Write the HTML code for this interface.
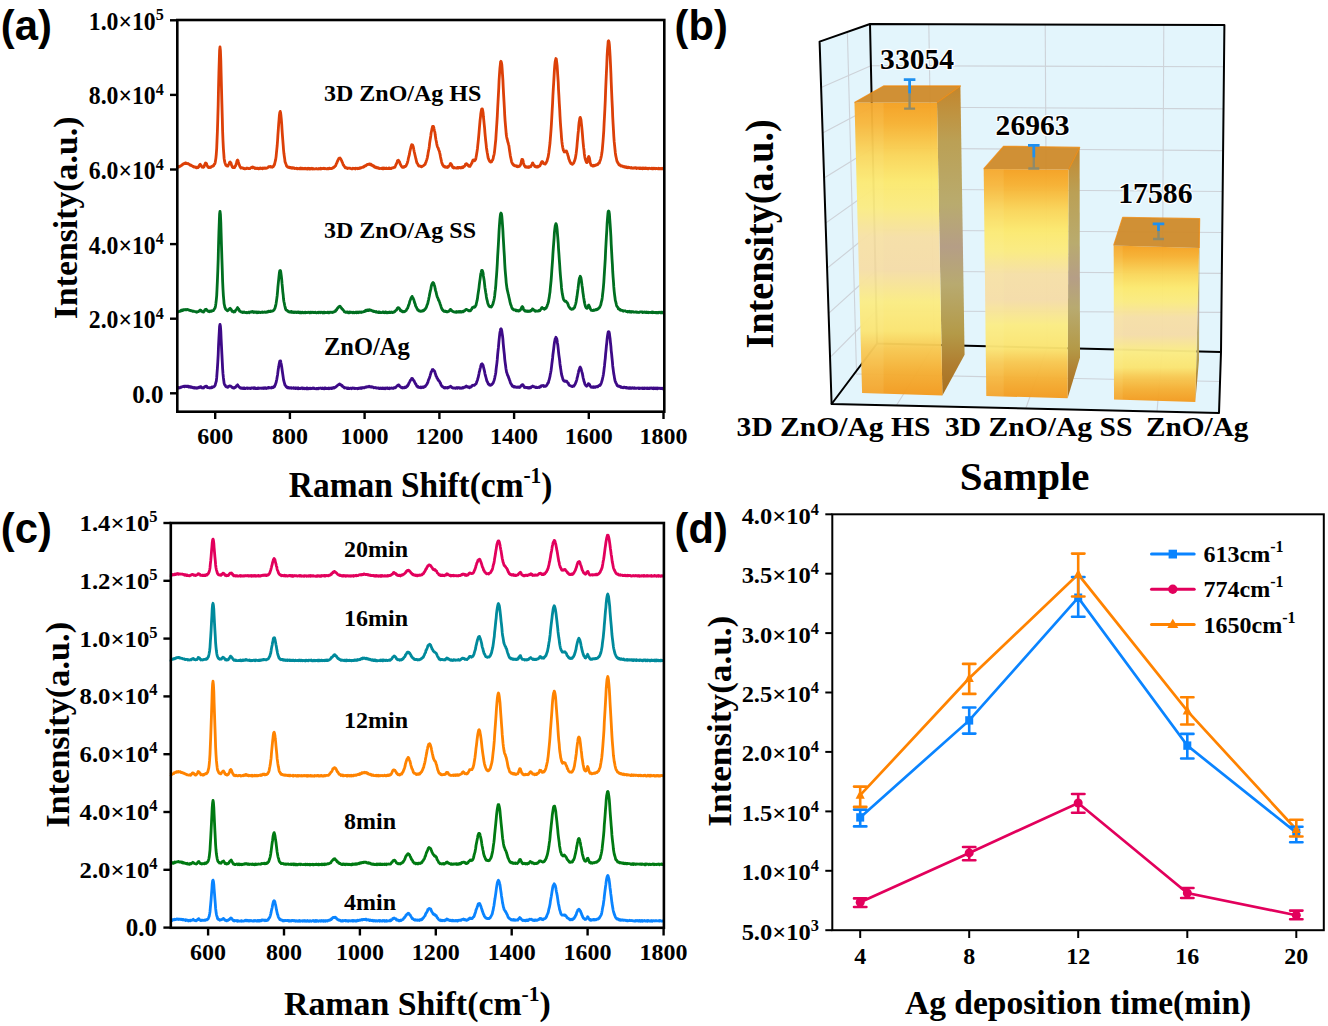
<!DOCTYPE html><html><head><meta charset="utf-8"><style>html,body{margin:0;padding:0;background:#fff;overflow:hidden}svg{display:block}</style></head><body><svg width="1328" height="1026" viewBox="0 0 1328 1026">
<rect width="100%" height="100%" fill="#fff"/>
<path d="M177.8,167.3 L178.2,167.3 L178.5,166.7 L178.9,167.0 L179.3,166.4 L179.7,166.3 L180.0,166.4 L180.4,165.8 L180.8,165.9 L181.2,165.4 L181.5,165.4 L181.9,165.2 L182.3,164.7 L182.7,164.2 L183.0,164.5 L183.4,164.2 L183.8,163.7 L184.2,163.3 L184.5,163.4 L184.9,163.5 L185.3,162.9 L185.6,163.6 L186.0,162.9 L186.4,163.4 L186.8,163.6 L187.1,163.7 L187.5,163.6 L187.9,163.4 L188.3,164.0 L188.6,163.9 L189.0,164.0 L189.4,164.4 L189.8,164.5 L190.1,165.1 L190.5,165.4 L190.9,165.5 L191.3,165.3 L191.6,165.7 L192.0,166.0 L192.4,166.0 L192.7,166.3 L193.1,166.6 L193.5,166.4 L193.9,166.7 L194.2,167.2 L194.6,167.1 L195.0,167.2 L195.4,167.0 L195.7,167.3 L196.1,167.7 L196.5,167.2 L196.9,167.9 L197.2,167.7 L197.6,167.3 L198.0,167.6 L198.4,167.1 L198.7,167.0 L199.1,165.8 L199.5,165.1 L199.8,164.7 L200.2,164.3 L200.6,165.0 L201.0,165.2 L201.3,165.9 L201.7,166.5 L202.1,167.1 L202.5,167.1 L202.8,167.1 L203.2,167.4 L203.6,167.0 L204.0,167.0 L204.3,165.8 L204.7,164.9 L205.1,163.7 L205.5,163.0 L205.8,163.1 L206.2,163.3 L206.6,163.9 L206.9,165.3 L207.3,165.8 L207.7,166.7 L208.1,167.2 L208.4,167.5 L208.8,167.1 L209.2,167.6 L209.6,167.5 L209.9,167.3 L210.3,166.9 L210.7,167.4 L211.1,167.0 L211.4,166.8 L211.8,166.4 L212.2,166.3 L212.5,166.0 L212.9,166.3 L213.3,165.9 L213.7,165.6 L214.0,164.7 L214.4,164.1 L214.8,163.9 L215.2,162.6 L215.5,160.8 L215.9,158.1 L216.3,154.0 L216.7,148.3 L217.0,140.9 L217.4,131.2 L217.8,118.5 L218.2,104.3 L218.5,88.7 L218.9,73.0 L219.3,59.7 L219.6,50.5 L220.0,47.0 L220.4,50.3 L220.8,60.2 L221.1,73.0 L221.5,88.5 L221.9,103.9 L222.3,118.2 L222.6,130.8 L223.0,140.8 L223.4,148.6 L223.8,153.8 L224.1,158.2 L224.5,160.9 L224.9,162.6 L225.3,163.8 L225.6,164.5 L226.0,165.3 L226.4,165.7 L226.7,165.9 L227.1,166.1 L227.5,165.9 L227.9,166.0 L228.2,165.0 L228.6,164.6 L229.0,164.1 L229.4,163.1 L229.7,162.2 L230.1,162.0 L230.5,162.6 L230.9,162.9 L231.2,163.9 L231.6,165.4 L232.0,166.2 L232.4,167.1 L232.7,167.5 L233.1,167.5 L233.5,167.6 L233.8,167.2 L234.2,167.6 L234.6,167.6 L235.0,166.4 L235.3,166.2 L235.7,165.6 L236.1,164.1 L236.5,163.3 L236.8,161.6 L237.2,160.3 L237.6,160.0 L238.0,160.5 L238.3,161.9 L238.7,163.1 L239.1,164.6 L239.5,165.3 L239.8,166.4 L240.2,166.9 L240.6,167.7 L240.9,168.1 L241.3,167.8 L241.7,167.7 L242.1,167.9 L242.4,168.0 L242.8,168.0 L243.2,168.1 L243.6,168.6 L243.9,168.3 L244.3,168.5 L244.7,168.8 L245.1,168.8 L245.4,168.6 L245.8,168.6 L246.2,168.3 L246.6,168.1 L246.9,168.5 L247.3,168.1 L247.7,168.1 L248.0,168.1 L248.4,168.6 L248.8,168.7 L249.2,168.6 L249.5,168.6 L249.9,168.6 L250.3,168.1 L250.7,167.8 L251.0,167.7 L251.4,167.7 L251.8,167.4 L252.2,167.1 L252.5,167.7 L252.9,167.3 L253.3,167.2 L253.7,167.5 L254.0,167.7 L254.4,168.1 L254.8,168.5 L255.1,168.1 L255.5,168.5 L255.9,168.2 L256.3,168.1 L256.6,168.5 L257.0,168.5 L257.4,168.1 L257.8,168.3 L258.1,168.7 L258.5,168.8 L258.9,168.7 L259.3,168.1 L259.6,168.2 L260.0,168.7 L260.4,168.2 L260.8,168.0 L261.1,168.3 L261.5,168.5 L261.9,168.4 L262.2,168.7 L262.6,168.8 L263.0,168.0 L263.4,168.2 L263.7,168.3 L264.1,167.9 L264.5,168.3 L264.9,167.9 L265.2,167.9 L265.6,168.4 L266.0,168.3 L266.4,168.2 L266.7,168.2 L267.1,167.8 L267.5,167.8 L267.8,167.5 L268.2,167.5 L268.6,166.6 L269.0,166.9 L269.3,166.7 L269.7,166.6 L270.1,166.4 L270.5,166.9 L270.8,166.6 L271.2,167.0 L271.6,167.0 L272.0,167.0 L272.3,167.3 L272.7,166.7 L273.1,166.7 L273.5,166.5 L273.8,165.4 L274.2,165.2 L274.6,164.1 L274.9,162.7 L275.3,161.2 L275.7,159.4 L276.1,156.6 L276.4,153.4 L276.8,149.4 L277.2,145.5 L277.6,140.2 L277.9,135.1 L278.3,129.6 L278.7,123.8 L279.1,119.1 L279.4,115.1 L279.8,112.4 L280.2,111.4 L280.6,112.7 L280.9,115.1 L281.3,119.1 L281.7,124.0 L282.0,129.2 L282.4,134.9 L282.8,140.2 L283.2,145.2 L283.5,149.3 L283.9,153.3 L284.3,156.3 L284.7,158.9 L285.0,161.5 L285.4,162.8 L285.8,163.7 L286.2,164.7 L286.5,165.9 L286.9,166.4 L287.3,166.6 L287.7,167.1 L288.0,167.2 L288.4,167.5 L288.8,167.2 L289.1,167.2 L289.5,167.2 L289.9,167.9 L290.3,167.5 L290.6,167.7 L291.0,168.1 L291.4,167.6 L291.8,167.6 L292.1,168.2 L292.5,167.7 L292.9,168.2 L293.3,168.1 L293.6,167.8 L294.0,167.9 L294.4,168.5 L294.8,168.3 L295.1,168.3 L295.5,168.4 L295.9,168.6 L296.2,168.5 L296.6,168.2 L297.0,168.8 L297.4,168.4 L297.7,168.5 L298.1,168.8 L298.5,168.6 L298.9,168.4 L299.2,168.5 L299.6,168.8 L300.0,168.1 L300.4,168.3 L300.7,168.1 L301.1,168.8 L301.5,168.7 L301.9,168.9 L302.2,168.3 L302.6,168.7 L303.0,168.9 L303.3,168.6 L303.7,168.3 L304.1,168.3 L304.5,168.8 L304.8,168.9 L305.2,168.3 L305.6,168.6 L306.0,168.5 L306.3,168.9 L306.7,169.0 L307.1,168.5 L307.5,168.7 L307.8,169.0 L308.2,168.3 L308.6,168.5 L309.0,168.4 L309.3,169.0 L309.7,168.4 L310.1,169.0 L310.4,168.4 L310.8,168.7 L311.2,168.8 L311.6,168.6 L311.9,168.3 L312.3,168.8 L312.7,169.0 L313.1,168.6 L313.4,168.9 L313.8,169.0 L314.2,168.9 L314.6,169.0 L314.9,168.9 L315.3,168.8 L315.7,168.8 L316.1,168.5 L316.4,168.8 L316.8,168.7 L317.2,168.9 L317.5,168.8 L317.9,169.0 L318.3,168.9 L318.7,169.0 L319.0,168.5 L319.4,168.6 L319.8,168.9 L320.2,168.7 L320.5,168.3 L320.9,169.0 L321.3,168.4 L321.7,168.7 L322.0,168.6 L322.4,168.4 L322.8,168.7 L323.1,168.6 L323.5,168.5 L323.9,168.2 L324.3,168.7 L324.6,168.3 L325.0,168.4 L325.4,168.5 L325.8,168.7 L326.1,168.7 L326.5,168.9 L326.9,168.9 L327.3,168.9 L327.6,168.4 L328.0,168.7 L328.4,168.8 L328.8,168.8 L329.1,168.2 L329.5,168.2 L329.9,168.3 L330.2,168.6 L330.6,168.6 L331.0,168.5 L331.4,168.3 L331.7,168.5 L332.1,168.2 L332.5,168.3 L332.9,167.6 L333.2,167.4 L333.6,167.6 L334.0,167.5 L334.4,166.6 L334.7,166.8 L335.1,166.2 L335.5,165.9 L335.9,164.9 L336.2,164.1 L336.6,163.2 L337.0,162.6 L337.3,161.4 L337.7,160.9 L338.1,159.8 L338.5,159.2 L338.8,158.4 L339.2,158.2 L339.6,158.1 L340.0,158.0 L340.3,158.5 L340.7,158.8 L341.1,159.6 L341.5,160.3 L341.8,161.3 L342.2,162.2 L342.6,162.9 L343.0,164.2 L343.3,165.0 L343.7,165.1 L344.1,166.4 L344.4,166.4 L344.8,166.9 L345.2,167.7 L345.6,167.3 L345.9,167.5 L346.3,167.8 L346.7,167.9 L347.1,167.9 L347.4,168.5 L347.8,168.2 L348.2,168.3 L348.6,168.1 L348.9,168.1 L349.3,168.1 L349.7,168.3 L350.1,168.1 L350.4,168.3 L350.8,168.3 L351.2,168.7 L351.5,168.8 L351.9,168.8 L352.3,168.6 L352.7,168.8 L353.0,168.2 L353.4,168.4 L353.8,168.4 L354.2,168.4 L354.5,168.3 L354.9,168.5 L355.3,168.9 L355.7,168.2 L356.0,168.3 L356.4,168.4 L356.8,168.4 L357.2,168.3 L357.5,168.7 L357.9,168.2 L358.3,168.5 L358.6,168.6 L359.0,168.4 L359.4,168.0 L359.8,168.4 L360.1,167.9 L360.5,167.6 L360.9,167.9 L361.3,167.9 L361.6,167.7 L362.0,167.4 L362.4,167.2 L362.8,167.1 L363.1,166.9 L363.5,167.2 L363.9,166.9 L364.3,166.6 L364.6,166.0 L365.0,166.1 L365.4,165.7 L365.7,165.9 L366.1,165.6 L366.5,165.2 L366.9,164.7 L367.2,164.5 L367.6,164.4 L368.0,164.5 L368.4,164.3 L368.7,164.2 L369.1,164.2 L369.5,164.5 L369.9,163.9 L370.2,164.6 L370.6,164.1 L371.0,164.3 L371.4,165.2 L371.7,165.1 L372.1,165.0 L372.5,165.1 L372.8,165.8 L373.2,166.1 L373.6,166.4 L374.0,166.1 L374.3,166.9 L374.7,166.8 L375.1,167.3 L375.5,167.2 L375.8,167.0 L376.2,167.8 L376.6,167.4 L377.0,167.7 L377.3,167.5 L377.7,167.8 L378.1,168.2 L378.5,167.8 L378.8,168.2 L379.2,168.6 L379.6,168.6 L379.9,168.3 L380.3,168.4 L380.7,168.5 L381.1,168.6 L381.4,168.5 L381.8,168.5 L382.2,168.1 L382.6,168.8 L382.9,168.2 L383.3,168.1 L383.7,168.7 L384.1,168.1 L384.4,168.3 L384.8,168.1 L385.2,168.6 L385.5,168.5 L385.9,168.5 L386.3,168.0 L386.7,168.3 L387.0,168.5 L387.4,168.5 L387.8,168.6 L388.2,168.7 L388.5,168.7 L388.9,168.1 L389.3,168.5 L389.7,168.0 L390.0,168.5 L390.4,168.5 L390.8,168.3 L391.2,168.5 L391.5,168.3 L391.9,167.8 L392.3,167.8 L392.6,167.8 L393.0,167.9 L393.4,167.6 L393.8,167.4 L394.1,167.5 L394.5,167.1 L394.9,167.2 L395.3,166.1 L395.6,165.6 L396.0,164.6 L396.4,163.7 L396.8,163.0 L397.1,162.2 L397.5,160.7 L397.9,160.7 L398.3,160.2 L398.6,160.5 L399.0,161.1 L399.4,161.6 L399.7,162.3 L400.1,163.8 L400.5,164.4 L400.9,165.4 L401.2,165.9 L401.6,166.5 L402.0,167.0 L402.4,167.3 L402.7,167.4 L403.1,166.9 L403.5,167.2 L403.9,167.3 L404.2,166.7 L404.6,166.4 L405.0,166.6 L405.4,166.6 L405.7,166.1 L406.1,165.7 L406.5,164.8 L406.8,164.2 L407.2,163.2 L407.6,162.0 L408.0,160.5 L408.3,158.7 L408.7,157.2 L409.1,155.7 L409.5,153.9 L409.8,151.9 L410.2,150.2 L410.6,148.5 L411.0,147.2 L411.3,145.9 L411.7,144.6 L412.1,145.0 L412.5,144.9 L412.8,145.6 L413.2,146.5 L413.6,148.5 L413.9,150.1 L414.3,152.0 L414.7,153.7 L415.1,155.5 L415.4,156.8 L415.8,158.5 L416.2,159.9 L416.6,161.9 L416.9,163.0 L417.3,163.3 L417.7,164.0 L418.1,164.9 L418.4,165.3 L418.8,166.1 L419.2,166.1 L419.6,165.9 L419.9,166.1 L420.3,166.2 L420.7,166.1 L421.0,166.7 L421.4,166.8 L421.8,166.7 L422.2,166.4 L422.5,166.1 L422.9,165.8 L423.3,165.8 L423.7,165.6 L424.0,165.1 L424.4,165.0 L424.8,164.4 L425.2,164.3 L425.5,162.9 L425.9,162.5 L426.3,160.9 L426.7,159.9 L427.0,158.8 L427.4,157.3 L427.8,155.4 L428.1,153.1 L428.5,150.9 L428.9,149.0 L429.3,146.5 L429.6,143.5 L430.0,140.7 L430.4,138.2 L430.8,135.7 L431.1,133.0 L431.5,131.2 L431.9,129.2 L432.3,127.6 L432.6,126.3 L433.0,126.3 L433.4,126.4 L433.8,127.5 L434.1,129.1 L434.5,130.8 L434.9,132.3 L435.2,134.8 L435.6,137.5 L436.0,140.0 L436.4,141.8 L436.7,143.6 L437.1,145.4 L437.5,146.9 L437.9,147.6 L438.2,148.2 L438.6,149.5 L439.0,150.5 L439.4,151.4 L439.7,152.8 L440.1,154.4 L440.5,156.7 L440.8,158.2 L441.2,160.0 L441.6,161.8 L442.0,163.3 L442.3,163.8 L442.7,165.1 L443.1,165.3 L443.5,166.2 L443.8,166.5 L444.2,166.3 L444.6,166.9 L445.0,166.5 L445.3,166.9 L445.7,167.3 L446.1,167.3 L446.5,167.2 L446.8,167.0 L447.2,166.8 L447.6,167.4 L447.9,167.1 L448.3,167.1 L448.7,166.1 L449.1,166.2 L449.4,165.6 L449.8,164.9 L450.2,164.0 L450.6,163.4 L450.9,163.7 L451.3,164.4 L451.7,165.0 L452.1,165.8 L452.4,166.8 L452.8,167.4 L453.2,167.0 L453.6,167.3 L453.9,168.0 L454.3,167.5 L454.7,167.8 L455.0,167.8 L455.4,167.9 L455.8,168.0 L456.2,168.1 L456.5,167.9 L456.9,167.9 L457.3,167.4 L457.7,168.1 L458.0,167.4 L458.4,168.0 L458.8,167.8 L459.2,167.5 L459.5,167.4 L459.9,167.7 L460.3,168.0 L460.7,167.7 L461.0,167.7 L461.4,167.3 L461.8,167.8 L462.1,167.6 L462.5,167.1 L462.9,167.6 L463.3,167.2 L463.6,166.6 L464.0,166.2 L464.4,166.4 L464.8,165.9 L465.1,165.3 L465.5,164.1 L465.9,164.2 L466.3,163.6 L466.6,163.6 L467.0,164.3 L467.4,164.8 L467.8,164.7 L468.1,165.4 L468.5,166.0 L468.9,165.9 L469.2,166.3 L469.6,166.3 L470.0,166.4 L470.4,165.5 L470.7,164.9 L471.1,164.5 L471.5,163.4 L471.9,163.1 L472.2,161.9 L472.6,160.9 L473.0,160.0 L473.4,159.9 L473.7,160.5 L474.1,160.8 L474.5,160.8 L474.9,160.6 L475.2,159.8 L475.6,159.4 L476.0,157.6 L476.3,155.9 L476.7,153.6 L477.1,151.1 L477.5,148.2 L477.8,145.1 L478.2,141.4 L478.6,137.4 L479.0,132.9 L479.3,129.1 L479.7,124.7 L480.1,120.2 L480.5,116.8 L480.8,113.7 L481.2,111.2 L481.6,109.2 L482.0,108.8 L482.3,108.8 L482.7,110.4 L483.1,112.7 L483.4,116.5 L483.8,120.3 L484.2,124.4 L484.6,128.2 L484.9,132.3 L485.3,136.6 L485.7,140.7 L486.1,144.1 L486.4,147.2 L486.8,150.1 L487.2,152.5 L487.6,154.6 L487.9,156.6 L488.3,158.5 L488.7,159.1 L489.1,160.4 L489.4,160.9 L489.8,161.5 L490.2,161.5 L490.5,162.1 L490.9,162.1 L491.3,161.9 L491.7,161.7 L492.0,160.6 L492.4,160.2 L492.8,159.6 L493.2,158.4 L493.5,156.5 L493.9,155.1 L494.3,153.2 L494.7,150.1 L495.0,147.1 L495.4,143.1 L495.8,139.5 L496.1,134.3 L496.5,128.5 L496.9,122.4 L497.3,115.8 L497.6,109.5 L498.0,102.0 L498.4,94.8 L498.8,87.5 L499.1,80.0 L499.5,74.0 L499.9,68.5 L500.3,64.8 L500.6,61.9 L501.0,61.3 L501.4,62.4 L501.8,64.5 L502.1,68.4 L502.5,74.3 L502.9,80.1 L503.2,86.9 L503.6,94.3 L504.0,101.4 L504.4,108.5 L504.7,114.9 L505.1,120.8 L505.5,125.7 L505.9,130.1 L506.2,134.0 L506.6,136.8 L507.0,138.7 L507.4,139.9 L507.7,141.6 L508.1,142.7 L508.5,144.3 L508.9,145.7 L509.2,148.1 L509.6,150.9 L510.0,153.4 L510.3,155.5 L510.7,157.5 L511.1,159.3 L511.5,161.3 L511.8,162.4 L512.2,163.0 L512.6,163.9 L513.0,164.5 L513.3,164.9 L513.7,164.7 L514.1,165.5 L514.5,165.5 L514.8,165.8 L515.2,165.9 L515.6,165.7 L516.0,165.7 L516.3,166.3 L516.7,166.5 L517.1,166.1 L517.4,166.6 L517.8,166.8 L518.2,166.1 L518.6,166.5 L518.9,166.2 L519.3,166.4 L519.7,165.8 L520.1,165.6 L520.4,165.1 L520.8,164.1 L521.2,162.3 L521.6,160.7 L521.9,159.3 L522.3,159.5 L522.7,159.6 L523.1,161.0 L523.4,162.5 L523.8,164.2 L524.2,165.3 L524.5,165.9 L524.9,166.1 L525.3,167.1 L525.7,166.9 L526.0,166.8 L526.4,166.7 L526.8,167.4 L527.2,167.4 L527.5,166.8 L527.9,166.8 L528.3,167.2 L528.7,167.5 L529.0,166.8 L529.4,167.2 L529.8,166.7 L530.2,166.8 L530.5,166.3 L530.9,166.5 L531.3,165.4 L531.6,165.1 L532.0,164.2 L532.4,163.2 L532.8,162.9 L533.1,163.7 L533.5,164.3 L533.9,164.8 L534.3,165.4 L534.6,166.1 L535.0,166.7 L535.4,166.8 L535.8,166.5 L536.1,166.4 L536.5,167.1 L536.9,166.7 L537.3,166.5 L537.6,167.0 L538.0,166.3 L538.4,166.8 L538.7,166.3 L539.1,166.2 L539.5,165.9 L539.9,165.8 L540.2,165.2 L540.6,164.3 L541.0,163.5 L541.4,162.4 L541.7,161.8 L542.1,161.4 L542.5,161.9 L542.9,161.9 L543.2,162.7 L543.6,163.6 L544.0,163.6 L544.4,163.8 L544.7,164.0 L545.1,164.1 L545.5,163.5 L545.8,163.4 L546.2,162.8 L546.6,161.8 L547.0,161.2 L547.3,159.9 L547.7,158.5 L548.1,157.2 L548.5,154.8 L548.8,153.0 L549.2,149.7 L549.6,146.5 L550.0,143.0 L550.3,139.2 L550.7,134.1 L551.1,128.9 L551.5,122.7 L551.8,117.1 L552.2,109.9 L552.6,102.9 L552.9,96.0 L553.3,88.9 L553.7,82.6 L554.1,75.6 L554.4,70.3 L554.8,65.1 L555.2,61.5 L555.6,59.8 L555.9,58.5 L556.3,59.1 L556.7,62.1 L557.1,65.4 L557.4,69.9 L557.8,76.1 L558.2,81.8 L558.5,89.1 L558.9,95.6 L559.3,103.2 L559.7,109.7 L560.0,115.9 L560.4,122.6 L560.8,128.2 L561.2,133.0 L561.5,137.6 L561.9,141.7 L562.3,144.8 L562.7,147.3 L563.0,148.7 L563.4,150.3 L563.8,150.9 L564.2,151.9 L564.5,151.5 L564.9,151.9 L565.3,151.3 L565.6,151.0 L566.0,151.1 L566.4,151.0 L566.8,151.8 L567.1,152.7 L567.5,153.6 L567.9,155.6 L568.3,156.3 L568.6,158.0 L569.0,159.4 L569.4,160.2 L569.8,161.6 L570.1,161.9 L570.5,162.8 L570.9,163.5 L571.3,163.5 L571.6,163.9 L572.0,164.2 L572.4,163.8 L572.7,164.2 L573.1,163.4 L573.5,163.4 L573.9,162.6 L574.2,161.5 L574.6,160.8 L575.0,159.4 L575.4,158.0 L575.7,156.2 L576.1,153.7 L576.5,150.6 L576.9,146.8 L577.2,143.1 L577.6,139.0 L578.0,134.3 L578.4,130.7 L578.7,126.5 L579.1,122.5 L579.5,120.2 L579.8,118.3 L580.2,117.4 L580.6,118.3 L581.0,119.9 L581.3,122.9 L581.7,126.3 L582.1,130.4 L582.5,135.0 L582.8,139.0 L583.2,143.3 L583.6,147.4 L584.0,150.2 L584.3,153.7 L584.7,156.4 L585.1,158.5 L585.5,159.7 L585.8,160.8 L586.2,161.8 L586.6,162.6 L586.9,162.6 L587.3,162.1 L587.7,160.3 L588.1,158.6 L588.4,157.2 L588.8,156.4 L589.2,157.4 L589.6,158.9 L589.9,161.1 L590.3,163.2 L590.7,163.9 L591.1,165.3 L591.4,165.3 L591.8,165.6 L592.2,165.8 L592.6,166.0 L592.9,165.4 L593.3,166.0 L593.7,165.5 L594.0,165.2 L594.4,165.8 L594.8,165.7 L595.2,165.3 L595.5,165.2 L595.9,165.0 L596.3,164.7 L596.7,165.1 L597.0,164.8 L597.4,164.6 L597.8,164.6 L598.2,163.6 L598.5,163.3 L598.9,163.0 L599.3,163.0 L599.7,161.6 L600.0,160.9 L600.4,160.0 L600.8,158.5 L601.1,157.1 L601.5,155.2 L601.9,152.8 L602.3,149.6 L602.6,146.1 L603.0,141.5 L603.4,136.1 L603.8,130.3 L604.1,123.6 L604.5,116.4 L604.9,108.8 L605.3,100.0 L605.6,91.1 L606.0,81.7 L606.4,72.9 L606.8,64.5 L607.1,56.4 L607.5,49.5 L607.9,45.0 L608.2,41.2 L608.6,40.8 L609.0,41.7 L609.4,45.0 L609.7,49.7 L610.1,56.2 L610.5,64.2 L610.9,73.2 L611.2,81.8 L611.6,91.3 L612.0,100.4 L612.4,108.4 L612.7,116.6 L613.1,123.9 L613.5,130.6 L613.8,136.2 L614.2,141.7 L614.6,145.7 L615.0,149.5 L615.3,152.5 L615.7,155.4 L616.1,157.2 L616.5,159.0 L616.8,160.5 L617.2,161.7 L617.6,162.2 L618.0,163.4 L618.3,163.3 L618.7,164.3 L619.1,164.8 L619.5,165.1 L619.8,164.7 L620.2,165.4 L620.6,165.8 L620.9,166.1 L621.3,166.2 L621.7,165.8 L622.1,166.0 L622.4,166.1 L622.8,166.2 L623.2,166.9 L623.6,166.5 L623.9,166.8 L624.3,166.5 L624.7,166.6 L625.1,166.6 L625.4,167.4 L625.8,166.8 L626.2,166.8 L626.6,166.9 L626.9,167.6 L627.3,167.6 L627.7,167.7 L628.0,167.8 L628.4,167.2 L628.8,167.3 L629.2,167.5 L629.5,167.4 L629.9,167.6 L630.3,167.9 L630.7,168.1 L631.0,168.1 L631.4,167.6 L631.8,168.1 L632.2,168.0 L632.5,167.9 L632.9,168.3 L633.3,168.1 L633.7,168.1 L634.0,167.8 L634.4,168.1 L634.8,168.2 L635.1,167.7 L635.5,168.1 L635.9,167.8 L636.3,168.0 L636.6,168.5 L637.0,168.2 L637.4,168.2 L637.8,168.0 L638.1,168.3 L638.5,168.0 L638.9,168.2 L639.3,168.5 L639.6,168.0 L640.0,168.6 L640.4,168.0 L640.8,168.6 L641.1,168.7 L641.5,168.5 L641.9,168.1 L642.2,167.9 L642.6,168.7 L643.0,168.4 L643.4,168.4 L643.7,168.1 L644.1,168.6 L644.5,168.4 L644.9,168.5 L645.2,168.1 L645.6,168.6 L646.0,168.1 L646.4,168.6 L646.7,168.7 L647.1,168.3 L647.5,168.5 L647.9,168.8 L648.2,168.4 L648.6,168.8 L649.0,168.2 L649.3,168.3 L649.7,168.3 L650.1,168.4 L650.5,168.6 L650.8,168.6 L651.2,168.6 L651.6,168.2 L652.0,168.9 L652.3,168.2 L652.7,168.9 L653.1,168.8 L653.5,168.7 L653.8,168.2 L654.2,168.6 L654.6,168.7 L655.0,168.3 L655.3,168.8 L655.7,168.6 L656.1,168.6 L656.4,168.4 L656.8,168.4 L657.2,168.5 L657.6,168.7 L657.9,168.7 L658.3,168.9 L658.7,168.3 L659.1,168.5 L659.4,168.4 L659.8,168.9 L660.2,168.7 L660.6,168.4 L660.9,168.6 L661.3,168.9 L661.7,168.7 L662.1,168.3 L662.4,168.8 L662.8,168.9 L663.2,168.8 L663.5,168.5" fill="none" stroke="#DC4008" stroke-width="2.8" stroke-linejoin="round"/>
<path d="M177.8,311.4 L178.2,311.9 L178.5,311.8 L178.9,311.6 L179.3,311.5 L179.7,311.2 L180.0,311.4 L180.4,311.1 L180.8,311.1 L181.2,310.3 L181.5,310.4 L181.9,310.8 L182.3,309.9 L182.7,310.5 L183.0,310.2 L183.4,309.6 L183.8,309.6 L184.2,309.6 L184.5,309.7 L184.9,309.9 L185.3,309.5 L185.6,309.9 L186.0,309.8 L186.4,309.6 L186.8,309.9 L187.1,309.7 L187.5,309.4 L187.9,309.6 L188.3,309.8 L188.6,309.8 L189.0,310.1 L189.4,310.4 L189.8,310.2 L190.1,310.5 L190.5,310.3 L190.9,310.3 L191.3,310.8 L191.6,310.8 L192.0,310.8 L192.4,311.2 L192.7,311.4 L193.1,311.1 L193.5,311.1 L193.9,311.3 L194.2,311.4 L194.6,311.4 L195.0,311.6 L195.4,311.7 L195.7,311.9 L196.1,312.0 L196.5,311.8 L196.9,312.2 L197.2,312.0 L197.6,311.6 L198.0,311.6 L198.4,311.5 L198.7,311.5 L199.1,311.1 L199.5,310.7 L199.8,310.2 L200.2,310.3 L200.6,310.2 L201.0,310.3 L201.3,311.2 L201.7,311.2 L202.1,311.3 L202.5,311.8 L202.8,311.8 L203.2,311.4 L203.6,312.0 L204.0,311.3 L204.3,311.2 L204.7,310.2 L205.1,309.5 L205.5,309.4 L205.8,309.6 L206.2,309.3 L206.6,309.7 L206.9,310.1 L207.3,310.7 L207.7,311.0 L208.1,311.1 L208.4,311.4 L208.8,311.6 L209.2,311.1 L209.6,311.7 L209.9,311.3 L210.3,311.4 L210.7,311.0 L211.1,311.5 L211.4,310.7 L211.8,311.0 L212.2,311.1 L212.5,310.8 L212.9,310.5 L213.3,310.6 L213.7,310.0 L214.0,309.6 L214.4,308.9 L214.8,308.4 L215.2,307.5 L215.5,306.0 L215.9,303.4 L216.3,299.9 L216.7,295.6 L217.0,289.5 L217.4,280.7 L217.8,270.8 L218.2,259.1 L218.5,246.2 L218.9,232.9 L219.3,221.7 L219.6,214.0 L220.0,211.3 L220.4,214.1 L220.8,222.2 L221.1,232.8 L221.5,246.1 L221.9,258.7 L222.3,270.5 L222.6,280.7 L223.0,289.3 L223.4,295.8 L223.8,300.2 L224.1,303.8 L224.5,305.5 L224.9,307.4 L225.3,308.0 L225.6,309.2 L226.0,309.5 L226.4,310.0 L226.7,310.1 L227.1,310.5 L227.5,310.7 L227.9,310.1 L228.2,310.3 L228.6,310.0 L229.0,309.6 L229.4,308.9 L229.7,308.6 L230.1,308.3 L230.5,308.6 L230.9,309.3 L231.2,309.5 L231.6,310.2 L232.0,311.3 L232.4,311.0 L232.7,311.2 L233.1,311.4 L233.5,312.0 L233.8,311.4 L234.2,311.5 L234.6,311.9 L235.0,311.7 L235.3,310.7 L235.7,310.4 L236.1,310.1 L236.5,309.5 L236.8,308.8 L237.2,308.2 L237.6,307.6 L238.0,308.2 L238.3,308.9 L238.7,309.0 L239.1,309.8 L239.5,311.0 L239.8,310.9 L240.2,311.5 L240.6,311.6 L240.9,311.9 L241.3,311.8 L241.7,311.9 L242.1,311.9 L242.4,312.5 L242.8,312.1 L243.2,312.3 L243.6,312.1 L243.9,312.4 L244.3,312.0 L244.7,312.3 L245.1,312.5 L245.4,312.6 L245.8,312.6 L246.2,312.4 L246.6,312.7 L246.9,312.4 L247.3,312.7 L247.7,312.4 L248.0,312.4 L248.4,312.3 L248.8,312.1 L249.2,312.8 L249.5,312.1 L249.9,312.3 L250.3,312.2 L250.7,312.1 L251.0,311.8 L251.4,312.1 L251.8,311.9 L252.2,311.4 L252.5,312.1 L252.9,311.7 L253.3,311.8 L253.7,312.4 L254.0,312.0 L254.4,312.0 L254.8,311.9 L255.1,312.4 L255.5,312.0 L255.9,312.4 L256.3,312.4 L256.6,312.1 L257.0,312.8 L257.4,312.2 L257.8,312.3 L258.1,312.5 L258.5,312.1 L258.9,312.5 L259.3,312.4 L259.6,312.3 L260.0,312.1 L260.4,312.6 L260.8,312.4 L261.1,312.4 L261.5,312.3 L261.9,312.1 L262.2,312.5 L262.6,312.0 L263.0,312.4 L263.4,312.3 L263.7,312.4 L264.1,312.2 L264.5,311.9 L264.9,312.1 L265.2,312.0 L265.6,312.3 L266.0,312.3 L266.4,312.3 L266.7,312.0 L267.1,311.8 L267.5,311.6 L267.8,312.1 L268.2,311.4 L268.6,311.1 L269.0,311.3 L269.3,311.6 L269.7,311.4 L270.1,311.7 L270.5,311.6 L270.8,311.0 L271.2,311.3 L271.6,311.2 L272.0,311.1 L272.3,310.9 L272.7,311.0 L273.1,310.8 L273.5,310.5 L273.8,310.1 L274.2,309.7 L274.6,308.9 L274.9,308.4 L275.3,306.9 L275.7,305.5 L276.1,303.4 L276.4,301.5 L276.8,298.6 L277.2,295.5 L277.6,291.2 L277.9,287.1 L278.3,283.2 L278.7,279.4 L279.1,275.5 L279.4,272.6 L279.8,270.8 L280.2,270.4 L280.6,271.0 L280.9,272.9 L281.3,275.9 L281.7,279.4 L282.0,283.2 L282.4,287.1 L282.8,291.8 L283.2,295.0 L283.5,298.8 L283.9,301.5 L284.3,303.3 L284.7,305.5 L285.0,306.7 L285.4,308.3 L285.8,309.5 L286.2,309.9 L286.5,310.2 L286.9,310.3 L287.3,310.5 L287.7,311.2 L288.0,311.4 L288.4,311.7 L288.8,311.4 L289.1,311.8 L289.5,312.0 L289.9,312.2 L290.3,312.2 L290.6,311.7 L291.0,312.2 L291.4,311.6 L291.8,312.3 L292.1,311.7 L292.5,312.4 L292.9,312.5 L293.3,312.0 L293.6,312.4 L294.0,312.0 L294.4,312.5 L294.8,312.6 L295.1,312.0 L295.5,312.1 L295.9,312.0 L296.2,312.1 L296.6,312.6 L297.0,312.2 L297.4,312.2 L297.7,312.4 L298.1,312.0 L298.5,312.6 L298.9,312.0 L299.2,312.2 L299.6,312.8 L300.0,312.8 L300.4,312.3 L300.7,312.2 L301.1,312.8 L301.5,312.6 L301.9,312.3 L302.2,312.7 L302.6,312.2 L303.0,312.5 L303.3,312.8 L303.7,312.6 L304.1,312.4 L304.5,312.5 L304.8,312.3 L305.2,312.8 L305.6,312.2 L306.0,312.6 L306.3,312.4 L306.7,312.4 L307.1,312.6 L307.5,312.6 L307.8,312.3 L308.2,312.2 L308.6,312.3 L309.0,312.5 L309.3,312.7 L309.7,312.9 L310.1,312.1 L310.4,312.4 L310.8,312.3 L311.2,312.7 L311.6,312.4 L311.9,312.1 L312.3,312.3 L312.7,312.4 L313.1,312.7 L313.4,312.6 L313.8,312.2 L314.2,312.6 L314.6,312.4 L314.9,312.5 L315.3,312.2 L315.7,312.3 L316.1,312.7 L316.4,312.9 L316.8,312.7 L317.2,312.6 L317.5,312.5 L317.9,312.3 L318.3,312.2 L318.7,312.9 L319.0,312.3 L319.4,312.3 L319.8,312.2 L320.2,312.5 L320.5,312.7 L320.9,312.2 L321.3,312.3 L321.7,312.4 L322.0,312.2 L322.4,312.6 L322.8,312.9 L323.1,312.5 L323.5,312.3 L323.9,312.8 L324.3,312.3 L324.6,312.2 L325.0,312.7 L325.4,312.4 L325.8,312.4 L326.1,312.5 L326.5,312.7 L326.9,312.7 L327.3,312.3 L327.6,312.2 L328.0,312.5 L328.4,312.8 L328.8,312.2 L329.1,312.2 L329.5,312.7 L329.9,312.4 L330.2,312.1 L330.6,312.1 L331.0,312.4 L331.4,312.4 L331.7,312.2 L332.1,312.5 L332.5,312.5 L332.9,312.4 L333.2,311.9 L333.6,312.1 L334.0,311.8 L334.4,311.7 L334.7,311.4 L335.1,311.4 L335.5,311.2 L335.9,310.0 L336.2,310.1 L336.6,309.9 L337.0,309.0 L337.3,308.3 L337.7,308.3 L338.1,307.5 L338.5,307.3 L338.8,306.8 L339.2,307.0 L339.6,306.9 L340.0,306.2 L340.3,306.5 L340.7,307.2 L341.1,307.5 L341.5,308.2 L341.8,308.3 L342.2,309.1 L342.6,309.2 L343.0,309.8 L343.3,310.2 L343.7,310.4 L344.1,311.3 L344.4,311.8 L344.8,311.9 L345.2,312.1 L345.6,312.3 L345.9,312.4 L346.3,312.1 L346.7,311.9 L347.1,312.3 L347.4,311.9 L347.8,312.0 L348.2,312.7 L348.6,312.3 L348.9,312.5 L349.3,312.7 L349.7,312.0 L350.1,312.6 L350.4,312.4 L350.8,312.3 L351.2,312.1 L351.5,312.3 L351.9,312.5 L352.3,312.5 L352.7,312.7 L353.0,312.1 L353.4,312.1 L353.8,312.7 L354.2,312.8 L354.5,312.6 L354.9,312.6 L355.3,312.1 L355.7,312.1 L356.0,312.2 L356.4,312.8 L356.8,312.2 L357.2,312.2 L357.5,312.3 L357.9,312.0 L358.3,312.7 L358.6,312.6 L359.0,312.1 L359.4,311.9 L359.8,312.1 L360.1,312.4 L360.5,312.1 L360.9,311.9 L361.3,312.4 L361.6,312.1 L362.0,312.1 L362.4,312.1 L362.8,311.8 L363.1,311.9 L363.5,311.7 L363.9,311.7 L364.3,311.2 L364.6,311.6 L365.0,310.9 L365.4,311.2 L365.7,311.2 L366.1,310.3 L366.5,310.8 L366.9,310.1 L367.2,310.0 L367.6,309.9 L368.0,310.5 L368.4,310.2 L368.7,310.4 L369.1,309.7 L369.5,309.8 L369.9,310.0 L370.2,310.2 L370.6,310.4 L371.0,310.1 L371.4,310.4 L371.7,310.4 L372.1,310.9 L372.5,311.0 L372.8,311.3 L373.2,310.9 L373.6,311.1 L374.0,311.6 L374.3,311.1 L374.7,311.7 L375.1,311.7 L375.5,312.0 L375.8,312.0 L376.2,311.6 L376.6,312.1 L377.0,312.3 L377.3,312.1 L377.7,312.3 L378.1,311.9 L378.5,312.5 L378.8,311.9 L379.2,312.6 L379.6,312.0 L379.9,312.2 L380.3,312.6 L380.7,312.4 L381.1,312.5 L381.4,312.6 L381.8,312.6 L382.2,312.5 L382.6,312.0 L382.9,312.0 L383.3,312.0 L383.7,312.7 L384.1,312.6 L384.4,312.1 L384.8,312.7 L385.2,312.2 L385.5,312.6 L385.9,312.0 L386.3,312.8 L386.7,312.1 L387.0,312.5 L387.4,312.7 L387.8,312.8 L388.2,312.1 L388.5,312.3 L388.9,312.6 L389.3,312.4 L389.7,312.0 L390.0,312.5 L390.4,312.3 L390.8,312.6 L391.2,312.5 L391.5,312.0 L391.9,312.1 L392.3,312.5 L392.6,312.5 L393.0,312.5 L393.4,312.0 L393.8,312.0 L394.1,312.1 L394.5,312.0 L394.9,311.4 L395.3,311.0 L395.6,310.6 L396.0,310.3 L396.4,310.1 L396.8,309.6 L397.1,308.6 L397.5,308.4 L397.9,307.8 L398.3,308.2 L398.6,307.7 L399.0,308.4 L399.4,308.4 L399.7,308.9 L400.1,309.7 L400.5,310.6 L400.9,310.3 L401.2,311.0 L401.6,310.9 L402.0,311.6 L402.4,311.8 L402.7,311.3 L403.1,311.7 L403.5,311.8 L403.9,311.6 L404.2,311.4 L404.6,311.7 L405.0,311.2 L405.4,311.0 L405.7,310.7 L406.1,310.7 L406.5,309.8 L406.8,309.2 L407.2,308.5 L407.6,308.2 L408.0,307.0 L408.3,306.3 L408.7,304.9 L409.1,304.3 L409.5,302.5 L409.8,301.2 L410.2,300.3 L410.6,299.2 L411.0,298.2 L411.3,297.4 L411.7,297.4 L412.1,296.4 L412.5,297.2 L412.8,297.7 L413.2,298.5 L413.6,299.3 L413.9,300.0 L414.3,301.8 L414.7,303.0 L415.1,303.7 L415.4,305.2 L415.8,306.4 L416.2,306.9 L416.6,307.7 L416.9,308.5 L417.3,308.9 L417.7,309.9 L418.1,309.7 L418.4,310.1 L418.8,310.9 L419.2,311.0 L419.6,310.9 L419.9,311.0 L420.3,311.2 L420.7,311.4 L421.0,311.1 L421.4,311.3 L421.8,310.9 L422.2,310.7 L422.5,311.1 L422.9,310.7 L423.3,310.4 L423.7,310.7 L424.0,309.9 L424.4,309.6 L424.8,309.7 L425.2,309.2 L425.5,308.4 L425.9,308.0 L426.3,307.4 L426.7,306.1 L427.0,305.2 L427.4,304.4 L427.8,303.2 L428.1,301.7 L428.5,300.1 L428.9,298.0 L429.3,296.3 L429.6,294.4 L430.0,292.5 L430.4,290.6 L430.8,289.4 L431.1,287.3 L431.5,285.4 L431.9,284.1 L432.3,283.6 L432.6,282.9 L433.0,282.5 L433.4,282.9 L433.8,283.4 L434.1,284.7 L434.5,285.7 L434.9,287.1 L435.2,289.1 L435.6,290.7 L436.0,291.8 L436.4,293.6 L436.7,294.9 L437.1,296.4 L437.5,297.4 L437.9,298.3 L438.2,299.0 L438.6,300.4 L439.0,300.6 L439.4,301.8 L439.7,302.5 L440.1,303.9 L440.5,304.9 L440.8,305.8 L441.2,307.2 L441.6,308.4 L442.0,309.0 L442.3,309.7 L442.7,309.7 L443.1,310.6 L443.5,310.9 L443.8,310.8 L444.2,311.4 L444.6,311.1 L445.0,310.9 L445.3,311.3 L445.7,311.6 L446.1,311.5 L446.5,311.4 L446.8,311.8 L447.2,311.8 L447.6,311.8 L447.9,311.6 L448.3,311.4 L448.7,311.3 L449.1,311.0 L449.4,310.8 L449.8,310.0 L450.2,309.5 L450.6,309.5 L450.9,309.7 L451.3,310.0 L451.7,310.8 L452.1,310.8 L452.4,311.3 L452.8,311.5 L453.2,311.6 L453.6,311.8 L453.9,311.9 L454.3,312.0 L454.7,312.1 L455.0,311.8 L455.4,311.9 L455.8,311.8 L456.2,312.3 L456.5,312.0 L456.9,311.6 L457.3,312.1 L457.7,311.8 L458.0,311.9 L458.4,312.0 L458.8,311.5 L459.2,312.0 L459.5,311.6 L459.9,312.1 L460.3,312.1 L460.7,311.5 L461.0,311.8 L461.4,312.1 L461.8,311.8 L462.1,311.7 L462.5,311.4 L462.9,311.9 L463.3,311.7 L463.6,310.9 L464.0,310.9 L464.4,311.1 L464.8,310.7 L465.1,310.3 L465.5,309.8 L465.9,309.6 L466.3,309.3 L466.6,309.4 L467.0,309.8 L467.4,309.8 L467.8,310.1 L468.1,310.3 L468.5,310.7 L468.9,310.5 L469.2,310.6 L469.6,310.5 L470.0,311.0 L470.4,310.2 L470.7,310.6 L471.1,309.6 L471.5,309.3 L471.9,308.8 L472.2,307.8 L472.6,307.6 L473.0,307.4 L473.4,307.0 L473.7,306.9 L474.1,307.2 L474.5,307.3 L474.9,307.1 L475.2,306.6 L475.6,305.7 L476.0,305.1 L476.3,303.7 L476.7,302.0 L477.1,300.4 L477.5,298.3 L477.8,295.6 L478.2,293.0 L478.6,290.4 L479.0,287.6 L479.3,284.7 L479.7,281.6 L480.1,278.9 L480.5,275.9 L480.8,273.6 L481.2,272.3 L481.6,270.5 L482.0,270.5 L482.3,270.5 L482.7,271.5 L483.1,273.1 L483.4,275.9 L483.8,278.3 L484.2,280.7 L484.6,284.3 L484.9,287.2 L485.3,289.7 L485.7,292.4 L486.1,294.6 L486.4,297.0 L486.8,299.2 L487.2,300.5 L487.6,302.4 L487.9,303.6 L488.3,304.5 L488.7,305.5 L489.1,306.1 L489.4,306.4 L489.8,306.8 L490.2,306.5 L490.5,306.8 L490.9,306.8 L491.3,307.0 L491.7,306.4 L492.0,305.9 L492.4,305.1 L492.8,304.3 L493.2,303.0 L493.5,301.6 L493.9,300.3 L494.3,298.3 L494.7,295.7 L495.0,292.5 L495.4,289.5 L495.8,285.3 L496.1,280.5 L496.5,275.9 L496.9,270.1 L497.3,263.5 L497.6,257.1 L498.0,250.6 L498.4,244.0 L498.8,236.6 L499.1,230.4 L499.5,224.5 L499.9,219.4 L500.3,215.7 L500.6,213.7 L501.0,213.1 L501.4,213.8 L501.8,216.0 L502.1,219.7 L502.5,224.9 L502.9,230.7 L503.2,236.7 L503.6,243.4 L504.0,250.4 L504.4,256.5 L504.7,263.0 L505.1,269.3 L505.5,274.2 L505.9,278.4 L506.2,282.6 L506.6,285.5 L507.0,288.6 L507.4,290.4 L507.7,291.7 L508.1,293.4 L508.5,294.9 L508.9,296.9 L509.2,298.3 L509.6,300.0 L510.0,301.9 L510.3,303.1 L510.7,304.6 L511.1,305.4 L511.5,306.7 L511.8,307.6 L512.2,308.5 L512.6,308.9 L513.0,308.8 L513.3,309.6 L513.7,309.9 L514.1,310.0 L514.5,309.9 L514.8,309.8 L515.2,310.0 L515.6,310.0 L516.0,310.7 L516.3,310.8 L516.7,310.3 L517.1,310.7 L517.4,310.4 L517.8,310.8 L518.2,311.0 L518.6,310.9 L518.9,311.0 L519.3,310.3 L519.7,310.5 L520.1,310.4 L520.4,309.9 L520.8,309.4 L521.2,308.9 L521.6,307.4 L521.9,307.0 L522.3,306.5 L522.7,307.2 L523.1,307.7 L523.4,308.9 L523.8,309.9 L524.2,309.8 L524.5,310.3 L524.9,311.0 L525.3,310.8 L525.7,310.9 L526.0,311.4 L526.4,311.2 L526.8,310.9 L527.2,311.3 L527.5,310.9 L527.9,311.5 L528.3,311.4 L528.7,311.1 L529.0,311.5 L529.4,311.4 L529.8,310.9 L530.2,311.2 L530.5,310.8 L530.9,311.0 L531.3,310.7 L531.6,310.2 L532.0,309.9 L532.4,308.9 L532.8,309.3 L533.1,309.2 L533.5,309.9 L533.9,309.9 L534.3,310.4 L534.6,310.7 L535.0,311.2 L535.4,311.3 L535.8,310.7 L536.1,311.1 L536.5,311.2 L536.9,311.2 L537.3,311.1 L537.6,311.1 L538.0,311.2 L538.4,310.7 L538.7,310.9 L539.1,310.9 L539.5,310.3 L539.9,310.6 L540.2,310.1 L540.6,309.3 L541.0,309.3 L541.4,308.5 L541.7,307.7 L542.1,307.5 L542.5,308.1 L542.9,308.2 L543.2,308.2 L543.6,308.8 L544.0,308.5 L544.4,309.2 L544.7,308.5 L545.1,308.7 L545.5,308.6 L545.8,308.1 L546.2,307.9 L546.6,306.8 L547.0,306.5 L547.3,305.1 L547.7,304.2 L548.1,303.1 L548.5,301.7 L548.8,299.5 L549.2,297.6 L549.6,294.5 L550.0,292.1 L550.3,288.4 L550.7,284.5 L551.1,280.5 L551.5,275.4 L551.8,270.7 L552.2,265.1 L552.6,259.6 L552.9,254.1 L553.3,248.3 L553.7,243.1 L554.1,237.8 L554.4,232.7 L554.8,229.2 L555.2,226.0 L555.6,224.6 L555.9,223.6 L556.3,224.3 L556.7,226.0 L557.1,229.1 L557.4,233.2 L557.8,237.6 L558.2,242.8 L558.5,248.4 L558.9,253.6 L559.3,259.6 L559.7,265.0 L560.0,269.9 L560.4,275.0 L560.8,279.5 L561.2,283.7 L561.5,287.9 L561.9,291.0 L562.3,293.9 L562.7,295.6 L563.0,297.4 L563.4,299.0 L563.8,299.9 L564.2,300.4 L564.5,300.7 L564.9,301.3 L565.3,300.9 L565.6,301.3 L566.0,301.2 L566.4,301.8 L566.8,302.3 L567.1,302.3 L567.5,303.1 L567.9,304.0 L568.3,305.3 L568.6,306.1 L569.0,306.7 L569.4,307.4 L569.8,307.8 L570.1,308.2 L570.5,308.9 L570.9,308.9 L571.3,308.9 L571.6,309.3 L572.0,308.9 L572.4,309.0 L572.7,308.8 L573.1,309.0 L573.5,308.6 L573.9,308.0 L574.2,307.8 L574.6,307.3 L575.0,305.8 L575.4,304.6 L575.7,303.6 L576.1,302.0 L576.5,299.3 L576.9,297.1 L577.2,294.9 L577.6,291.8 L578.0,288.9 L578.4,285.4 L578.7,283.0 L579.1,279.9 L579.5,278.0 L579.8,277.3 L580.2,276.3 L580.6,277.0 L581.0,278.1 L581.3,280.0 L581.7,283.0 L582.1,286.0 L582.5,288.4 L582.8,291.8 L583.2,294.3 L583.6,297.2 L584.0,299.6 L584.3,301.6 L584.7,303.5 L585.1,305.1 L585.5,306.6 L585.8,307.0 L586.2,307.9 L586.6,308.2 L586.9,307.9 L587.3,308.2 L587.7,307.1 L588.1,306.7 L588.4,305.3 L588.8,305.0 L589.2,305.9 L589.6,306.7 L589.9,307.5 L590.3,308.7 L590.7,309.4 L591.1,310.1 L591.4,310.4 L591.8,310.3 L592.2,310.3 L592.6,310.5 L592.9,310.4 L593.3,310.5 L593.7,310.0 L594.0,310.0 L594.4,310.3 L594.8,310.2 L595.2,309.9 L595.5,309.9 L595.9,309.4 L596.3,309.8 L596.7,309.7 L597.0,309.1 L597.4,309.5 L597.8,309.0 L598.2,308.9 L598.5,308.3 L598.9,308.1 L599.3,307.5 L599.7,307.5 L600.0,306.4 L600.4,305.6 L600.8,304.7 L601.1,303.1 L601.5,301.4 L601.9,300.0 L602.3,297.4 L602.6,294.5 L603.0,291.2 L603.4,287.2 L603.8,282.4 L604.1,277.3 L604.5,271.1 L604.9,264.9 L605.3,258.4 L605.6,251.1 L606.0,243.8 L606.4,236.7 L606.8,230.1 L607.1,223.9 L607.5,218.7 L607.9,213.8 L608.2,211.5 L608.6,211.1 L609.0,211.5 L609.4,213.9 L609.7,218.3 L610.1,223.9 L610.5,229.9 L610.9,236.7 L611.2,244.1 L611.6,251.1 L612.0,258.6 L612.4,264.6 L612.7,271.2 L613.1,277.1 L613.5,282.1 L613.8,286.9 L614.2,291.3 L614.6,294.8 L615.0,297.8 L615.3,300.3 L615.7,301.7 L616.1,303.3 L616.5,305.1 L616.8,306.2 L617.2,306.7 L617.6,307.2 L618.0,307.7 L618.3,308.8 L618.7,308.6 L619.1,308.9 L619.5,309.2 L619.8,309.8 L620.2,310.1 L620.6,309.7 L620.9,310.3 L621.3,310.4 L621.7,310.4 L622.1,310.6 L622.4,310.4 L622.8,310.9 L623.2,311.2 L623.6,310.8 L623.9,310.9 L624.3,310.8 L624.7,310.9 L625.1,310.8 L625.4,310.9 L625.8,311.3 L626.2,311.3 L626.6,311.7 L626.9,311.6 L627.3,311.4 L627.7,311.9 L628.0,311.4 L628.4,311.9 L628.8,311.7 L629.2,311.3 L629.5,312.0 L629.9,312.1 L630.3,311.8 L630.7,312.0 L631.0,311.6 L631.4,312.2 L631.8,311.6 L632.2,311.6 L632.5,311.7 L632.9,312.0 L633.3,312.1 L633.7,311.8 L634.0,312.0 L634.4,312.1 L634.8,312.1 L635.1,312.1 L635.5,311.9 L635.9,311.8 L636.3,311.8 L636.6,312.4 L637.0,312.3 L637.4,312.2 L637.8,312.1 L638.1,312.3 L638.5,312.4 L638.9,312.5 L639.3,312.3 L639.6,312.2 L640.0,311.8 L640.4,311.9 L640.8,311.9 L641.1,311.8 L641.5,311.9 L641.9,312.1 L642.2,312.0 L642.6,312.6 L643.0,312.1 L643.4,312.2 L643.7,312.4 L644.1,312.2 L644.5,311.9 L644.9,312.3 L645.2,312.2 L645.6,312.5 L646.0,312.4 L646.4,312.0 L646.7,312.7 L647.1,312.6 L647.5,312.2 L647.9,312.4 L648.2,312.7 L648.6,312.2 L649.0,312.5 L649.3,312.3 L649.7,312.4 L650.1,312.4 L650.5,312.3 L650.8,312.5 L651.2,312.7 L651.6,312.7 L652.0,312.1 L652.3,312.4 L652.7,312.7 L653.1,312.1 L653.5,312.6 L653.8,312.7 L654.2,312.4 L654.6,312.6 L655.0,312.4 L655.3,312.4 L655.7,312.7 L656.1,312.4 L656.4,312.8 L656.8,312.4 L657.2,312.4 L657.6,312.8 L657.9,312.5 L658.3,312.8 L658.7,312.5 L659.1,312.2 L659.4,312.4 L659.8,312.3 L660.2,312.3 L660.6,312.8 L660.9,312.1 L661.3,312.3 L661.7,312.8 L662.1,312.2 L662.4,312.6 L662.8,312.8 L663.2,312.1 L663.5,312.4" fill="none" stroke="#006F20" stroke-width="2.8" stroke-linejoin="round"/>
<path d="M177.8,387.6 L178.2,388.1 L178.5,387.5 L178.9,388.0 L179.3,387.8 L179.7,387.6 L180.0,387.8 L180.4,387.2 L180.8,387.4 L181.2,387.3 L181.5,386.9 L181.9,387.0 L182.3,386.6 L182.7,386.7 L183.0,386.4 L183.4,386.6 L183.8,386.2 L184.2,386.2 L184.5,386.7 L184.9,386.2 L185.3,386.5 L185.6,386.1 L186.0,386.2 L186.4,386.1 L186.8,386.6 L187.1,386.5 L187.5,386.2 L187.9,386.1 L188.3,386.3 L188.6,387.0 L189.0,386.6 L189.4,387.1 L189.8,386.8 L190.1,386.7 L190.5,387.3 L190.9,386.7 L191.3,387.0 L191.6,387.4 L192.0,387.6 L192.4,387.4 L192.7,387.2 L193.1,387.5 L193.5,387.9 L193.9,388.1 L194.2,388.0 L194.6,387.5 L195.0,388.1 L195.4,387.8 L195.7,388.1 L196.1,387.8 L196.5,388.1 L196.9,388.3 L197.2,387.7 L197.6,387.9 L198.0,387.7 L198.4,387.5 L198.7,387.2 L199.1,387.7 L199.5,387.2 L199.8,387.2 L200.2,386.8 L200.6,386.6 L201.0,386.8 L201.3,387.7 L201.7,387.8 L202.1,387.5 L202.5,387.7 L202.8,388.0 L203.2,387.9 L203.6,388.0 L204.0,387.3 L204.3,387.4 L204.7,386.6 L205.1,386.5 L205.5,386.6 L205.8,386.3 L206.2,386.5 L206.6,386.2 L206.9,386.8 L207.3,387.5 L207.7,387.7 L208.1,387.7 L208.4,387.7 L208.8,387.7 L209.2,387.8 L209.6,387.8 L209.9,388.1 L210.3,387.6 L210.7,387.7 L211.1,387.9 L211.4,387.5 L211.8,387.0 L212.2,387.6 L212.5,387.5 L212.9,386.9 L213.3,387.1 L213.7,386.9 L214.0,386.5 L214.4,386.4 L214.8,385.7 L215.2,385.1 L215.5,383.8 L215.9,382.4 L216.3,381.1 L216.7,377.7 L217.0,373.5 L217.4,368.2 L217.8,361.9 L218.2,354.5 L218.5,346.4 L218.9,338.6 L219.3,331.6 L219.6,326.2 L220.0,324.4 L220.4,326.1 L220.8,331.2 L221.1,338.6 L221.5,346.3 L221.9,354.4 L222.3,362.1 L222.6,368.4 L223.0,373.9 L223.4,377.7 L223.8,380.7 L224.1,383.1 L224.5,384.3 L224.9,385.2 L225.3,385.3 L225.6,386.2 L226.0,386.6 L226.4,386.9 L226.7,387.0 L227.1,387.1 L227.5,387.3 L227.9,387.3 L228.2,386.5 L228.6,386.7 L229.0,386.4 L229.4,385.9 L229.7,385.9 L230.1,385.9 L230.5,386.1 L230.9,386.3 L231.2,386.7 L231.6,386.8 L232.0,387.3 L232.4,387.2 L232.7,387.8 L233.1,387.5 L233.5,387.8 L233.8,388.2 L234.2,388.1 L234.6,387.7 L235.0,387.2 L235.3,387.5 L235.7,386.8 L236.1,386.7 L236.5,385.8 L236.8,386.0 L237.2,385.3 L237.6,384.8 L238.0,385.5 L238.3,385.9 L238.7,386.6 L239.1,387.0 L239.5,387.3 L239.8,387.4 L240.2,388.0 L240.6,388.0 L240.9,388.3 L241.3,388.0 L241.7,387.9 L242.1,388.1 L242.4,388.4 L242.8,388.0 L243.2,387.9 L243.6,388.2 L243.9,388.6 L244.3,388.0 L244.7,388.0 L245.1,388.4 L245.4,388.6 L245.8,388.5 L246.2,388.3 L246.6,388.0 L246.9,388.2 L247.3,388.0 L247.7,388.5 L248.0,388.4 L248.4,388.1 L248.8,388.2 L249.2,388.4 L249.5,388.1 L249.9,388.4 L250.3,388.6 L250.7,388.2 L251.0,388.5 L251.4,387.9 L251.8,388.1 L252.2,387.9 L252.5,387.8 L252.9,388.1 L253.3,388.0 L253.7,388.4 L254.0,387.8 L254.4,388.1 L254.8,387.8 L255.1,388.6 L255.5,388.2 L255.9,388.1 L256.3,388.4 L256.6,388.6 L257.0,388.6 L257.4,388.6 L257.8,388.1 L258.1,388.6 L258.5,388.0 L258.9,388.4 L259.3,388.3 L259.6,388.2 L260.0,388.2 L260.4,388.2 L260.8,388.2 L261.1,388.4 L261.5,388.1 L261.9,388.4 L262.2,388.1 L262.6,388.0 L263.0,388.0 L263.4,388.4 L263.7,388.0 L264.1,387.8 L264.5,388.2 L264.9,388.4 L265.2,388.2 L265.6,387.8 L266.0,388.4 L266.4,388.5 L266.7,388.1 L267.1,387.9 L267.5,387.7 L267.8,388.0 L268.2,387.4 L268.6,387.9 L269.0,387.4 L269.3,387.9 L269.7,387.9 L270.1,387.8 L270.5,387.9 L270.8,387.6 L271.2,387.6 L271.6,387.9 L272.0,387.2 L272.3,387.6 L272.7,387.7 L273.1,387.6 L273.5,387.0 L273.8,386.6 L274.2,386.9 L274.6,386.5 L274.9,385.3 L275.3,385.0 L275.7,383.4 L276.1,382.6 L276.4,380.9 L276.8,379.3 L277.2,376.8 L277.6,374.7 L277.9,372.2 L278.3,369.0 L278.7,367.1 L279.1,364.2 L279.4,362.8 L279.8,361.1 L280.2,360.9 L280.6,360.9 L280.9,362.8 L281.3,364.4 L281.7,366.8 L282.0,369.0 L282.4,371.7 L282.8,374.5 L283.2,377.2 L283.5,379.4 L283.9,381.2 L284.3,382.6 L284.7,384.0 L285.0,385.1 L285.4,385.4 L285.8,386.1 L286.2,386.8 L286.5,386.5 L286.9,387.4 L287.3,387.3 L287.7,387.8 L288.0,387.3 L288.4,387.4 L288.8,387.9 L289.1,387.6 L289.5,387.6 L289.9,388.1 L290.3,388.1 L290.6,388.0 L291.0,387.7 L291.4,388.3 L291.8,387.9 L292.1,388.0 L292.5,388.1 L292.9,388.1 L293.3,387.8 L293.6,388.4 L294.0,387.9 L294.4,388.3 L294.8,388.0 L295.1,387.9 L295.5,388.5 L295.9,387.9 L296.2,387.8 L296.6,388.4 L297.0,388.6 L297.4,388.6 L297.7,387.9 L298.1,388.7 L298.5,388.0 L298.9,388.6 L299.2,388.1 L299.6,388.6 L300.0,388.6 L300.4,388.2 L300.7,388.6 L301.1,388.5 L301.5,388.0 L301.9,388.2 L302.2,388.0 L302.6,388.0 L303.0,388.7 L303.3,388.6 L303.7,388.1 L304.1,388.2 L304.5,388.7 L304.8,388.4 L305.2,388.6 L305.6,388.4 L306.0,388.7 L306.3,388.8 L306.7,388.0 L307.1,388.5 L307.5,388.1 L307.8,388.7 L308.2,388.4 L308.6,388.7 L309.0,388.4 L309.3,388.6 L309.7,388.2 L310.1,388.7 L310.4,388.2 L310.8,388.4 L311.2,388.7 L311.6,388.5 L311.9,388.4 L312.3,388.1 L312.7,388.5 L313.1,388.6 L313.4,388.0 L313.8,388.1 L314.2,388.2 L314.6,388.6 L314.9,388.7 L315.3,388.6 L315.7,388.7 L316.1,388.8 L316.4,388.4 L316.8,388.5 L317.2,388.3 L317.5,388.5 L317.9,388.8 L318.3,388.2 L318.7,388.3 L319.0,388.4 L319.4,388.4 L319.8,388.2 L320.2,388.0 L320.5,388.1 L320.9,388.2 L321.3,388.5 L321.7,388.5 L322.0,388.5 L322.4,388.0 L322.8,388.5 L323.1,388.5 L323.5,388.5 L323.9,388.7 L324.3,388.0 L324.6,388.8 L325.0,388.3 L325.4,388.0 L325.8,388.6 L326.1,388.3 L326.5,388.5 L326.9,388.6 L327.3,388.6 L327.6,388.7 L328.0,388.1 L328.4,388.1 L328.8,388.0 L329.1,388.7 L329.5,388.2 L329.9,388.5 L330.2,388.2 L330.6,388.3 L331.0,388.4 L331.4,387.9 L331.7,388.6 L332.1,388.0 L332.5,387.9 L332.9,388.1 L333.2,388.0 L333.6,387.6 L334.0,388.1 L334.4,387.7 L334.7,387.4 L335.1,387.5 L335.5,387.0 L335.9,387.0 L336.2,386.6 L336.6,386.2 L337.0,385.9 L337.3,385.8 L337.7,385.2 L338.1,384.9 L338.5,384.9 L338.8,384.4 L339.2,384.5 L339.6,383.9 L340.0,384.3 L340.3,384.3 L340.7,384.7 L341.1,385.0 L341.5,385.5 L341.8,385.9 L342.2,385.6 L342.6,386.3 L343.0,386.6 L343.3,386.9 L343.7,386.9 L344.1,387.6 L344.4,387.9 L344.8,387.5 L345.2,387.9 L345.6,387.9 L345.9,387.8 L346.3,387.8 L346.7,387.9 L347.1,388.6 L347.4,388.3 L347.8,388.0 L348.2,388.0 L348.6,388.6 L348.9,388.6 L349.3,388.5 L349.7,388.6 L350.1,388.4 L350.4,388.1 L350.8,388.3 L351.2,388.4 L351.5,388.7 L351.9,388.4 L352.3,387.9 L352.7,388.2 L353.0,388.4 L353.4,388.3 L353.8,388.1 L354.2,388.1 L354.5,388.6 L354.9,388.2 L355.3,388.4 L355.7,388.3 L356.0,388.5 L356.4,388.4 L356.8,388.4 L357.2,388.4 L357.5,388.7 L357.9,388.5 L358.3,388.2 L358.6,388.6 L359.0,388.5 L359.4,388.0 L359.8,388.4 L360.1,388.3 L360.5,388.3 L360.9,387.8 L361.3,388.4 L361.6,387.9 L362.0,387.7 L362.4,388.1 L362.8,387.9 L363.1,387.5 L363.5,387.6 L363.9,387.7 L364.3,387.9 L364.6,387.5 L365.0,387.5 L365.4,387.1 L365.7,387.4 L366.1,387.2 L366.5,386.9 L366.9,386.7 L367.2,387.0 L367.6,386.9 L368.0,386.7 L368.4,386.4 L368.7,386.9 L369.1,386.3 L369.5,386.5 L369.9,386.8 L370.2,386.6 L370.6,386.9 L371.0,387.2 L371.4,386.7 L371.7,387.1 L372.1,387.1 L372.5,387.2 L372.8,387.0 L373.2,387.2 L373.6,387.8 L374.0,387.5 L374.3,387.6 L374.7,387.7 L375.1,387.5 L375.5,387.9 L375.8,387.9 L376.2,387.6 L376.6,388.1 L377.0,388.1 L377.3,388.1 L377.7,387.9 L378.1,388.0 L378.5,388.0 L378.8,388.3 L379.2,388.6 L379.6,388.1 L379.9,388.2 L380.3,388.0 L380.7,388.1 L381.1,388.6 L381.4,388.5 L381.8,388.6 L382.2,388.0 L382.6,388.6 L382.9,388.6 L383.3,388.1 L383.7,388.3 L384.1,388.7 L384.4,388.2 L384.8,388.1 L385.2,388.3 L385.5,388.7 L385.9,388.1 L386.3,388.4 L386.7,388.2 L387.0,387.9 L387.4,388.0 L387.8,388.0 L388.2,388.6 L388.5,388.4 L388.9,388.3 L389.3,388.7 L389.7,387.9 L390.0,388.4 L390.4,388.4 L390.8,388.4 L391.2,388.4 L391.5,387.9 L391.9,388.2 L392.3,388.2 L392.6,388.2 L393.0,388.5 L393.4,388.3 L393.8,387.8 L394.1,387.7 L394.5,387.6 L394.9,387.9 L395.3,387.7 L395.6,387.6 L396.0,386.9 L396.4,386.6 L396.8,386.2 L397.1,385.8 L397.5,385.4 L397.9,385.4 L398.3,384.9 L398.6,385.5 L399.0,385.1 L399.4,385.7 L399.7,386.5 L400.1,386.6 L400.5,386.8 L400.9,387.2 L401.2,387.3 L401.6,387.7 L402.0,387.8 L402.4,387.5 L402.7,387.9 L403.1,387.6 L403.5,387.6 L403.9,387.7 L404.2,387.8 L404.6,387.3 L405.0,387.6 L405.4,387.1 L405.7,387.6 L406.1,387.1 L406.5,386.7 L406.8,386.8 L407.2,385.8 L407.6,386.0 L408.0,385.0 L408.3,384.8 L408.7,383.5 L409.1,383.1 L409.5,382.1 L409.8,381.6 L410.2,380.7 L410.6,380.0 L411.0,379.7 L411.3,379.3 L411.7,378.5 L412.1,379.0 L412.5,378.5 L412.8,379.3 L413.2,379.9 L413.6,380.5 L413.9,380.6 L414.3,381.2 L414.7,382.4 L415.1,382.9 L415.4,383.9 L415.8,384.0 L416.2,384.8 L416.6,385.7 L416.9,386.3 L417.3,386.1 L417.7,387.0 L418.1,386.6 L418.4,387.2 L418.8,387.4 L419.2,387.2 L419.6,387.5 L419.9,387.4 L420.3,387.7 L420.7,387.1 L421.0,387.6 L421.4,387.2 L421.8,387.7 L422.2,387.2 L422.5,387.0 L422.9,387.4 L423.3,387.6 L423.7,387.2 L424.0,386.8 L424.4,387.0 L424.8,386.5 L425.2,386.6 L425.5,386.0 L425.9,385.4 L426.3,385.2 L426.7,384.4 L427.0,384.2 L427.4,382.9 L427.8,382.7 L428.1,381.2 L428.5,380.1 L428.9,379.1 L429.3,378.3 L429.6,377.3 L430.0,376.1 L430.4,374.5 L430.8,373.6 L431.1,372.1 L431.5,371.8 L431.9,370.7 L432.3,369.7 L432.6,369.6 L433.0,369.5 L433.4,370.0 L433.8,370.3 L434.1,370.8 L434.5,371.1 L434.9,372.1 L435.2,373.6 L435.6,374.1 L436.0,375.9 L436.4,376.4 L436.7,377.0 L437.1,378.3 L437.5,378.5 L437.9,379.3 L438.2,380.2 L438.6,380.4 L439.0,380.7 L439.4,381.4 L439.7,381.7 L440.1,382.9 L440.5,383.2 L440.8,384.4 L441.2,385.3 L441.6,385.5 L442.0,386.4 L442.3,386.5 L442.7,386.6 L443.1,387.0 L443.5,387.3 L443.8,387.7 L444.2,387.5 L444.6,387.9 L445.0,387.5 L445.3,387.9 L445.7,387.6 L446.1,387.8 L446.5,387.8 L446.8,387.6 L447.2,388.0 L447.6,388.0 L447.9,387.4 L448.3,387.8 L448.7,387.2 L449.1,387.0 L449.4,387.0 L449.8,387.0 L450.2,386.8 L450.6,386.1 L450.9,386.8 L451.3,386.8 L451.7,387.1 L452.1,387.7 L452.4,387.6 L452.8,388.0 L453.2,387.8 L453.6,387.9 L453.9,388.0 L454.3,388.2 L454.7,388.0 L455.0,388.2 L455.4,388.3 L455.8,388.2 L456.2,387.7 L456.5,388.0 L456.9,387.7 L457.3,388.4 L457.7,387.6 L458.0,388.0 L458.4,387.7 L458.8,387.9 L459.2,387.8 L459.5,388.2 L459.9,387.8 L460.3,388.2 L460.7,388.1 L461.0,388.3 L461.4,388.0 L461.8,387.9 L462.1,388.0 L462.5,387.5 L462.9,388.1 L463.3,387.7 L463.6,387.8 L464.0,387.4 L464.4,387.1 L464.8,386.9 L465.1,387.2 L465.5,386.9 L465.9,386.5 L466.3,386.1 L466.6,386.9 L467.0,386.5 L467.4,386.6 L467.8,386.7 L468.1,387.2 L468.5,387.0 L468.9,387.3 L469.2,387.0 L469.6,387.7 L470.0,386.9 L470.4,387.2 L470.7,387.0 L471.1,387.0 L471.5,386.6 L471.9,385.8 L472.2,385.5 L472.6,385.6 L473.0,385.2 L473.4,385.3 L473.7,385.3 L474.1,385.4 L474.5,385.3 L474.9,384.7 L475.2,384.5 L475.6,384.2 L476.0,383.9 L476.3,383.2 L476.7,382.1 L477.1,380.9 L477.5,379.9 L477.8,378.6 L478.2,377.5 L478.6,375.5 L479.0,373.6 L479.3,371.9 L479.7,370.7 L480.1,368.6 L480.5,367.3 L480.8,366.2 L481.2,364.5 L481.6,364.1 L482.0,363.8 L482.3,364.5 L482.7,364.5 L483.1,365.4 L483.4,366.7 L483.8,368.3 L484.2,369.9 L484.6,371.6 L484.9,373.5 L485.3,375.2 L485.7,376.5 L486.1,378.0 L486.4,379.2 L486.8,380.8 L487.2,381.3 L487.6,382.5 L487.9,382.8 L488.3,384.1 L488.7,383.9 L489.1,384.3 L489.4,385.0 L489.8,384.7 L490.2,385.3 L490.5,385.3 L490.9,385.1 L491.3,385.1 L491.7,384.7 L492.0,384.1 L492.4,383.9 L492.8,383.4 L493.2,383.0 L493.5,381.9 L493.9,380.9 L494.3,379.7 L494.7,378.1 L495.0,376.4 L495.4,374.7 L495.8,372.5 L496.1,369.3 L496.5,366.1 L496.9,363.1 L497.3,359.2 L497.6,355.2 L498.0,351.1 L498.4,347.7 L498.8,343.2 L499.1,339.8 L499.5,336.2 L499.9,332.7 L500.3,330.8 L500.6,329.2 L501.0,328.8 L501.4,329.4 L501.8,330.9 L502.1,333.1 L502.5,335.6 L502.9,339.2 L503.2,343.3 L503.6,347.5 L504.0,351.3 L504.4,354.9 L504.7,358.8 L505.1,362.1 L505.5,365.0 L505.9,368.2 L506.2,370.0 L506.6,372.3 L507.0,373.1 L507.4,374.8 L507.7,375.6 L508.1,376.0 L508.5,377.3 L508.9,378.4 L509.2,379.0 L509.6,380.3 L510.0,381.1 L510.3,382.5 L510.7,383.4 L511.1,383.8 L511.5,384.8 L511.8,384.9 L512.2,386.0 L512.6,385.8 L513.0,386.5 L513.3,386.4 L513.7,387.0 L514.1,387.0 L514.5,386.4 L514.8,386.9 L515.2,386.7 L515.6,387.2 L516.0,387.2 L516.3,387.4 L516.7,387.1 L517.1,386.9 L517.4,387.2 L517.8,387.4 L518.2,386.9 L518.6,387.0 L518.9,387.2 L519.3,387.6 L519.7,387.1 L520.1,387.1 L520.4,386.4 L520.8,386.4 L521.2,385.6 L521.6,385.1 L521.9,384.9 L522.3,384.6 L522.7,384.6 L523.1,384.9 L523.4,385.9 L523.8,386.5 L524.2,386.5 L524.5,387.5 L524.9,387.1 L525.3,387.4 L525.7,387.5 L526.0,387.7 L526.4,387.4 L526.8,387.3 L527.2,387.5 L527.5,387.5 L527.9,388.0 L528.3,387.8 L528.7,388.0 L529.0,387.3 L529.4,387.3 L529.8,387.9 L530.2,387.5 L530.5,387.4 L530.9,387.7 L531.3,387.2 L531.6,386.6 L532.0,386.4 L532.4,386.5 L532.8,386.0 L533.1,386.4 L533.5,386.5 L533.9,386.8 L534.3,386.6 L534.6,387.1 L535.0,387.1 L535.4,387.3 L535.8,387.6 L536.1,387.1 L536.5,387.3 L536.9,387.3 L537.3,387.7 L537.6,387.7 L538.0,387.4 L538.4,387.1 L538.7,387.1 L539.1,387.4 L539.5,387.5 L539.9,387.0 L540.2,386.5 L540.6,386.8 L541.0,386.0 L541.4,386.1 L541.7,385.7 L542.1,385.7 L542.5,385.6 L542.9,385.7 L543.2,385.5 L543.6,385.7 L544.0,386.5 L544.4,386.4 L544.7,385.9 L545.1,386.4 L545.5,386.2 L545.8,385.9 L546.2,385.9 L546.6,385.4 L547.0,384.9 L547.3,384.4 L547.7,383.3 L548.1,383.1 L548.5,382.3 L548.8,380.7 L549.2,379.8 L549.6,378.0 L550.0,376.4 L550.3,374.4 L550.7,372.5 L551.1,370.2 L551.5,367.1 L551.8,364.4 L552.2,361.3 L552.6,358.0 L552.9,354.7 L553.3,351.8 L553.7,348.6 L554.1,345.2 L554.4,342.8 L554.8,340.8 L555.2,338.8 L555.6,338.1 L555.9,337.3 L556.3,338.2 L556.7,338.6 L557.1,340.5 L557.4,342.9 L557.8,345.1 L558.2,348.6 L558.5,351.7 L558.9,355.1 L559.3,357.9 L559.7,360.9 L560.0,364.0 L560.4,367.1 L560.8,369.4 L561.2,372.3 L561.5,374.2 L561.9,375.8 L562.3,377.0 L562.7,378.5 L563.0,379.5 L563.4,380.1 L563.8,380.9 L564.2,380.7 L564.5,381.0 L564.9,381.4 L565.3,381.3 L565.6,380.9 L566.0,381.3 L566.4,381.6 L566.8,381.3 L567.1,382.0 L567.5,382.4 L567.9,382.9 L568.3,383.2 L568.6,384.4 L569.0,384.7 L569.4,385.4 L569.8,385.5 L570.1,385.7 L570.5,385.7 L570.9,386.0 L571.3,386.2 L571.6,386.4 L572.0,386.3 L572.4,386.6 L572.7,386.1 L573.1,386.0 L573.5,385.8 L573.9,386.1 L574.2,385.4 L574.6,384.9 L575.0,384.6 L575.4,383.6 L575.7,382.8 L576.1,381.9 L576.5,380.6 L576.9,379.3 L577.2,377.6 L577.6,376.5 L578.0,374.3 L578.4,372.6 L578.7,371.0 L579.1,369.8 L579.5,368.8 L579.8,367.6 L580.2,367.1 L580.6,367.9 L581.0,368.7 L581.3,369.8 L581.7,371.4 L582.1,372.6 L582.5,374.2 L582.8,376.1 L583.2,378.1 L583.6,379.4 L584.0,381.3 L584.3,381.9 L584.7,383.4 L585.1,384.5 L585.5,384.7 L585.8,385.6 L586.2,385.8 L586.6,386.2 L586.9,385.9 L587.3,385.5 L587.7,384.8 L588.1,384.8 L588.4,383.6 L588.8,383.9 L589.2,384.2 L589.6,384.5 L589.9,385.6 L590.3,386.2 L590.7,386.5 L591.1,387.1 L591.4,386.7 L591.8,387.3 L592.2,386.8 L592.6,386.8 L592.9,387.0 L593.3,387.4 L593.7,386.8 L594.0,387.4 L594.4,387.0 L594.8,387.0 L595.2,387.3 L595.5,386.8 L595.9,386.7 L596.3,386.7 L596.7,386.8 L597.0,386.6 L597.4,386.5 L597.8,386.7 L598.2,386.0 L598.5,385.8 L598.9,385.7 L599.3,385.3 L599.7,385.6 L600.0,384.7 L600.4,384.9 L600.8,384.0 L601.1,383.6 L601.5,382.4 L601.9,381.1 L602.3,379.7 L602.6,378.3 L603.0,376.5 L603.4,374.4 L603.8,371.6 L604.1,368.8 L604.5,365.7 L604.9,361.7 L605.3,358.1 L605.6,354.2 L606.0,350.4 L606.4,346.0 L606.8,342.6 L607.1,339.1 L607.5,335.9 L607.9,333.5 L608.2,331.9 L608.6,331.6 L609.0,331.9 L609.4,333.4 L609.7,335.8 L610.1,338.8 L610.5,342.8 L610.9,346.4 L611.2,350.6 L611.6,353.9 L612.0,358.0 L612.4,361.8 L612.7,365.7 L613.1,368.8 L613.5,371.9 L613.8,374.1 L614.2,376.1 L614.6,378.6 L615.0,380.4 L615.3,381.6 L615.7,382.6 L616.1,383.1 L616.5,383.9 L616.8,384.8 L617.2,385.5 L617.6,385.9 L618.0,386.2 L618.3,385.9 L618.7,386.4 L619.1,386.1 L619.5,386.3 L619.8,386.6 L620.2,386.9 L620.6,386.7 L620.9,387.4 L621.3,387.5 L621.7,387.2 L622.1,387.3 L622.4,387.6 L622.8,387.6 L623.2,387.8 L623.6,387.2 L623.9,387.4 L624.3,387.2 L624.7,387.2 L625.1,387.7 L625.4,387.5 L625.8,387.8 L626.2,387.5 L626.6,387.5 L626.9,388.1 L627.3,388.2 L627.7,388.1 L628.0,387.8 L628.4,388.0 L628.8,388.3 L629.2,387.7 L629.5,387.7 L629.9,388.0 L630.3,388.3 L630.7,387.7 L631.0,388.0 L631.4,388.4 L631.8,388.2 L632.2,387.9 L632.5,387.7 L632.9,388.1 L633.3,388.0 L633.7,388.3 L634.0,388.3 L634.4,387.8 L634.8,388.2 L635.1,388.4 L635.5,388.1 L635.9,388.4 L636.3,388.4 L636.6,388.2 L637.0,388.1 L637.4,388.1 L637.8,388.0 L638.1,388.2 L638.5,388.5 L638.9,388.0 L639.3,388.6 L639.6,388.2 L640.0,388.3 L640.4,388.1 L640.8,388.1 L641.1,388.4 L641.5,388.1 L641.9,388.1 L642.2,388.3 L642.6,388.5 L643.0,387.9 L643.4,388.2 L643.7,388.6 L644.1,388.5 L644.5,387.9 L644.9,388.5 L645.2,388.4 L645.6,388.1 L646.0,388.0 L646.4,388.2 L646.7,388.1 L647.1,388.7 L647.5,388.6 L647.9,387.9 L648.2,388.1 L648.6,388.7 L649.0,388.7 L649.3,388.5 L649.7,388.0 L650.1,388.5 L650.5,388.2 L650.8,388.0 L651.2,388.2 L651.6,388.0 L652.0,388.5 L652.3,388.6 L652.7,388.7 L653.1,388.1 L653.5,388.7 L653.8,388.0 L654.2,388.2 L654.6,388.6 L655.0,388.1 L655.3,388.6 L655.7,388.3 L656.1,388.7 L656.4,388.1 L656.8,388.0 L657.2,388.0 L657.6,388.8 L657.9,388.1 L658.3,388.3 L658.7,388.1 L659.1,388.4 L659.4,388.3 L659.8,388.3 L660.2,388.1 L660.6,388.7 L660.9,388.7 L661.3,388.3 L661.7,388.5 L662.1,388.5 L662.4,388.8 L662.8,388.2 L663.2,388.8 L663.5,388.1" fill="none" stroke="#3D0A87" stroke-width="2.8" stroke-linejoin="round"/>
<rect x="177.3" y="20.0" width="486.99999999999994" height="391.7" fill="none" stroke="#000" stroke-width="2.6"/>
<line x1="170" y1="393.3" x2="177.3" y2="393.3" stroke="#000" stroke-width="2.4"/>
<line x1="170" y1="318.7" x2="177.3" y2="318.7" stroke="#000" stroke-width="2.4"/>
<line x1="170" y1="244.1" x2="177.3" y2="244.1" stroke="#000" stroke-width="2.4"/>
<line x1="170" y1="169.5" x2="177.3" y2="169.5" stroke="#000" stroke-width="2.4"/>
<line x1="170" y1="94.9" x2="177.3" y2="94.9" stroke="#000" stroke-width="2.4"/>
<line x1="170" y1="20.3" x2="177.3" y2="20.3" stroke="#000" stroke-width="2.4"/>
<text x="163.5" y="402.8" font-size="25" text-anchor="end" font-family="Liberation Serif" font-weight="bold" >0.0</text>
<g transform="translate(163.8,328.2) scale(0.95,1)"><text x="0" y="0" font-size="25" text-anchor="end" font-family="Liberation Serif" font-weight="bold">2.0×10<tspan font-size="17" dy="-9.5">4</tspan></text></g>
<g transform="translate(163.8,253.6) scale(0.95,1)"><text x="0" y="0" font-size="25" text-anchor="end" font-family="Liberation Serif" font-weight="bold">4.0×10<tspan font-size="17" dy="-9.5">4</tspan></text></g>
<g transform="translate(163.8,179.0) scale(0.95,1)"><text x="0" y="0" font-size="25" text-anchor="end" font-family="Liberation Serif" font-weight="bold">6.0×10<tspan font-size="17" dy="-9.5">4</tspan></text></g>
<g transform="translate(163.8,104.4) scale(0.95,1)"><text x="0" y="0" font-size="25" text-anchor="end" font-family="Liberation Serif" font-weight="bold">8.0×10<tspan font-size="17" dy="-9.5">4</tspan></text></g>
<g transform="translate(163.8,29.8) scale(0.95,1)"><text x="0" y="0" font-size="25" text-anchor="end" font-family="Liberation Serif" font-weight="bold">1.0×10<tspan font-size="17" dy="-9.5">5</tspan></text></g>
<line x1="215.2" y1="411.7" x2="215.2" y2="419" stroke="#000" stroke-width="2.4"/>
<text x="215.2" y="444.4" font-size="24" text-anchor="middle" font-family="Liberation Serif" font-weight="bold" >600</text>
<line x1="289.9" y1="411.7" x2="289.9" y2="419" stroke="#000" stroke-width="2.4"/>
<text x="289.9" y="444.4" font-size="24" text-anchor="middle" font-family="Liberation Serif" font-weight="bold" >800</text>
<line x1="364.6" y1="411.7" x2="364.6" y2="419" stroke="#000" stroke-width="2.4"/>
<text x="364.6" y="444.4" font-size="24" text-anchor="middle" font-family="Liberation Serif" font-weight="bold" >1000</text>
<line x1="439.4" y1="411.7" x2="439.4" y2="419" stroke="#000" stroke-width="2.4"/>
<text x="439.4" y="444.4" font-size="24" text-anchor="middle" font-family="Liberation Serif" font-weight="bold" >1200</text>
<line x1="514.1" y1="411.7" x2="514.1" y2="419" stroke="#000" stroke-width="2.4"/>
<text x="514.1" y="444.4" font-size="24" text-anchor="middle" font-family="Liberation Serif" font-weight="bold" >1400</text>
<line x1="588.8" y1="411.7" x2="588.8" y2="419" stroke="#000" stroke-width="2.4"/>
<text x="588.8" y="444.4" font-size="24" text-anchor="middle" font-family="Liberation Serif" font-weight="bold" >1600</text>
<line x1="663.5" y1="411.7" x2="663.5" y2="419" stroke="#000" stroke-width="2.4"/>
<text x="663.5" y="444.4" font-size="24" text-anchor="middle" font-family="Liberation Serif" font-weight="bold" >1800</text>
<text x="324.0" y="101.2" font-size="24" text-anchor="start" font-family="Liberation Serif" font-weight="bold" >3D ZnO/Ag HS</text>
<text x="324.0" y="237.5" font-size="24" text-anchor="start" font-family="Liberation Serif" font-weight="bold" >3D ZnO/Ag SS</text>
<text x="324.0" y="355.2" font-size="24.5" text-anchor="start" font-family="Liberation Serif" font-weight="bold" >ZnO/Ag</text>
<g transform="translate(288.83,496.50) scale(0.3340,0.3480)"><text x="0" y="0" font-size="100" font-family="Liberation Serif" font-weight="bold" >Raman Shift(cm<tspan font-size="64" dy="-40">-1</tspan><tspan dy="40">)</tspan></text></g>
<g transform="translate(77.00,319.31) rotate(-90) scale(0.3380,0.3300)"><text x="0" y="0" font-size="100" font-family="Liberation Serif" font-weight="bold">Intensity(a.u.)</text></g>
<g transform="translate(0.81,39.70) scale(0.4180,0.4190)"><text x="0" y="0" font-size="100" font-family="Liberation Sans" font-weight="bold" >(a)</text></g>
<path d="M170.1,575.1 L170.5,575.3 L170.9,575.5 L171.2,575.0 L171.6,575.3 L172.0,575.1 L172.4,575.2 L172.8,574.4 L173.1,574.7 L173.5,574.8 L173.9,574.9 L174.3,574.3 L174.7,574.1 L175.0,574.0 L175.4,574.5 L175.8,574.3 L176.2,574.2 L176.6,573.8 L176.9,574.2 L177.3,573.8 L177.7,573.5 L178.1,573.6 L178.5,574.3 L178.8,574.2 L179.2,574.2 L179.6,573.8 L180.0,573.9 L180.3,574.0 L180.7,574.1 L181.1,574.2 L181.5,574.1 L181.9,574.2 L182.2,574.0 L182.6,574.3 L183.0,574.3 L183.4,574.3 L183.8,574.4 L184.1,574.6 L184.5,575.2 L184.9,574.8 L185.3,574.7 L185.7,575.2 L186.0,574.9 L186.4,575.5 L186.8,574.9 L187.2,575.4 L187.6,575.2 L187.9,575.6 L188.3,575.6 L188.7,575.6 L189.1,575.7 L189.5,575.9 L189.8,575.6 L190.2,575.1 L190.6,575.3 L191.0,575.0 L191.4,574.9 L191.7,574.6 L192.1,574.3 L192.5,574.3 L192.9,574.6 L193.3,574.7 L193.6,574.8 L194.0,575.3 L194.4,575.4 L194.8,575.0 L195.2,575.1 L195.5,575.6 L195.9,575.3 L196.3,575.2 L196.7,574.9 L197.1,574.7 L197.4,574.6 L197.8,574.5 L198.2,573.7 L198.6,574.0 L198.9,573.8 L199.3,574.3 L199.7,574.5 L200.1,574.5 L200.5,575.4 L200.8,575.3 L201.2,575.3 L201.6,575.4 L202.0,575.1 L202.4,575.6 L202.7,575.1 L203.1,575.3 L203.5,575.1 L203.9,575.7 L204.3,575.6 L204.6,575.5 L205.0,574.9 L205.4,575.6 L205.8,575.3 L206.2,574.9 L206.5,574.6 L206.9,575.1 L207.3,574.7 L207.7,574.2 L208.1,573.9 L208.4,573.3 L208.8,572.5 L209.2,571.7 L209.6,570.0 L210.0,567.9 L210.3,564.3 L210.7,561.0 L211.1,556.6 L211.5,551.4 L211.9,547.0 L212.2,543.0 L212.6,540.1 L213.0,539.1 L213.4,540.1 L213.8,543.2 L214.1,547.5 L214.5,552.1 L214.9,556.8 L215.3,560.9 L215.6,564.7 L216.0,567.8 L216.4,569.8 L216.8,571.1 L217.2,572.5 L217.5,573.6 L217.9,573.8 L218.3,574.6 L218.7,574.9 L219.1,574.9 L219.4,575.0 L219.8,574.8 L220.2,575.1 L220.6,574.8 L221.0,575.3 L221.3,574.4 L221.7,574.7 L222.1,573.9 L222.5,574.2 L222.9,573.3 L223.2,573.7 L223.6,573.3 L224.0,573.7 L224.4,574.2 L224.8,574.9 L225.1,575.4 L225.5,575.5 L225.9,575.1 L226.3,575.8 L226.7,575.4 L227.0,575.4 L227.4,575.4 L227.8,575.7 L228.2,575.5 L228.6,575.3 L228.9,574.3 L229.3,574.3 L229.7,573.6 L230.1,573.2 L230.5,573.1 L230.8,573.1 L231.2,573.3 L231.6,573.0 L232.0,574.1 L232.4,573.9 L232.7,574.9 L233.1,574.9 L233.5,575.7 L233.9,575.3 L234.2,575.8 L234.6,575.8 L235.0,575.7 L235.4,576.1 L235.8,576.0 L236.1,575.6 L236.5,576.0 L236.9,575.9 L237.3,575.6 L237.7,576.1 L238.0,576.1 L238.4,576.1 L238.8,575.9 L239.2,576.0 L239.6,575.7 L239.9,575.9 L240.3,575.6 L240.7,576.2 L241.1,575.7 L241.5,575.6 L241.8,576.1 L242.2,576.2 L242.6,575.9 L243.0,576.1 L243.4,575.8 L243.7,575.6 L244.1,576.0 L244.5,576.0 L244.9,575.6 L245.3,575.8 L245.6,575.7 L246.0,575.5 L246.4,575.8 L246.8,575.9 L247.2,575.7 L247.5,575.7 L247.9,575.4 L248.3,575.7 L248.7,576.2 L249.1,576.1 L249.4,575.7 L249.8,575.8 L250.2,575.6 L250.6,575.5 L251.0,575.6 L251.3,576.2 L251.7,575.5 L252.1,575.8 L252.5,576.1 L252.8,576.1 L253.2,575.6 L253.6,576.1 L254.0,576.2 L254.4,576.0 L254.7,575.5 L255.1,575.9 L255.5,575.7 L255.9,576.2 L256.3,575.9 L256.6,576.0 L257.0,576.1 L257.4,575.7 L257.8,575.9 L258.2,576.1 L258.5,575.4 L258.9,575.8 L259.3,576.0 L259.7,576.1 L260.1,575.6 L260.4,575.7 L260.8,576.0 L261.2,575.6 L261.6,575.3 L262.0,575.4 L262.3,575.5 L262.7,575.3 L263.1,575.1 L263.5,575.1 L263.9,575.5 L264.2,575.1 L264.6,575.0 L265.0,575.2 L265.4,575.1 L265.8,575.5 L266.1,575.1 L266.5,575.6 L266.9,575.5 L267.3,575.1 L267.7,574.7 L268.0,575.1 L268.4,574.8 L268.8,574.6 L269.2,573.8 L269.5,573.4 L269.9,572.6 L270.3,571.2 L270.7,570.2 L271.1,568.6 L271.4,567.5 L271.8,565.7 L272.2,564.6 L272.6,562.2 L273.0,561.3 L273.3,560.0 L273.7,559.2 L274.1,558.5 L274.5,559.2 L274.9,559.6 L275.2,561.0 L275.6,562.8 L276.0,563.9 L276.4,566.1 L276.8,567.0 L277.1,569.0 L277.5,570.5 L277.9,571.0 L278.3,572.5 L278.7,573.2 L279.0,573.8 L279.4,574.1 L279.8,574.9 L280.2,574.9 L280.6,575.3 L280.9,574.9 L281.3,575.7 L281.7,575.3 L282.1,575.6 L282.5,575.5 L282.8,575.5 L283.2,575.4 L283.6,575.9 L284.0,575.8 L284.4,575.9 L284.7,575.3 L285.1,576.0 L285.5,576.0 L285.9,575.7 L286.3,575.7 L286.6,575.4 L287.0,576.1 L287.4,576.0 L287.8,576.0 L288.1,575.7 L288.5,575.8 L288.9,575.9 L289.3,575.5 L289.7,575.7 L290.0,575.5 L290.4,575.5 L290.8,576.0 L291.2,575.5 L291.6,575.9 L291.9,576.2 L292.3,575.5 L292.7,576.2 L293.1,576.3 L293.5,576.0 L293.8,576.0 L294.2,575.5 L294.6,575.6 L295.0,575.9 L295.4,575.9 L295.7,575.6 L296.1,575.6 L296.5,575.8 L296.9,575.9 L297.3,576.2 L297.6,576.1 L298.0,575.8 L298.4,575.8 L298.8,575.7 L299.2,575.6 L299.5,575.5 L299.9,576.2 L300.3,576.2 L300.7,575.6 L301.1,575.9 L301.4,576.2 L301.8,575.8 L302.2,576.1 L302.6,576.1 L303.0,576.0 L303.3,575.9 L303.7,575.8 L304.1,576.3 L304.5,575.7 L304.9,575.8 L305.2,575.9 L305.6,575.8 L306.0,575.7 L306.4,576.3 L306.7,575.9 L307.1,575.8 L307.5,575.8 L307.9,575.8 L308.3,576.2 L308.6,575.6 L309.0,575.7 L309.4,576.1 L309.8,576.0 L310.2,575.6 L310.5,576.2 L310.9,576.0 L311.3,575.6 L311.7,575.6 L312.1,576.1 L312.4,575.7 L312.8,576.0 L313.2,575.8 L313.6,575.7 L314.0,576.2 L314.3,576.1 L314.7,576.1 L315.1,576.1 L315.5,576.3 L315.9,576.2 L316.2,576.0 L316.6,576.0 L317.0,576.3 L317.4,575.8 L317.8,575.6 L318.1,575.8 L318.5,576.0 L318.9,575.7 L319.3,576.0 L319.7,576.2 L320.0,575.9 L320.4,576.3 L320.8,575.8 L321.2,576.2 L321.6,576.0 L321.9,575.5 L322.3,575.7 L322.7,575.6 L323.1,575.8 L323.5,575.8 L323.8,575.7 L324.2,575.5 L324.6,576.1 L325.0,575.6 L325.3,576.0 L325.7,576.0 L326.1,575.5 L326.5,575.7 L326.9,575.5 L327.2,575.4 L327.6,575.6 L328.0,575.8 L328.4,575.9 L328.8,575.4 L329.1,575.1 L329.5,575.3 L329.9,575.3 L330.3,575.1 L330.7,574.7 L331.0,574.0 L331.4,574.3 L331.8,573.7 L332.2,573.4 L332.6,572.6 L332.9,572.1 L333.3,572.6 L333.7,572.3 L334.1,571.5 L334.5,571.4 L334.8,572.1 L335.2,572.1 L335.6,572.2 L336.0,572.6 L336.4,572.9 L336.7,573.2 L337.1,573.7 L337.5,574.2 L337.9,574.5 L338.3,574.7 L338.6,575.0 L339.0,574.8 L339.4,575.0 L339.8,575.5 L340.2,575.2 L340.5,575.3 L340.9,575.7 L341.3,575.6 L341.7,575.9 L342.0,575.4 L342.4,575.7 L342.8,576.1 L343.2,576.1 L343.6,575.6 L343.9,575.9 L344.3,575.6 L344.7,576.0 L345.1,575.6 L345.5,575.6 L345.8,576.2 L346.2,575.8 L346.6,576.1 L347.0,575.7 L347.4,575.6 L347.7,575.6 L348.1,576.1 L348.5,576.2 L348.9,575.7 L349.3,575.8 L349.6,576.1 L350.0,576.1 L350.4,575.8 L350.8,576.2 L351.2,575.7 L351.5,576.0 L351.9,576.0 L352.3,575.9 L352.7,575.8 L353.1,575.6 L353.4,576.2 L353.8,575.6 L354.2,576.0 L354.6,575.9 L355.0,575.6 L355.3,575.5 L355.7,575.6 L356.1,575.3 L356.5,575.8 L356.9,575.7 L357.2,575.4 L357.6,575.6 L358.0,575.6 L358.4,575.5 L358.8,575.0 L359.1,574.9 L359.5,574.9 L359.9,574.6 L360.3,574.7 L360.6,575.0 L361.0,574.9 L361.4,574.5 L361.8,574.9 L362.2,574.4 L362.5,574.7 L362.9,574.7 L363.3,574.3 L363.7,574.5 L364.1,573.9 L364.4,573.9 L364.8,574.3 L365.2,574.5 L365.6,574.6 L366.0,574.3 L366.3,574.4 L366.7,574.6 L367.1,574.4 L367.5,574.6 L367.9,574.5 L368.2,575.1 L368.6,575.2 L369.0,575.1 L369.4,575.1 L369.8,575.4 L370.1,575.1 L370.5,575.5 L370.9,575.5 L371.3,575.5 L371.7,575.3 L372.0,575.3 L372.4,575.7 L372.8,575.7 L373.2,575.3 L373.6,575.3 L373.9,575.6 L374.3,576.1 L374.7,575.8 L375.1,575.7 L375.5,576.0 L375.8,576.2 L376.2,575.4 L376.6,575.5 L377.0,576.1 L377.4,575.9 L377.7,575.7 L378.1,576.0 L378.5,576.2 L378.9,575.6 L379.2,575.6 L379.6,575.9 L380.0,576.2 L380.4,575.9 L380.8,576.2 L381.1,575.5 L381.5,576.2 L381.9,576.0 L382.3,575.6 L382.7,576.1 L383.0,576.2 L383.4,576.2 L383.8,576.1 L384.2,575.8 L384.6,575.6 L384.9,576.1 L385.3,576.1 L385.7,575.6 L386.1,575.9 L386.5,575.9 L386.8,576.1 L387.2,576.0 L387.6,575.4 L388.0,576.1 L388.4,575.9 L388.7,575.5 L389.1,575.4 L389.5,575.3 L389.9,575.6 L390.3,575.1 L390.6,575.2 L391.0,575.2 L391.4,574.8 L391.8,574.3 L392.2,574.0 L392.5,574.1 L392.9,573.6 L393.3,572.7 L393.7,573.2 L394.1,572.5 L394.4,573.0 L394.8,573.3 L395.2,573.6 L395.6,573.8 L396.0,573.7 L396.3,574.7 L396.7,574.5 L397.1,575.1 L397.5,575.4 L397.8,575.1 L398.2,575.5 L398.6,575.7 L399.0,575.6 L399.4,575.3 L399.7,575.2 L400.1,575.4 L400.5,575.9 L400.9,575.2 L401.3,575.3 L401.6,574.9 L402.0,574.8 L402.4,575.1 L402.8,574.5 L403.2,574.4 L403.5,574.5 L403.9,574.2 L404.3,573.8 L404.7,573.5 L405.1,573.1 L405.4,572.9 L405.8,572.3 L406.2,571.4 L406.6,571.4 L407.0,570.9 L407.3,570.4 L407.7,570.4 L408.1,570.7 L408.5,570.2 L408.9,570.5 L409.2,570.6 L409.6,571.1 L410.0,571.5 L410.4,571.8 L410.8,572.7 L411.1,572.8 L411.5,573.4 L411.9,573.4 L412.3,574.3 L412.7,574.2 L413.0,574.7 L413.4,574.5 L413.8,575.0 L414.2,574.8 L414.5,574.9 L414.9,574.9 L415.3,575.6 L415.7,575.0 L416.1,575.2 L416.4,575.2 L416.8,575.3 L417.2,575.8 L417.6,575.1 L418.0,575.3 L418.3,575.4 L418.7,575.5 L419.1,575.1 L419.5,575.0 L419.9,574.9 L420.2,575.3 L420.6,575.1 L421.0,575.1 L421.4,575.0 L421.8,574.6 L422.1,574.7 L422.5,573.8 L422.9,573.9 L423.3,573.7 L423.7,573.3 L424.0,572.3 L424.4,572.2 L424.8,571.4 L425.2,570.8 L425.6,569.9 L425.9,569.1 L426.3,568.9 L426.7,567.9 L427.1,567.0 L427.5,566.7 L427.8,565.8 L428.2,565.5 L428.6,565.5 L429.0,564.8 L429.4,564.9 L429.7,565.4 L430.1,565.2 L430.5,565.4 L430.9,566.0 L431.3,566.6 L431.6,567.2 L432.0,567.4 L432.4,568.1 L432.8,569.0 L433.1,569.3 L433.5,569.6 L433.9,569.3 L434.3,569.7 L434.7,570.2 L435.0,569.6 L435.4,570.4 L435.8,570.3 L436.2,570.8 L436.6,571.1 L436.9,572.0 L437.3,572.9 L437.7,573.2 L438.1,573.5 L438.5,573.9 L438.8,574.6 L439.2,575.0 L439.6,574.8 L440.0,574.9 L440.4,575.5 L440.7,575.0 L441.1,575.0 L441.5,575.5 L441.9,575.5 L442.3,575.3 L442.6,575.1 L443.0,575.7 L443.4,575.7 L443.8,575.6 L444.2,575.3 L444.5,575.7 L444.9,575.3 L445.3,575.2 L445.7,574.9 L446.1,575.0 L446.4,574.1 L446.8,573.8 L447.2,574.1 L447.6,574.0 L448.0,574.7 L448.3,574.4 L448.7,575.0 L449.1,575.1 L449.5,575.1 L449.9,575.6 L450.2,575.2 L450.6,575.8 L451.0,576.0 L451.4,575.6 L451.7,575.3 L452.1,575.3 L452.5,575.3 L452.9,575.7 L453.3,575.3 L453.6,575.6 L454.0,575.9 L454.4,575.6 L454.8,575.4 L455.2,575.7 L455.5,575.6 L455.9,575.8 L456.3,575.8 L456.7,575.7 L457.1,575.6 L457.4,575.6 L457.8,575.9 L458.2,576.0 L458.6,575.7 L459.0,575.4 L459.3,575.3 L459.7,575.7 L460.1,575.6 L460.5,575.3 L460.9,575.4 L461.2,574.9 L461.6,574.5 L462.0,574.8 L462.4,574.3 L462.8,574.1 L463.1,574.0 L463.5,574.1 L463.9,574.2 L464.3,574.7 L464.7,574.4 L465.0,574.5 L465.4,575.4 L465.8,574.7 L466.2,575.2 L466.6,575.5 L466.9,575.4 L467.3,574.7 L467.7,574.7 L468.1,574.9 L468.4,574.3 L468.8,573.8 L469.2,573.1 L469.6,573.4 L470.0,572.9 L470.3,573.3 L470.7,573.4 L471.1,573.6 L471.5,573.5 L471.9,573.4 L472.2,573.5 L472.6,573.4 L473.0,573.0 L473.4,572.7 L473.8,572.0 L474.1,571.2 L474.5,570.2 L474.9,569.5 L475.3,568.2 L475.7,567.2 L476.0,565.6 L476.4,564.7 L476.8,563.2 L477.2,562.4 L477.6,561.6 L477.9,560.3 L478.3,560.0 L478.7,559.5 L479.1,559.4 L479.5,559.1 L479.8,559.3 L480.2,560.4 L480.6,561.3 L481.0,562.3 L481.4,563.5 L481.7,564.4 L482.1,565.8 L482.5,567.1 L482.9,567.7 L483.3,568.9 L483.6,570.3 L484.0,570.4 L484.4,571.2 L484.8,572.1 L485.2,572.4 L485.5,572.5 L485.9,573.3 L486.3,573.5 L486.7,573.8 L487.0,573.7 L487.4,573.7 L487.8,573.6 L488.2,573.5 L488.6,574.0 L488.9,573.8 L489.3,573.2 L489.7,573.0 L490.1,572.9 L490.5,572.5 L490.8,572.3 L491.2,571.2 L491.6,570.8 L492.0,570.0 L492.4,569.2 L492.7,568.0 L493.1,566.0 L493.5,564.4 L493.9,563.3 L494.3,561.0 L494.6,558.7 L495.0,556.4 L495.4,554.1 L495.8,551.3 L496.2,549.3 L496.5,546.9 L496.9,544.6 L497.3,543.1 L497.7,541.9 L498.1,541.1 L498.4,540.8 L498.8,540.9 L499.2,541.6 L499.6,543.3 L500.0,545.0 L500.3,547.0 L500.7,549.2 L501.1,551.1 L501.5,553.7 L501.9,556.2 L502.2,558.3 L502.6,559.8 L503.0,562.0 L503.4,562.9 L503.8,564.5 L504.1,565.2 L504.5,565.9 L504.9,565.7 L505.3,566.6 L505.6,566.9 L506.0,567.5 L506.4,568.0 L506.8,568.4 L507.2,569.2 L507.5,570.0 L507.9,570.8 L508.3,571.9 L508.7,572.3 L509.1,573.5 L509.4,573.3 L509.8,574.1 L510.2,574.5 L510.6,574.3 L511.0,574.3 L511.3,574.8 L511.7,575.1 L512.1,574.6 L512.5,574.7 L512.9,574.9 L513.2,574.6 L513.6,575.4 L514.0,575.5 L514.4,575.4 L514.8,575.5 L515.1,575.0 L515.5,575.1 L515.9,575.5 L516.3,575.5 L516.7,575.4 L517.0,575.0 L517.4,574.9 L517.8,574.5 L518.2,574.7 L518.6,573.8 L518.9,573.7 L519.3,573.1 L519.7,572.8 L520.1,572.6 L520.5,572.2 L520.8,572.7 L521.2,573.5 L521.6,574.5 L522.0,574.9 L522.4,575.2 L522.7,575.3 L523.1,575.1 L523.5,575.7 L523.9,575.4 L524.2,575.3 L524.6,575.8 L525.0,575.5 L525.4,575.2 L525.8,575.4 L526.1,575.5 L526.5,575.1 L526.9,575.3 L527.3,575.5 L527.7,575.5 L528.0,575.0 L528.4,574.9 L528.8,574.7 L529.2,574.8 L529.6,574.9 L529.9,574.5 L530.3,574.1 L530.7,573.8 L531.1,574.4 L531.5,574.0 L531.8,574.3 L532.2,574.8 L532.6,575.4 L533.0,574.9 L533.4,575.3 L533.7,575.1 L534.1,575.2 L534.5,575.1 L534.9,575.4 L535.3,574.9 L535.6,574.9 L536.0,574.9 L536.4,575.1 L536.8,575.3 L537.2,575.2 L537.5,575.2 L537.9,574.6 L538.3,574.5 L538.7,574.2 L539.1,573.8 L539.4,573.4 L539.8,573.3 L540.2,573.5 L540.6,573.2 L540.9,573.8 L541.3,573.8 L541.7,574.4 L542.1,574.0 L542.5,574.4 L542.8,574.6 L543.2,574.0 L543.6,574.6 L544.0,573.8 L544.4,573.7 L544.7,574.0 L545.1,573.2 L545.5,573.0 L545.9,572.3 L546.3,572.1 L546.6,571.6 L547.0,570.4 L547.4,570.2 L547.8,568.7 L548.2,568.0 L548.5,566.5 L548.9,565.2 L549.3,562.9 L549.7,561.4 L550.1,559.1 L550.4,557.4 L550.8,554.8 L551.2,552.6 L551.6,550.8 L552.0,548.3 L552.3,546.1 L552.7,544.6 L553.1,542.7 L553.5,541.9 L553.9,541.1 L554.2,540.4 L554.6,540.6 L555.0,541.3 L555.4,542.9 L555.8,544.3 L556.1,545.9 L556.5,548.0 L556.9,550.4 L557.3,552.3 L557.7,554.9 L558.0,556.7 L558.4,559.1 L558.8,561.4 L559.2,562.7 L559.5,564.8 L559.9,565.7 L560.3,567.4 L560.7,567.7 L561.1,568.8 L561.4,569.3 L561.8,570.1 L562.2,569.9 L562.6,570.2 L563.0,570.3 L563.3,569.7 L563.7,570.1 L564.1,569.7 L564.5,569.9 L564.9,569.4 L565.2,569.5 L565.6,570.6 L566.0,570.7 L566.4,571.2 L566.8,571.5 L567.1,572.0 L567.5,572.8 L567.9,572.7 L568.3,573.7 L568.7,574.0 L569.0,573.7 L569.4,574.5 L569.8,574.6 L570.2,574.4 L570.6,574.6 L570.9,574.7 L571.3,574.1 L571.7,574.4 L572.1,574.1 L572.5,574.4 L572.8,573.6 L573.2,573.9 L573.6,573.0 L574.0,572.8 L574.4,571.9 L574.7,571.4 L575.1,570.6 L575.5,569.8 L575.9,568.5 L576.3,567.6 L576.6,566.7 L577.0,564.9 L577.4,563.8 L577.8,562.9 L578.1,562.1 L578.5,562.0 L578.9,561.6 L579.3,561.5 L579.7,561.9 L580.0,562.8 L580.4,564.4 L580.8,565.1 L581.2,566.4 L581.6,567.7 L581.9,569.1 L582.3,570.2 L582.7,570.8 L583.1,571.7 L583.5,572.5 L583.8,573.0 L584.2,573.3 L584.6,573.5 L585.0,573.9 L585.4,574.3 L585.7,573.7 L586.1,573.8 L586.5,572.7 L586.9,572.0 L587.3,572.1 L587.6,571.5 L588.0,571.5 L588.4,572.7 L588.8,573.3 L589.2,574.1 L589.5,574.8 L589.9,575.0 L590.3,575.2 L590.7,575.1 L591.1,574.9 L591.4,574.9 L591.8,574.6 L592.2,574.8 L592.6,575.1 L593.0,574.6 L593.3,574.8 L593.7,574.9 L594.1,574.6 L594.5,574.7 L594.9,574.9 L595.2,574.7 L595.6,574.9 L596.0,574.3 L596.4,574.8 L596.7,574.1 L597.1,574.8 L597.5,574.7 L597.9,574.1 L598.3,574.2 L598.6,573.8 L599.0,573.8 L599.4,572.9 L599.8,572.6 L600.2,572.1 L600.5,571.2 L600.9,570.4 L601.3,569.7 L601.7,568.5 L602.1,567.7 L602.4,566.0 L602.8,563.9 L603.2,561.3 L603.6,559.5 L604.0,556.8 L604.3,554.5 L604.7,551.4 L605.1,548.1 L605.5,545.5 L605.9,542.5 L606.2,540.7 L606.6,538.4 L607.0,536.8 L607.4,535.3 L607.8,535.5 L608.1,535.2 L608.5,536.8 L608.9,537.9 L609.3,540.3 L609.7,543.0 L610.0,545.2 L610.4,548.5 L610.8,551.2 L611.2,554.5 L611.6,556.6 L611.9,559.1 L612.3,562.1 L612.7,563.7 L613.1,565.9 L613.4,567.6 L613.8,568.8 L614.2,569.8 L614.6,570.5 L615.0,571.3 L615.3,571.9 L615.7,572.8 L616.1,573.2 L616.5,573.9 L616.9,573.7 L617.2,574.1 L617.6,574.4 L618.0,574.1 L618.4,574.8 L618.8,575.0 L619.1,575.1 L619.5,575.1 L619.9,574.8 L620.3,574.7 L620.7,575.3 L621.0,575.1 L621.4,575.1 L621.8,575.1 L622.2,575.3 L622.6,575.2 L622.9,575.7 L623.3,575.7 L623.7,575.4 L624.1,575.6 L624.5,575.2 L624.8,575.6 L625.2,575.2 L625.6,575.7 L626.0,575.8 L626.4,575.5 L626.7,575.6 L627.1,575.7 L627.5,575.3 L627.9,575.8 L628.3,575.4 L628.6,575.3 L629.0,575.6 L629.4,575.6 L629.8,575.3 L630.2,575.5 L630.5,575.9 L630.9,576.0 L631.3,576.0 L631.7,575.8 L632.0,576.0 L632.4,575.6 L632.8,575.8 L633.2,575.9 L633.6,575.7 L633.9,575.4 L634.3,575.9 L634.7,576.0 L635.1,575.9 L635.5,575.9 L635.8,575.4 L636.2,575.6 L636.6,575.8 L637.0,576.0 L637.4,576.1 L637.7,576.1 L638.1,575.5 L638.5,575.7 L638.9,576.1 L639.3,575.7 L639.6,576.2 L640.0,575.8 L640.4,575.9 L640.8,576.1 L641.2,575.6 L641.5,575.6 L641.9,575.8 L642.3,576.1 L642.7,575.7 L643.1,575.9 L643.4,575.7 L643.8,576.2 L644.2,575.5 L644.6,576.2 L645.0,576.1 L645.3,575.9 L645.7,576.1 L646.1,576.2 L646.5,575.7 L646.9,575.5 L647.2,576.0 L647.6,576.0 L648.0,575.7 L648.4,576.1 L648.8,575.9 L649.1,575.7 L649.5,575.9 L649.9,576.1 L650.3,576.2 L650.6,575.8 L651.0,575.5 L651.4,575.5 L651.8,576.2 L652.2,575.9 L652.5,575.9 L652.9,576.1 L653.3,575.8 L653.7,575.9 L654.1,575.6 L654.4,576.1 L654.8,575.5 L655.2,575.6 L655.6,575.9 L656.0,576.2 L656.3,575.9 L656.7,576.2 L657.1,575.8 L657.5,575.7 L657.9,575.8 L658.2,575.5 L658.6,576.3 L659.0,575.7 L659.4,575.7 L659.8,576.2 L660.1,576.1 L660.5,576.3 L660.9,575.8 L661.3,575.7 L661.7,576.0 L662.0,575.8 L662.4,576.0 L662.8,575.7 L663.2,576.1 L663.6,575.5" fill="none" stroke="#E2005C" stroke-width="2.8" stroke-linejoin="round"/>
<path d="M170.1,659.8 L170.5,660.1 L170.9,659.9 L171.2,659.3 L171.6,659.1 L172.0,659.2 L172.4,659.4 L172.8,658.8 L173.1,658.8 L173.5,659.1 L173.9,658.8 L174.3,658.4 L174.7,658.9 L175.0,658.7 L175.4,658.4 L175.8,657.9 L176.2,657.7 L176.6,658.1 L176.9,657.6 L177.3,657.6 L177.7,657.5 L178.1,657.7 L178.5,657.4 L178.8,657.7 L179.2,657.4 L179.6,657.8 L180.0,658.1 L180.3,657.9 L180.7,658.1 L181.1,658.3 L181.5,658.3 L181.9,658.3 L182.2,658.4 L182.6,658.8 L183.0,658.8 L183.4,658.8 L183.8,658.9 L184.1,659.1 L184.5,659.0 L184.9,659.5 L185.3,659.3 L185.7,659.6 L186.0,659.3 L186.4,659.4 L186.8,659.4 L187.2,659.7 L187.6,660.0 L187.9,659.5 L188.3,659.9 L188.7,660.0 L189.1,660.1 L189.5,660.0 L189.8,659.8 L190.2,659.7 L190.6,659.9 L191.0,659.5 L191.4,659.7 L191.7,659.2 L192.1,658.9 L192.5,658.7 L192.9,658.6 L193.3,658.4 L193.6,658.6 L194.0,659.4 L194.4,659.7 L194.8,659.5 L195.2,659.7 L195.5,659.8 L195.9,659.8 L196.3,659.6 L196.7,659.7 L197.1,659.5 L197.4,658.8 L197.8,658.6 L198.2,657.4 L198.6,657.6 L198.9,657.7 L199.3,657.8 L199.7,658.4 L200.1,659.3 L200.5,659.5 L200.8,659.9 L201.2,659.5 L201.6,659.6 L202.0,659.9 L202.4,659.9 L202.7,660.0 L203.1,659.8 L203.5,659.6 L203.9,659.4 L204.3,659.3 L204.6,659.3 L205.0,659.5 L205.4,659.4 L205.8,659.4 L206.2,658.8 L206.5,659.2 L206.9,659.0 L207.3,658.7 L207.7,657.8 L208.1,657.2 L208.4,656.8 L208.8,655.1 L209.2,653.2 L209.6,651.0 L210.0,647.5 L210.3,642.4 L210.7,636.9 L211.1,630.4 L211.5,622.4 L211.9,615.5 L212.2,609.2 L212.6,604.6 L213.0,603.3 L213.4,605.1 L213.8,609.2 L214.1,615.6 L214.5,623.1 L214.9,630.1 L215.3,636.6 L215.6,642.7 L216.0,647.1 L216.4,650.8 L216.8,653.8 L217.2,655.8 L217.5,656.5 L217.9,657.4 L218.3,658.2 L218.7,658.7 L219.1,658.4 L219.4,658.6 L219.8,659.2 L220.2,659.0 L220.6,659.1 L221.0,659.2 L221.3,659.2 L221.7,658.7 L222.1,658.0 L222.5,657.5 L222.9,657.2 L223.2,657.4 L223.6,657.6 L224.0,657.9 L224.4,658.4 L224.8,659.0 L225.1,659.0 L225.5,659.9 L225.9,659.4 L226.3,660.1 L226.7,659.6 L227.0,660.1 L227.4,659.8 L227.8,659.9 L228.2,659.9 L228.6,659.0 L228.9,658.6 L229.3,658.4 L229.7,657.4 L230.1,657.0 L230.5,656.1 L230.8,656.7 L231.2,656.6 L231.6,657.2 L232.0,657.6 L232.4,658.1 L232.7,658.7 L233.1,659.4 L233.5,659.8 L233.9,659.7 L234.2,660.4 L234.6,660.4 L235.0,660.0 L235.4,660.3 L235.8,659.9 L236.1,660.6 L236.5,660.4 L236.9,660.6 L237.3,660.7 L237.7,660.7 L238.0,660.7 L238.4,660.5 L238.8,660.4 L239.2,660.4 L239.6,660.6 L239.9,660.2 L240.3,660.4 L240.7,660.0 L241.1,660.7 L241.5,660.4 L241.8,660.4 L242.2,660.5 L242.6,660.1 L243.0,660.6 L243.4,660.0 L243.7,660.4 L244.1,660.4 L244.5,660.0 L244.9,660.0 L245.3,660.1 L245.6,660.2 L246.0,659.5 L246.4,660.0 L246.8,660.2 L247.2,659.9 L247.5,660.1 L247.9,660.4 L248.3,660.4 L248.7,660.1 L249.1,660.5 L249.4,660.5 L249.8,660.0 L250.2,660.5 L250.6,660.5 L251.0,660.7 L251.3,660.3 L251.7,660.3 L252.1,660.5 L252.5,660.5 L252.8,660.6 L253.2,660.2 L253.6,660.4 L254.0,660.1 L254.4,660.5 L254.7,660.2 L255.1,660.8 L255.5,660.6 L255.9,660.0 L256.3,660.2 L256.6,660.2 L257.0,660.4 L257.4,660.4 L257.8,660.6 L258.2,660.6 L258.5,660.2 L258.9,660.2 L259.3,660.5 L259.7,660.2 L260.1,660.5 L260.4,660.1 L260.8,660.4 L261.2,660.0 L261.6,660.1 L262.0,659.8 L262.3,660.0 L262.7,659.6 L263.1,659.5 L263.5,659.9 L263.9,659.8 L264.2,659.5 L264.6,659.7 L265.0,659.7 L265.4,659.6 L265.8,659.7 L266.1,660.0 L266.5,659.7 L266.9,659.3 L267.3,659.4 L267.7,659.1 L268.0,659.1 L268.4,658.7 L268.8,657.8 L269.2,657.3 L269.5,656.6 L269.9,656.0 L270.3,654.3 L270.7,653.2 L271.1,650.8 L271.4,648.7 L271.8,646.8 L272.2,645.0 L272.6,642.3 L273.0,640.9 L273.3,638.8 L273.7,638.0 L274.1,638.1 L274.5,637.7 L274.9,639.1 L275.2,640.4 L275.6,642.5 L276.0,644.8 L276.4,646.7 L276.8,649.4 L277.1,650.8 L277.5,653.0 L277.9,654.8 L278.3,655.8 L278.7,657.1 L279.0,657.9 L279.4,658.1 L279.8,659.0 L280.2,659.3 L280.6,659.5 L280.9,659.7 L281.3,659.3 L281.7,659.4 L282.1,659.5 L282.5,659.5 L282.8,660.0 L283.2,659.8 L283.6,660.2 L284.0,659.7 L284.4,659.9 L284.7,660.0 L285.1,660.4 L285.5,660.5 L285.9,659.9 L286.3,660.2 L286.6,660.2 L287.0,660.0 L287.4,660.6 L287.8,660.1 L288.1,660.3 L288.5,660.1 L288.9,660.4 L289.3,660.6 L289.7,660.0 L290.0,660.5 L290.4,660.2 L290.8,660.1 L291.2,660.6 L291.6,660.2 L291.9,660.5 L292.3,660.6 L292.7,660.6 L293.1,660.1 L293.5,660.5 L293.8,660.4 L294.2,660.4 L294.6,660.8 L295.0,660.2 L295.4,660.2 L295.7,660.1 L296.1,660.6 L296.5,660.7 L296.9,660.6 L297.3,660.3 L297.6,660.3 L298.0,660.5 L298.4,660.4 L298.8,660.7 L299.2,660.1 L299.5,660.5 L299.9,660.5 L300.3,660.2 L300.7,660.7 L301.1,660.3 L301.4,660.6 L301.8,660.2 L302.2,660.8 L302.6,660.7 L303.0,660.4 L303.3,660.5 L303.7,660.6 L304.1,660.4 L304.5,660.7 L304.9,660.5 L305.2,660.9 L305.6,660.3 L306.0,660.7 L306.4,660.2 L306.7,660.5 L307.1,660.4 L307.5,660.4 L307.9,660.8 L308.3,660.3 L308.6,660.7 L309.0,660.2 L309.4,660.3 L309.8,660.4 L310.2,660.2 L310.5,660.5 L310.9,660.4 L311.3,660.1 L311.7,660.7 L312.1,660.8 L312.4,660.6 L312.8,660.5 L313.2,660.8 L313.6,660.7 L314.0,660.2 L314.3,660.6 L314.7,660.8 L315.1,660.7 L315.5,660.4 L315.9,660.7 L316.2,660.5 L316.6,660.5 L317.0,660.5 L317.4,660.5 L317.8,660.2 L318.1,660.9 L318.5,660.1 L318.9,660.7 L319.3,660.8 L319.7,660.2 L320.0,660.4 L320.4,660.4 L320.8,660.7 L321.2,660.2 L321.6,660.6 L321.9,660.3 L322.3,660.7 L322.7,660.4 L323.1,660.3 L323.5,660.5 L323.8,660.4 L324.2,660.7 L324.6,660.3 L325.0,660.2 L325.3,660.6 L325.7,660.3 L326.1,660.1 L326.5,660.6 L326.9,660.0 L327.2,659.9 L327.6,660.5 L328.0,660.3 L328.4,660.3 L328.8,660.0 L329.1,660.0 L329.5,659.5 L329.9,659.4 L330.3,659.1 L330.7,658.6 L331.0,658.3 L331.4,657.5 L331.8,657.1 L332.2,657.2 L332.6,656.6 L332.9,656.4 L333.3,655.7 L333.7,655.6 L334.1,654.9 L334.5,654.8 L334.8,654.7 L335.2,655.5 L335.6,656.0 L336.0,655.8 L336.4,656.5 L336.7,656.5 L337.1,657.4 L337.5,657.9 L337.9,658.5 L338.3,658.2 L338.6,658.9 L339.0,659.2 L339.4,659.5 L339.8,659.4 L340.2,659.5 L340.5,660.0 L340.9,660.3 L341.3,660.2 L341.7,659.9 L342.0,660.3 L342.4,660.1 L342.8,660.2 L343.2,660.3 L343.6,660.3 L343.9,660.5 L344.3,660.3 L344.7,660.1 L345.1,660.7 L345.5,660.5 L345.8,660.1 L346.2,660.0 L346.6,660.8 L347.0,660.3 L347.4,660.3 L347.7,660.1 L348.1,660.4 L348.5,660.7 L348.9,660.6 L349.3,660.2 L349.6,660.2 L350.0,660.6 L350.4,660.3 L350.8,660.3 L351.2,660.3 L351.5,660.8 L351.9,660.4 L352.3,660.5 L352.7,660.3 L353.1,660.5 L353.4,660.6 L353.8,660.2 L354.2,660.5 L354.6,660.0 L355.0,660.4 L355.3,660.2 L355.7,659.9 L356.1,660.4 L356.5,659.9 L356.9,660.3 L357.2,659.6 L357.6,660.2 L358.0,659.6 L358.4,659.8 L358.8,659.8 L359.1,659.6 L359.5,659.4 L359.9,659.3 L360.3,659.5 L360.6,659.0 L361.0,659.1 L361.4,658.4 L361.8,658.8 L362.2,658.6 L362.5,658.7 L362.9,658.0 L363.3,658.5 L363.7,658.2 L364.1,658.0 L364.4,658.3 L364.8,658.1 L365.2,658.5 L365.6,658.7 L366.0,658.8 L366.3,658.5 L366.7,658.3 L367.1,658.9 L367.5,658.8 L367.9,658.7 L368.2,659.2 L368.6,659.4 L369.0,659.2 L369.4,659.4 L369.8,659.1 L370.1,659.3 L370.5,659.9 L370.9,659.7 L371.3,659.9 L371.7,660.3 L372.0,660.0 L372.4,659.7 L372.8,660.3 L373.2,660.1 L373.6,660.0 L373.9,660.6 L374.3,659.9 L374.7,660.6 L375.1,660.5 L375.5,660.1 L375.8,660.7 L376.2,660.4 L376.6,660.7 L377.0,660.4 L377.4,660.8 L377.7,660.7 L378.1,660.6 L378.5,660.7 L378.9,660.7 L379.2,660.6 L379.6,660.4 L380.0,660.7 L380.4,660.1 L380.8,660.5 L381.1,660.6 L381.5,660.6 L381.9,660.1 L382.3,660.7 L382.7,660.2 L383.0,660.7 L383.4,660.0 L383.8,660.4 L384.2,660.3 L384.6,660.1 L384.9,660.7 L385.3,660.7 L385.7,660.2 L386.1,660.3 L386.5,660.2 L386.8,660.5 L387.2,660.3 L387.6,660.5 L388.0,660.3 L388.4,660.4 L388.7,660.1 L389.1,660.3 L389.5,660.3 L389.9,659.9 L390.3,660.2 L390.6,659.4 L391.0,659.4 L391.4,659.2 L391.8,658.9 L392.2,658.1 L392.5,657.6 L392.9,657.0 L393.3,656.8 L393.7,656.5 L394.1,656.0 L394.4,656.6 L394.8,656.3 L395.2,656.8 L395.6,657.2 L396.0,657.7 L396.3,658.7 L396.7,658.6 L397.1,659.1 L397.5,659.7 L397.8,659.3 L398.2,659.7 L398.6,659.6 L399.0,659.9 L399.4,660.2 L399.7,659.6 L400.1,660.1 L400.5,660.0 L400.9,659.6 L401.3,659.9 L401.6,659.5 L402.0,659.1 L402.4,659.4 L402.8,658.7 L403.2,658.8 L403.5,658.1 L403.9,657.5 L404.3,657.0 L404.7,656.9 L405.1,656.2 L405.4,654.9 L405.8,654.7 L406.2,654.0 L406.6,653.5 L407.0,652.7 L407.3,652.3 L407.7,652.1 L408.1,652.2 L408.5,652.1 L408.9,652.4 L409.2,653.1 L409.6,653.0 L410.0,653.6 L410.4,654.3 L410.8,654.8 L411.1,655.9 L411.5,656.2 L411.9,657.2 L412.3,657.3 L412.7,657.8 L413.0,658.0 L413.4,658.4 L413.8,658.6 L414.2,659.3 L414.5,659.1 L414.9,659.5 L415.3,659.7 L415.7,659.7 L416.1,659.4 L416.4,659.4 L416.8,659.4 L417.2,659.6 L417.6,660.0 L418.0,659.9 L418.3,659.6 L418.7,659.8 L419.1,659.7 L419.5,659.8 L419.9,659.6 L420.2,659.1 L420.6,659.3 L421.0,658.6 L421.4,658.8 L421.8,658.1 L422.1,658.2 L422.5,657.9 L422.9,657.3 L423.3,657.1 L423.7,656.2 L424.0,655.5 L424.4,655.0 L424.8,653.5 L425.2,653.0 L425.6,652.4 L425.9,650.6 L426.3,650.2 L426.7,649.1 L427.1,648.3 L427.5,647.3 L427.8,646.0 L428.2,645.4 L428.6,645.0 L429.0,644.8 L429.4,644.7 L429.7,644.2 L430.1,645.0 L430.5,645.0 L430.9,645.8 L431.3,647.1 L431.6,647.4 L432.0,648.9 L432.4,649.2 L432.8,649.9 L433.1,650.6 L433.5,651.2 L433.9,651.4 L434.3,652.1 L434.7,652.0 L435.0,652.4 L435.4,652.5 L435.8,653.0 L436.2,653.2 L436.6,654.1 L436.9,654.8 L437.3,655.8 L437.7,656.7 L438.1,657.1 L438.5,657.8 L438.8,658.5 L439.2,659.1 L439.6,658.8 L440.0,659.5 L440.4,659.8 L440.7,659.7 L441.1,659.5 L441.5,659.4 L441.9,659.7 L442.3,659.7 L442.6,659.5 L443.0,659.6 L443.4,659.9 L443.8,659.9 L444.2,659.6 L444.5,659.9 L444.9,660.0 L445.3,659.4 L445.7,659.0 L446.1,659.1 L446.4,658.4 L446.8,657.9 L447.2,658.4 L447.6,658.5 L448.0,658.5 L448.3,659.1 L448.7,658.9 L449.1,659.2 L449.5,659.8 L449.9,659.7 L450.2,659.9 L450.6,660.3 L451.0,659.7 L451.4,660.3 L451.7,660.4 L452.1,660.1 L452.5,660.5 L452.9,660.1 L453.3,660.2 L453.6,659.7 L454.0,660.2 L454.4,659.8 L454.8,659.9 L455.2,660.0 L455.5,660.3 L455.9,660.2 L456.3,660.1 L456.7,660.2 L457.1,659.9 L457.4,660.0 L457.8,660.2 L458.2,659.9 L458.6,659.6 L459.0,660.2 L459.3,660.1 L459.7,660.3 L460.1,660.1 L460.5,660.0 L460.9,659.5 L461.2,659.0 L461.6,658.8 L462.0,658.3 L462.4,658.2 L462.8,658.2 L463.1,658.1 L463.5,658.6 L463.9,658.5 L464.3,658.8 L464.7,658.7 L465.0,659.4 L465.4,659.2 L465.8,659.4 L466.2,659.4 L466.6,659.4 L466.9,659.6 L467.3,659.0 L467.7,658.7 L468.1,658.5 L468.4,658.5 L468.8,657.6 L469.2,656.9 L469.6,656.4 L470.0,656.4 L470.3,656.9 L470.7,656.4 L471.1,656.8 L471.5,657.2 L471.9,656.7 L472.2,656.6 L472.6,656.2 L473.0,656.3 L473.4,655.3 L473.8,654.6 L474.1,653.7 L474.5,652.1 L474.9,650.9 L475.3,649.7 L475.7,647.9 L476.0,645.9 L476.4,644.5 L476.8,642.6 L477.2,641.2 L477.6,639.4 L477.9,638.8 L478.3,637.5 L478.7,636.8 L479.1,636.4 L479.5,636.4 L479.8,637.3 L480.2,638.4 L480.6,639.5 L481.0,641.0 L481.4,642.5 L481.7,643.9 L482.1,646.3 L482.5,647.7 L482.9,648.8 L483.3,650.9 L483.6,651.6 L484.0,653.3 L484.4,653.8 L484.8,654.5 L485.2,655.6 L485.5,656.1 L485.9,656.7 L486.3,656.6 L486.7,657.0 L487.0,657.1 L487.4,657.4 L487.8,657.2 L488.2,656.9 L488.6,656.9 L488.9,656.6 L489.3,656.9 L489.7,656.3 L490.1,655.9 L490.5,655.4 L490.8,654.2 L491.2,653.8 L491.6,652.3 L492.0,650.7 L492.4,648.9 L492.7,647.7 L493.1,645.2 L493.5,642.4 L493.9,639.1 L494.3,636.5 L494.6,632.5 L495.0,629.2 L495.4,625.2 L495.8,621.0 L496.2,617.8 L496.5,613.9 L496.9,610.8 L497.3,608.0 L497.7,605.7 L498.1,604.0 L498.4,603.6 L498.8,604.5 L499.2,605.3 L499.6,607.6 L500.0,610.7 L500.3,613.4 L500.7,617.0 L501.1,621.3 L501.5,624.5 L501.9,628.3 L502.2,632.2 L502.6,635.6 L503.0,637.6 L503.4,640.0 L503.8,642.5 L504.1,643.5 L504.5,644.6 L504.9,645.6 L505.3,646.2 L505.6,646.7 L506.0,648.1 L506.4,648.6 L506.8,649.7 L507.2,651.4 L507.5,652.4 L507.9,653.6 L508.3,654.5 L508.7,655.7 L509.1,656.7 L509.4,657.4 L509.8,657.6 L510.2,658.3 L510.6,658.0 L511.0,658.2 L511.3,658.9 L511.7,658.6 L512.1,658.7 L512.5,659.3 L512.9,658.8 L513.2,658.9 L513.6,659.3 L514.0,659.5 L514.4,659.4 L514.8,659.1 L515.1,659.3 L515.5,659.1 L515.9,659.6 L516.3,659.7 L516.7,659.5 L517.0,659.0 L517.4,659.4 L517.8,659.3 L518.2,658.4 L518.6,658.3 L518.9,657.2 L519.3,656.9 L519.7,656.2 L520.1,655.6 L520.5,655.7 L520.8,656.7 L521.2,657.4 L521.6,658.5 L522.0,658.8 L522.4,659.3 L522.7,659.1 L523.1,659.4 L523.5,659.4 L523.9,659.6 L524.2,659.5 L524.6,660.0 L525.0,659.8 L525.4,659.9 L525.8,659.9 L526.1,659.5 L526.5,660.0 L526.9,659.9 L527.3,659.9 L527.7,659.4 L528.0,659.5 L528.4,659.5 L528.8,659.3 L529.2,658.6 L529.6,658.2 L529.9,658.2 L530.3,657.8 L530.7,657.5 L531.1,658.1 L531.5,658.4 L531.8,658.9 L532.2,658.9 L532.6,658.9 L533.0,659.6 L533.4,659.5 L533.7,659.1 L534.1,659.5 L534.5,659.6 L534.9,659.2 L535.3,659.2 L535.6,659.6 L536.0,659.7 L536.4,659.3 L536.8,659.2 L537.2,658.9 L537.5,659.0 L537.9,659.1 L538.3,658.7 L538.7,658.5 L539.1,657.9 L539.4,657.5 L539.8,656.7 L540.2,656.5 L540.6,656.6 L540.9,657.2 L541.3,657.2 L541.7,658.1 L542.1,657.7 L542.5,658.1 L542.8,657.9 L543.2,658.2 L543.6,657.5 L544.0,658.1 L544.4,657.1 L544.7,656.8 L545.1,656.7 L545.5,655.8 L545.9,655.7 L546.3,654.5 L546.6,653.7 L547.0,652.6 L547.4,651.5 L547.8,649.4 L548.2,647.6 L548.5,646.1 L548.9,643.0 L549.3,641.0 L549.7,638.0 L550.1,634.9 L550.4,631.5 L550.8,627.8 L551.2,624.3 L551.6,621.1 L552.0,617.9 L552.3,615.0 L552.7,612.2 L553.1,609.4 L553.5,607.6 L553.9,606.5 L554.2,605.7 L554.6,606.5 L555.0,607.7 L555.4,609.4 L555.8,612.0 L556.1,614.2 L556.5,617.6 L556.9,621.0 L557.3,624.6 L557.7,628.2 L558.0,631.5 L558.4,634.6 L558.8,637.6 L559.2,640.0 L559.5,642.8 L559.9,645.3 L560.3,647.3 L560.7,648.8 L561.1,649.9 L561.4,650.5 L561.8,651.1 L562.2,652.1 L562.6,651.8 L563.0,652.1 L563.3,652.0 L563.7,651.8 L564.1,652.1 L564.5,652.1 L564.9,651.7 L565.2,652.0 L565.6,652.7 L566.0,652.9 L566.4,653.6 L566.8,654.7 L567.1,655.6 L567.5,655.9 L567.9,656.3 L568.3,657.2 L568.7,657.7 L569.0,657.7 L569.4,658.3 L569.8,657.9 L570.2,658.1 L570.6,658.5 L570.9,658.3 L571.3,658.5 L571.7,658.4 L572.1,658.3 L572.5,657.5 L572.8,657.5 L573.2,656.9 L573.6,656.6 L574.0,655.5 L574.4,654.8 L574.7,653.7 L575.1,652.6 L575.5,651.0 L575.9,649.7 L576.3,647.3 L576.6,645.7 L577.0,644.0 L577.4,642.2 L577.8,641.1 L578.1,639.7 L578.5,639.0 L578.9,638.2 L579.3,639.2 L579.7,639.6 L580.0,640.5 L580.4,642.1 L580.8,643.9 L581.2,646.1 L581.6,648.0 L581.9,649.4 L582.3,651.3 L582.7,652.5 L583.1,654.0 L583.5,654.8 L583.8,655.8 L584.2,656.3 L584.6,656.7 L585.0,657.6 L585.4,657.3 L585.7,658.0 L586.1,656.9 L586.5,656.9 L586.9,655.6 L587.3,654.9 L587.6,654.3 L588.0,655.1 L588.4,656.1 L588.8,656.6 L589.2,657.7 L589.5,658.1 L589.9,658.7 L590.3,659.2 L590.7,658.7 L591.1,659.2 L591.4,659.0 L591.8,659.4 L592.2,659.2 L592.6,658.8 L593.0,658.7 L593.3,658.8 L593.7,658.9 L594.1,658.6 L594.5,658.6 L594.9,658.9 L595.2,658.6 L595.6,658.5 L596.0,658.3 L596.4,658.6 L596.7,658.4 L597.1,658.2 L597.5,658.2 L597.9,657.8 L598.3,657.2 L598.6,657.0 L599.0,656.9 L599.4,655.9 L599.8,655.7 L600.2,654.3 L600.5,653.7 L600.9,652.5 L601.3,650.8 L601.7,648.7 L602.1,646.6 L602.4,643.5 L602.8,640.5 L603.2,637.6 L603.6,633.4 L604.0,629.3 L604.3,625.0 L604.7,620.7 L605.1,615.4 L605.5,610.7 L605.9,607.1 L606.2,602.8 L606.6,599.3 L607.0,596.8 L607.4,594.9 L607.8,594.0 L608.1,595.3 L608.5,596.3 L608.9,599.4 L609.3,603.0 L609.7,606.4 L610.0,611.3 L610.4,616.0 L610.8,620.8 L611.2,625.2 L611.6,629.9 L611.9,634.0 L612.3,637.7 L612.7,640.8 L613.1,644.0 L613.4,646.7 L613.8,648.8 L614.2,650.5 L614.6,652.1 L615.0,653.7 L615.3,654.3 L615.7,655.3 L616.1,656.2 L616.5,656.8 L616.9,657.4 L617.2,657.9 L617.6,657.6 L618.0,658.0 L618.4,658.6 L618.8,658.1 L619.1,658.3 L619.5,659.1 L619.9,658.7 L620.3,659.2 L620.7,659.0 L621.0,658.8 L621.4,659.3 L621.8,659.3 L622.2,659.2 L622.6,659.6 L622.9,659.3 L623.3,659.5 L623.7,659.1 L624.1,659.8 L624.5,659.4 L624.8,660.0 L625.2,659.9 L625.6,660.0 L626.0,660.0 L626.4,659.8 L626.7,660.1 L627.1,659.6 L627.5,660.2 L627.9,659.8 L628.3,659.6 L628.6,660.2 L629.0,660.2 L629.4,659.8 L629.8,660.0 L630.2,659.7 L630.5,660.2 L630.9,660.1 L631.3,659.7 L631.7,660.2 L632.0,659.7 L632.4,659.8 L632.8,660.4 L633.2,660.1 L633.6,659.8 L633.9,660.5 L634.3,659.9 L634.7,660.0 L635.1,660.0 L635.5,660.1 L635.8,660.5 L636.2,659.8 L636.6,660.5 L637.0,660.0 L637.4,660.1 L637.7,660.4 L638.1,660.1 L638.5,660.3 L638.9,660.1 L639.3,660.6 L639.6,659.9 L640.0,660.4 L640.4,660.0 L640.8,660.3 L641.2,660.1 L641.5,660.5 L641.9,660.3 L642.3,660.7 L642.7,660.3 L643.1,660.7 L643.4,660.0 L643.8,660.2 L644.2,660.4 L644.6,660.0 L645.0,660.0 L645.3,660.0 L645.7,660.7 L646.1,660.2 L646.5,660.2 L646.9,660.3 L647.2,660.8 L647.6,660.0 L648.0,660.4 L648.4,660.3 L648.8,660.1 L649.1,660.6 L649.5,660.8 L649.9,660.1 L650.3,660.6 L650.6,660.8 L651.0,660.7 L651.4,660.0 L651.8,660.2 L652.2,660.6 L652.5,660.7 L652.9,660.1 L653.3,660.3 L653.7,660.4 L654.1,660.7 L654.4,660.5 L654.8,660.1 L655.2,660.8 L655.6,660.5 L656.0,660.8 L656.3,660.0 L656.7,660.8 L657.1,660.1 L657.5,660.2 L657.9,660.3 L658.2,660.8 L658.6,660.3 L659.0,660.5 L659.4,660.5 L659.8,660.7 L660.1,660.4 L660.5,660.2 L660.9,660.8 L661.3,660.2 L661.7,660.5 L662.0,660.7 L662.4,660.7 L662.8,660.5 L663.2,660.4 L663.6,660.4" fill="none" stroke="#008A9C" stroke-width="2.8" stroke-linejoin="round"/>
<path d="M170.1,774.4 L170.5,774.6 L170.9,774.4 L171.2,773.9 L171.6,774.4 L172.0,774.4 L172.4,774.0 L172.8,773.8 L173.1,773.8 L173.5,773.4 L173.9,773.5 L174.3,772.6 L174.7,772.8 L175.0,772.3 L175.4,772.3 L175.8,772.1 L176.2,772.0 L176.6,772.2 L176.9,771.8 L177.3,772.1 L177.7,771.8 L178.1,771.7 L178.5,771.5 L178.8,772.0 L179.2,771.9 L179.6,771.6 L180.0,771.7 L180.3,771.6 L180.7,772.4 L181.1,772.5 L181.5,772.7 L181.9,772.4 L182.2,772.5 L182.6,772.8 L183.0,772.9 L183.4,773.2 L183.8,773.4 L184.1,773.2 L184.5,773.6 L184.9,773.8 L185.3,774.0 L185.7,774.2 L186.0,774.1 L186.4,774.4 L186.8,774.8 L187.2,774.7 L187.6,774.8 L187.9,774.9 L188.3,774.8 L188.7,775.1 L189.1,775.1 L189.5,775.1 L189.8,775.1 L190.2,774.6 L190.6,775.2 L191.0,775.0 L191.4,774.1 L191.7,773.9 L192.1,773.4 L192.5,772.8 L192.9,772.9 L193.3,773.1 L193.6,773.7 L194.0,773.5 L194.4,773.9 L194.8,774.8 L195.2,774.9 L195.5,775.1 L195.9,775.2 L196.3,774.4 L196.7,774.0 L197.1,774.0 L197.4,773.3 L197.8,772.2 L198.2,771.5 L198.6,771.6 L198.9,771.8 L199.3,772.5 L199.7,772.7 L200.1,773.3 L200.5,773.9 L200.8,774.8 L201.2,774.6 L201.6,774.4 L202.0,774.6 L202.4,774.8 L202.7,775.0 L203.1,775.0 L203.5,774.4 L203.9,774.9 L204.3,774.2 L204.6,774.2 L205.0,774.2 L205.4,773.7 L205.8,773.5 L206.2,773.5 L206.5,773.7 L206.9,772.9 L207.3,772.6 L207.7,772.1 L208.1,770.6 L208.4,769.4 L208.8,767.8 L209.2,764.6 L209.6,760.2 L210.0,754.1 L210.3,746.6 L210.7,737.0 L211.1,725.6 L211.5,714.1 L211.9,701.8 L212.2,691.6 L212.6,683.9 L213.0,681.2 L213.4,684.4 L213.8,691.4 L214.1,702.2 L214.5,713.9 L214.9,725.7 L215.3,736.8 L215.6,746.6 L216.0,754.5 L216.4,760.4 L216.8,764.3 L217.2,767.7 L217.5,769.7 L217.9,770.8 L218.3,771.5 L218.7,772.5 L219.1,773.1 L219.4,773.2 L219.8,773.6 L220.2,773.4 L220.6,773.9 L221.0,773.7 L221.3,773.3 L221.7,772.4 L222.1,772.4 L222.5,771.7 L222.9,771.2 L223.2,770.9 L223.6,771.1 L224.0,771.8 L224.4,772.3 L224.8,773.4 L225.1,774.0 L225.5,774.5 L225.9,774.4 L226.3,774.5 L226.7,775.0 L227.0,774.6 L227.4,775.0 L227.8,774.3 L228.2,774.4 L228.6,773.8 L228.9,773.4 L229.3,772.6 L229.7,771.8 L230.1,770.2 L230.5,769.9 L230.8,769.4 L231.2,769.9 L231.6,770.6 L232.0,771.8 L232.4,772.8 L232.7,773.6 L233.1,774.0 L233.5,774.6 L233.9,775.4 L234.2,775.0 L234.6,775.4 L235.0,775.8 L235.4,775.7 L235.8,775.7 L236.1,775.3 L236.5,775.5 L236.9,775.7 L237.3,775.8 L237.7,775.8 L238.0,775.8 L238.4,775.7 L238.8,775.4 L239.2,775.4 L239.6,775.5 L239.9,775.3 L240.3,775.5 L240.7,776.0 L241.1,776.0 L241.5,775.9 L241.8,775.9 L242.2,775.6 L242.6,775.4 L243.0,775.5 L243.4,775.6 L243.7,775.7 L244.1,775.0 L244.5,775.1 L244.9,775.2 L245.3,775.3 L245.6,774.5 L246.0,775.0 L246.4,774.6 L246.8,775.3 L247.2,775.0 L247.5,775.4 L247.9,775.1 L248.3,775.7 L248.7,775.9 L249.1,775.9 L249.4,775.4 L249.8,775.3 L250.2,775.6 L250.6,775.5 L251.0,775.8 L251.3,775.9 L251.7,776.0 L252.1,775.3 L252.5,776.0 L252.8,775.6 L253.2,775.8 L253.6,775.9 L254.0,775.7 L254.4,775.3 L254.7,775.8 L255.1,775.9 L255.5,775.5 L255.9,775.5 L256.3,775.6 L256.6,775.8 L257.0,775.3 L257.4,775.9 L257.8,775.8 L258.2,775.7 L258.5,775.5 L258.9,775.5 L259.3,775.4 L259.7,775.2 L260.1,775.0 L260.4,775.3 L260.8,775.5 L261.2,774.8 L261.6,775.3 L262.0,774.9 L262.3,774.8 L262.7,774.3 L263.1,774.1 L263.5,774.6 L263.9,774.5 L264.2,774.1 L264.6,774.4 L265.0,774.9 L265.4,774.4 L265.8,774.3 L266.1,774.5 L266.5,774.6 L266.9,774.0 L267.3,774.0 L267.7,773.8 L268.0,773.2 L268.4,772.4 L268.8,771.7 L269.2,770.3 L269.5,768.6 L269.9,766.6 L270.3,764.3 L270.7,761.0 L271.1,758.2 L271.4,754.2 L271.8,749.7 L272.2,745.5 L272.6,741.4 L273.0,737.8 L273.3,734.9 L273.7,732.8 L274.1,732.2 L274.5,733.3 L274.9,735.2 L275.2,738.3 L275.6,741.4 L276.0,746.0 L276.4,750.1 L276.8,754.1 L277.1,758.2 L277.5,761.1 L277.9,764.0 L278.3,766.4 L278.7,768.3 L279.0,770.3 L279.4,771.7 L279.8,772.1 L280.2,772.8 L280.6,773.6 L280.9,774.0 L281.3,774.4 L281.7,774.1 L282.1,774.6 L282.5,774.4 L282.8,774.9 L283.2,775.0 L283.6,775.0 L284.0,774.8 L284.4,774.8 L284.7,775.3 L285.1,775.0 L285.5,775.3 L285.9,775.0 L286.3,775.1 L286.6,775.3 L287.0,775.5 L287.4,775.6 L287.8,775.1 L288.1,775.2 L288.5,775.6 L288.9,775.8 L289.3,775.8 L289.7,775.2 L290.0,775.9 L290.4,775.3 L290.8,775.6 L291.2,775.6 L291.6,775.6 L291.9,775.7 L292.3,775.6 L292.7,776.0 L293.1,775.3 L293.5,776.0 L293.8,776.0 L294.2,775.6 L294.6,775.6 L295.0,775.5 L295.4,775.6 L295.7,775.4 L296.1,776.1 L296.5,776.1 L296.9,776.0 L297.3,775.5 L297.6,776.0 L298.0,775.7 L298.4,775.5 L298.8,776.0 L299.2,775.7 L299.5,775.5 L299.9,775.6 L300.3,775.9 L300.7,775.8 L301.1,776.0 L301.4,775.4 L301.8,775.6 L302.2,775.6 L302.6,776.0 L303.0,775.6 L303.3,775.8 L303.7,775.6 L304.1,775.9 L304.5,775.5 L304.9,775.7 L305.2,775.8 L305.6,775.8 L306.0,775.6 L306.4,775.8 L306.7,775.4 L307.1,776.2 L307.5,775.5 L307.9,775.6 L308.3,775.8 L308.6,775.5 L309.0,776.1 L309.4,775.9 L309.8,775.6 L310.2,775.6 L310.5,775.9 L310.9,775.4 L311.3,775.7 L311.7,776.2 L312.1,776.1 L312.4,776.2 L312.8,775.8 L313.2,776.0 L313.6,776.0 L314.0,775.9 L314.3,776.2 L314.7,775.5 L315.1,775.5 L315.5,775.8 L315.9,775.9 L316.2,776.0 L316.6,775.7 L317.0,775.9 L317.4,775.4 L317.8,775.4 L318.1,775.6 L318.5,775.5 L318.9,776.1 L319.3,776.1 L319.7,775.9 L320.0,776.1 L320.4,775.8 L320.8,775.4 L321.2,775.5 L321.6,775.4 L321.9,776.0 L322.3,776.0 L322.7,776.1 L323.1,775.9 L323.5,776.1 L323.8,775.7 L324.2,775.8 L324.6,775.5 L325.0,775.6 L325.3,775.5 L325.7,775.8 L326.1,775.4 L326.5,775.4 L326.9,775.3 L327.2,775.4 L327.6,775.3 L328.0,775.3 L328.4,775.4 L328.8,774.9 L329.1,774.5 L329.5,774.5 L329.9,773.6 L330.3,773.2 L330.7,772.7 L331.0,772.1 L331.4,771.8 L331.8,771.3 L332.2,770.6 L332.6,769.5 L332.9,768.6 L333.3,768.8 L333.7,768.4 L334.1,767.8 L334.5,767.7 L334.8,767.6 L335.2,768.3 L335.6,768.2 L336.0,769.2 L336.4,769.4 L336.7,770.5 L337.1,771.2 L337.5,772.0 L337.9,772.0 L338.3,772.9 L338.6,773.2 L339.0,774.2 L339.4,774.2 L339.8,774.4 L340.2,774.4 L340.5,774.6 L340.9,775.5 L341.3,775.4 L341.7,775.0 L342.0,775.4 L342.4,775.1 L342.8,775.7 L343.2,775.9 L343.6,775.2 L343.9,775.8 L344.3,775.6 L344.7,775.7 L345.1,775.6 L345.5,775.3 L345.8,775.3 L346.2,775.4 L346.6,775.9 L347.0,775.4 L347.4,776.1 L347.7,775.8 L348.1,775.3 L348.5,775.9 L348.9,775.8 L349.3,775.6 L349.6,775.9 L350.0,775.5 L350.4,775.6 L350.8,776.0 L351.2,775.3 L351.5,776.0 L351.9,775.5 L352.3,775.8 L352.7,775.9 L353.1,775.9 L353.4,775.2 L353.8,775.3 L354.2,775.5 L354.6,775.2 L355.0,775.1 L355.3,775.0 L355.7,775.3 L356.1,775.4 L356.5,775.1 L356.9,774.7 L357.2,774.8 L357.6,774.7 L358.0,774.5 L358.4,774.7 L358.8,774.4 L359.1,774.0 L359.5,774.4 L359.9,773.7 L360.3,774.2 L360.6,773.6 L361.0,773.4 L361.4,773.6 L361.8,772.8 L362.2,773.0 L362.5,773.1 L362.9,772.8 L363.3,772.5 L363.7,772.6 L364.1,772.9 L364.4,772.8 L364.8,772.3 L365.2,772.8 L365.6,772.8 L366.0,772.4 L366.3,772.5 L366.7,772.6 L367.1,773.4 L367.5,773.7 L367.9,773.2 L368.2,773.5 L368.6,773.9 L369.0,774.3 L369.4,774.2 L369.8,774.5 L370.1,774.4 L370.5,774.2 L370.9,774.9 L371.3,775.2 L371.7,774.8 L372.0,775.4 L372.4,775.4 L372.8,775.3 L373.2,774.9 L373.6,775.5 L373.9,775.5 L374.3,775.5 L374.7,775.7 L375.1,775.6 L375.5,775.4 L375.8,775.7 L376.2,775.3 L376.6,775.8 L377.0,775.9 L377.4,775.5 L377.7,775.7 L378.1,775.3 L378.5,775.9 L378.9,775.4 L379.2,775.5 L379.6,775.7 L380.0,775.9 L380.4,775.6 L380.8,775.4 L381.1,775.7 L381.5,775.7 L381.9,775.5 L382.3,775.5 L382.7,775.7 L383.0,775.9 L383.4,775.6 L383.8,775.6 L384.2,775.3 L384.6,775.2 L384.9,775.5 L385.3,775.7 L385.7,775.8 L386.1,775.4 L386.5,775.3 L386.8,775.7 L387.2,775.3 L387.6,775.1 L388.0,775.5 L388.4,775.0 L388.7,775.4 L389.1,775.1 L389.5,774.9 L389.9,775.2 L390.3,774.9 L390.6,774.1 L391.0,774.4 L391.4,773.7 L391.8,772.9 L392.2,772.0 L392.5,771.3 L392.9,770.4 L393.3,770.0 L393.7,770.0 L394.1,769.8 L394.4,770.0 L394.8,770.1 L395.2,771.0 L395.6,771.3 L396.0,771.9 L396.3,772.9 L396.7,773.0 L397.1,773.8 L397.5,773.7 L397.8,774.5 L398.2,774.5 L398.6,774.6 L399.0,774.9 L399.4,774.5 L399.7,775.0 L400.1,774.8 L400.5,774.6 L400.9,773.9 L401.3,774.0 L401.6,774.1 L402.0,773.5 L402.4,772.7 L402.8,772.0 L403.2,771.8 L403.5,770.4 L403.9,769.7 L404.3,768.5 L404.7,767.4 L405.1,766.0 L405.4,764.2 L405.8,762.8 L406.2,761.4 L406.6,760.3 L407.0,759.2 L407.3,758.8 L407.7,758.3 L408.1,757.4 L408.5,757.7 L408.9,758.3 L409.2,759.4 L409.6,760.6 L410.0,761.3 L410.4,763.0 L410.8,764.8 L411.1,765.9 L411.5,767.2 L411.9,768.7 L412.3,769.0 L412.7,770.1 L413.0,771.0 L413.4,772.3 L413.8,772.6 L414.2,773.3 L414.5,773.1 L414.9,773.4 L415.3,773.6 L415.7,773.7 L416.1,774.4 L416.4,774.5 L416.8,774.5 L417.2,773.9 L417.6,773.9 L418.0,774.1 L418.3,774.3 L418.7,773.7 L419.1,774.2 L419.5,773.9 L419.9,774.0 L420.2,772.9 L420.6,773.1 L421.0,772.4 L421.4,771.9 L421.8,771.6 L422.1,770.6 L422.5,770.0 L422.9,768.9 L423.3,767.8 L423.7,767.3 L424.0,765.4 L424.4,764.3 L424.8,762.6 L425.2,760.7 L425.6,758.3 L425.9,757.0 L426.3,754.7 L426.7,752.9 L427.1,750.2 L427.5,748.8 L427.8,746.9 L428.2,745.7 L428.6,744.4 L429.0,744.1 L429.4,743.8 L429.7,743.7 L430.1,744.4 L430.5,745.3 L430.9,747.1 L431.3,748.2 L431.6,750.0 L432.0,752.0 L432.4,753.8 L432.8,755.4 L433.1,757.2 L433.5,758.5 L433.9,759.3 L434.3,760.2 L434.7,760.9 L435.0,761.0 L435.4,761.6 L435.8,762.6 L436.2,764.0 L436.6,765.0 L436.9,766.4 L437.3,768.0 L437.7,769.7 L438.1,770.6 L438.5,771.7 L438.8,772.6 L439.2,773.3 L439.6,773.2 L440.0,773.7 L440.4,773.7 L440.7,774.5 L441.1,774.5 L441.5,774.4 L441.9,774.9 L442.3,774.7 L442.6,774.6 L443.0,774.7 L443.4,774.4 L443.8,774.6 L444.2,774.6 L444.5,774.5 L444.9,774.2 L445.3,774.3 L445.7,774.2 L446.1,772.9 L446.4,772.5 L446.8,772.5 L447.2,772.4 L447.6,772.5 L448.0,772.6 L448.3,773.6 L448.7,774.3 L449.1,774.3 L449.5,775.0 L449.9,775.0 L450.2,775.1 L450.6,775.3 L451.0,775.5 L451.4,775.3 L451.7,775.3 L452.1,775.3 L452.5,775.2 L452.9,775.2 L453.3,775.3 L453.6,775.5 L454.0,774.9 L454.4,774.9 L454.8,775.1 L455.2,775.5 L455.5,775.3 L455.9,774.8 L456.3,775.1 L456.7,775.3 L457.1,774.8 L457.4,774.7 L457.8,775.3 L458.2,775.0 L458.6,774.9 L459.0,775.2 L459.3,775.0 L459.7,774.7 L460.1,774.5 L460.5,774.3 L460.9,774.1 L461.2,773.9 L461.6,773.8 L462.0,773.4 L462.4,772.3 L462.8,772.0 L463.1,771.8 L463.5,772.6 L463.9,772.2 L464.3,773.0 L464.7,773.2 L465.0,773.7 L465.4,773.4 L465.8,773.6 L466.2,773.7 L466.6,774.0 L466.9,773.4 L467.3,773.8 L467.7,773.2 L468.1,772.6 L468.4,772.3 L468.8,771.4 L469.2,770.9 L469.6,769.7 L470.0,769.8 L470.3,769.7 L470.7,769.7 L471.1,769.6 L471.5,769.7 L471.9,769.7 L472.2,769.0 L472.6,768.3 L473.0,767.7 L473.4,766.1 L473.8,764.7 L474.1,762.7 L474.5,760.5 L474.9,758.0 L475.3,754.9 L475.7,751.4 L476.0,748.4 L476.4,745.6 L476.8,742.2 L477.2,738.7 L477.6,735.8 L477.9,733.8 L478.3,731.8 L478.7,730.2 L479.1,729.7 L479.5,730.5 L479.8,731.1 L480.2,733.4 L480.6,735.6 L481.0,738.4 L481.4,741.7 L481.7,744.4 L482.1,748.1 L482.5,751.2 L482.9,754.1 L483.3,756.7 L483.6,759.1 L484.0,761.4 L484.4,763.6 L484.8,765.1 L485.2,766.5 L485.5,767.4 L485.9,768.3 L486.3,769.1 L486.7,770.1 L487.0,770.2 L487.4,770.5 L487.8,770.8 L488.2,770.3 L488.6,770.7 L488.9,770.1 L489.3,769.9 L489.7,769.4 L490.1,768.6 L490.5,767.7 L490.8,766.4 L491.2,765.0 L491.6,763.5 L492.0,761.9 L492.4,759.1 L492.7,756.4 L493.1,752.7 L493.5,749.3 L493.9,745.2 L494.3,740.7 L494.6,735.3 L495.0,729.9 L495.4,724.4 L495.8,718.9 L496.2,713.0 L496.5,708.0 L496.9,703.1 L497.3,698.8 L497.7,695.8 L498.1,693.7 L498.4,693.0 L498.8,693.8 L499.2,695.9 L499.6,699.1 L500.0,702.7 L500.3,707.2 L500.7,713.0 L501.1,718.4 L501.5,724.0 L501.9,729.0 L502.2,734.2 L502.6,738.6 L503.0,743.2 L503.4,746.5 L503.8,749.2 L504.1,751.2 L504.5,752.8 L504.9,754.1 L505.3,754.6 L505.6,756.0 L506.0,757.1 L506.4,758.2 L506.8,760.2 L507.2,762.0 L507.5,763.7 L507.9,765.9 L508.3,767.7 L508.7,768.4 L509.1,769.9 L509.4,770.8 L509.8,771.9 L510.2,771.9 L510.6,772.6 L511.0,772.7 L511.3,773.3 L511.7,772.9 L512.1,773.5 L512.5,773.7 L512.9,773.3 L513.2,774.0 L513.6,774.0 L514.0,773.9 L514.4,773.6 L514.8,774.3 L515.1,774.3 L515.5,773.9 L515.9,774.5 L516.3,774.2 L516.7,773.9 L517.0,773.9 L517.4,773.6 L517.8,773.8 L518.2,772.6 L518.6,772.2 L518.9,770.8 L519.3,769.9 L519.7,768.7 L520.1,768.7 L520.5,769.2 L520.8,770.3 L521.2,771.2 L521.6,772.6 L522.0,773.4 L522.4,773.4 L522.7,774.1 L523.1,774.1 L523.5,774.8 L523.9,774.6 L524.2,774.6 L524.6,774.9 L525.0,774.8 L525.4,774.3 L525.8,774.5 L526.1,774.7 L526.5,774.6 L526.9,774.4 L527.3,774.3 L527.7,774.5 L528.0,774.8 L528.4,774.0 L528.8,774.2 L529.2,773.7 L529.6,773.2 L529.9,772.4 L530.3,771.8 L530.7,771.7 L531.1,771.9 L531.5,772.6 L531.8,772.7 L532.2,773.4 L532.6,774.0 L533.0,773.8 L533.4,773.9 L533.7,774.0 L534.1,774.0 L534.5,774.7 L534.9,774.4 L535.3,774.3 L535.6,774.5 L536.0,774.0 L536.4,773.8 L536.8,774.4 L537.2,774.0 L537.5,773.4 L537.9,773.2 L538.3,773.2 L538.7,772.9 L539.1,771.9 L539.4,771.2 L539.8,770.3 L540.2,770.5 L540.6,770.5 L540.9,770.4 L541.3,771.7 L541.7,771.7 L542.1,772.4 L542.5,772.0 L542.8,772.3 L543.2,771.8 L543.6,772.1 L544.0,771.2 L544.4,771.3 L544.7,770.9 L545.1,770.2 L545.5,769.4 L545.9,768.1 L546.3,766.4 L546.6,765.4 L547.0,763.3 L547.4,761.8 L547.8,759.0 L548.2,756.1 L548.5,753.2 L548.9,749.2 L549.3,745.2 L549.7,740.9 L550.1,735.7 L550.4,730.7 L550.8,725.9 L551.2,720.5 L551.6,715.1 L552.0,709.7 L552.3,704.5 L552.7,699.8 L553.1,696.1 L553.5,693.4 L553.9,692.2 L554.2,691.1 L554.6,691.7 L555.0,693.6 L555.4,696.0 L555.8,700.0 L556.1,704.7 L556.5,709.5 L556.9,714.8 L557.3,719.8 L557.7,725.2 L558.0,730.2 L558.4,735.9 L558.8,740.6 L559.2,744.2 L559.5,748.6 L559.9,752.1 L560.3,754.5 L560.7,757.6 L561.1,759.0 L561.4,760.5 L561.8,761.8 L562.2,762.5 L562.6,763.3 L563.0,762.9 L563.3,762.8 L563.7,762.4 L564.1,762.5 L564.5,762.8 L564.9,762.9 L565.2,763.0 L565.6,764.1 L566.0,765.0 L566.4,765.9 L566.8,766.5 L567.1,767.8 L567.5,768.9 L567.9,769.2 L568.3,770.3 L568.7,771.2 L569.0,771.4 L569.4,771.5 L569.8,772.1 L570.2,772.2 L570.6,772.2 L570.9,771.9 L571.3,772.0 L571.7,772.2 L572.1,771.6 L572.5,771.4 L572.8,770.7 L573.2,769.8 L573.6,769.3 L574.0,767.6 L574.4,766.2 L574.7,764.1 L575.1,761.6 L575.5,759.3 L575.9,756.3 L576.3,753.5 L576.6,750.2 L577.0,746.8 L577.4,743.7 L577.8,741.2 L578.1,738.6 L578.5,737.4 L578.9,737.0 L579.3,737.6 L579.7,738.5 L580.0,740.7 L580.4,743.4 L580.8,747.1 L581.2,750.5 L581.6,753.3 L581.9,757.0 L582.3,759.2 L582.7,761.9 L583.1,764.5 L583.5,766.3 L583.8,767.7 L584.2,769.4 L584.6,770.2 L585.0,770.6 L585.4,771.0 L585.7,771.0 L586.1,770.9 L586.5,769.8 L586.9,768.5 L587.3,767.5 L587.6,766.5 L588.0,767.2 L588.4,768.3 L588.8,770.2 L589.2,771.2 L589.5,772.5 L589.9,773.0 L590.3,773.4 L590.7,773.4 L591.1,773.1 L591.4,773.5 L591.8,773.9 L592.2,773.6 L592.6,773.7 L593.0,773.3 L593.3,773.4 L593.7,773.3 L594.1,772.9 L594.5,773.0 L594.9,773.4 L595.2,773.4 L595.6,772.7 L596.0,772.7 L596.4,772.5 L596.7,772.4 L597.1,772.5 L597.5,771.9 L597.9,771.3 L598.3,771.0 L598.6,771.0 L599.0,770.2 L599.4,768.8 L599.8,768.1 L600.2,767.1 L600.5,765.1 L600.9,763.0 L601.3,760.6 L601.7,758.0 L602.1,754.5 L602.4,751.1 L602.8,746.3 L603.2,740.9 L603.6,735.6 L604.0,729.6 L604.3,722.4 L604.7,715.6 L605.1,709.2 L605.5,702.1 L605.9,695.1 L606.2,688.7 L606.6,683.8 L607.0,679.6 L607.4,677.8 L607.8,676.5 L608.1,677.7 L608.5,680.1 L608.9,684.2 L609.3,689.1 L609.7,695.6 L610.0,701.7 L610.4,708.7 L610.8,715.6 L611.2,722.6 L611.6,729.8 L611.9,735.4 L612.3,741.3 L612.7,746.1 L613.1,751.0 L613.4,755.3 L613.8,758.1 L614.2,761.4 L614.6,763.1 L615.0,765.5 L615.3,766.8 L615.7,768.4 L616.1,769.6 L616.5,770.1 L616.9,770.8 L617.2,771.5 L617.6,772.1 L618.0,772.3 L618.4,772.4 L618.8,773.0 L619.1,773.3 L619.5,773.2 L619.9,773.2 L620.3,773.9 L620.7,773.8 L621.0,773.4 L621.4,774.1 L621.8,773.8 L622.2,774.2 L622.6,774.5 L622.9,774.2 L623.3,774.0 L623.7,774.2 L624.1,774.8 L624.5,774.3 L624.8,774.5 L625.2,774.6 L625.6,774.5 L626.0,774.7 L626.4,775.0 L626.7,774.6 L627.1,775.1 L627.5,775.0 L627.9,774.6 L628.3,774.9 L628.6,775.0 L629.0,774.8 L629.4,775.1 L629.8,775.2 L630.2,775.1 L630.5,775.5 L630.9,775.3 L631.3,775.5 L631.7,774.8 L632.0,774.9 L632.4,775.1 L632.8,775.5 L633.2,775.0 L633.6,775.5 L633.9,775.1 L634.3,775.2 L634.7,775.3 L635.1,775.2 L635.5,775.6 L635.8,775.1 L636.2,775.4 L636.6,775.2 L637.0,775.2 L637.4,775.6 L637.7,775.5 L638.1,775.6 L638.5,775.8 L638.9,775.2 L639.3,775.3 L639.6,775.5 L640.0,775.5 L640.4,775.2 L640.8,775.9 L641.2,775.7 L641.5,775.4 L641.9,775.5 L642.3,775.6 L642.7,775.8 L643.1,775.8 L643.4,775.5 L643.8,775.7 L644.2,775.3 L644.6,775.3 L645.0,775.2 L645.3,775.8 L645.7,775.6 L646.1,776.0 L646.5,775.8 L646.9,776.0 L647.2,775.7 L647.6,775.3 L648.0,775.5 L648.4,775.8 L648.8,775.9 L649.1,775.3 L649.5,776.0 L649.9,775.4 L650.3,775.4 L650.6,776.0 L651.0,775.3 L651.4,775.6 L651.8,775.8 L652.2,775.8 L652.5,775.6 L652.9,775.7 L653.3,775.4 L653.7,775.4 L654.1,775.9 L654.4,776.1 L654.8,775.5 L655.2,775.6 L655.6,775.6 L656.0,776.1 L656.3,776.1 L656.7,775.4 L657.1,775.9 L657.5,775.8 L657.9,775.4 L658.2,776.0 L658.6,775.7 L659.0,776.1 L659.4,775.7 L659.8,775.6 L660.1,776.1 L660.5,775.6 L660.9,775.4 L661.3,775.5 L661.7,775.6 L662.0,775.4 L662.4,775.6 L662.8,775.8 L663.2,775.5 L663.6,775.6" fill="none" stroke="#FF8300" stroke-width="2.8" stroke-linejoin="round"/>
<path d="M170.1,863.6 L170.5,863.5 L170.9,863.8 L171.2,863.6 L171.6,863.5 L172.0,863.0 L172.4,862.9 L172.8,863.2 L173.1,862.5 L173.5,863.2 L173.9,863.0 L174.3,862.7 L174.7,862.8 L175.0,862.0 L175.4,862.4 L175.8,862.2 L176.2,861.8 L176.6,861.9 L176.9,861.8 L177.3,861.9 L177.7,861.8 L178.1,861.4 L178.5,861.9 L178.8,861.7 L179.2,861.8 L179.6,862.1 L180.0,862.2 L180.3,861.9 L180.7,861.8 L181.1,862.2 L181.5,862.6 L181.9,862.0 L182.2,862.7 L182.6,862.2 L183.0,863.0 L183.4,862.6 L183.8,863.2 L184.1,863.2 L184.5,863.2 L184.9,863.0 L185.3,863.3 L185.7,863.4 L186.0,863.6 L186.4,863.5 L186.8,863.8 L187.2,863.3 L187.6,864.0 L187.9,864.1 L188.3,863.8 L188.7,864.0 L189.1,863.8 L189.5,864.3 L189.8,863.8 L190.2,864.0 L190.6,863.5 L191.0,863.8 L191.4,863.5 L191.7,863.3 L192.1,862.8 L192.5,862.7 L192.9,862.3 L193.3,862.6 L193.6,862.6 L194.0,863.3 L194.4,863.5 L194.8,863.6 L195.2,863.6 L195.5,863.8 L195.9,863.9 L196.3,864.0 L196.7,863.8 L197.1,863.4 L197.4,862.9 L197.8,862.4 L198.2,861.7 L198.6,861.7 L198.9,861.4 L199.3,862.3 L199.7,862.8 L200.1,863.3 L200.5,863.6 L200.8,863.4 L201.2,863.6 L201.6,864.0 L202.0,863.5 L202.4,863.6 L202.7,863.8 L203.1,863.6 L203.5,863.5 L203.9,863.6 L204.3,863.9 L204.6,863.6 L205.0,863.0 L205.4,863.4 L205.8,863.0 L206.2,863.3 L206.5,862.6 L206.9,862.3 L207.3,862.4 L207.7,861.9 L208.1,861.2 L208.4,860.4 L208.8,859.1 L209.2,857.1 L209.6,853.7 L210.0,849.8 L210.3,844.3 L210.7,837.8 L211.1,830.4 L211.5,822.2 L211.9,814.3 L212.2,807.9 L212.6,802.9 L213.0,800.4 L213.4,802.3 L213.8,807.4 L214.1,814.4 L214.5,822.6 L214.9,830.8 L215.3,838.5 L215.6,844.6 L216.0,850.0 L216.4,854.1 L216.8,856.5 L217.2,858.8 L217.5,859.9 L217.9,861.3 L218.3,861.7 L218.7,862.4 L219.1,862.2 L219.4,863.0 L219.8,862.8 L220.2,862.9 L220.6,863.1 L221.0,863.3 L221.3,862.8 L221.7,862.4 L222.1,861.7 L222.5,861.8 L222.9,861.4 L223.2,861.2 L223.6,861.0 L224.0,861.9 L224.4,862.2 L224.8,863.2 L225.1,863.6 L225.5,863.3 L225.9,863.7 L226.3,864.1 L226.7,863.9 L227.0,863.5 L227.4,863.9 L227.8,863.7 L228.2,863.6 L228.6,863.2 L228.9,863.1 L229.3,861.9 L229.7,861.5 L230.1,861.1 L230.5,860.6 L230.8,860.5 L231.2,860.1 L231.6,860.7 L232.0,861.7 L232.4,862.2 L232.7,862.9 L233.1,863.6 L233.5,864.1 L233.9,863.7 L234.2,864.3 L234.6,864.1 L235.0,864.6 L235.4,864.6 L235.8,864.5 L236.1,864.2 L236.5,864.2 L236.9,863.9 L237.3,864.2 L237.7,864.3 L238.0,864.7 L238.4,864.0 L238.8,864.4 L239.2,864.1 L239.6,864.7 L239.9,864.1 L240.3,864.4 L240.7,864.6 L241.1,864.4 L241.5,864.7 L241.8,864.3 L242.2,864.6 L242.6,864.2 L243.0,864.6 L243.4,864.2 L243.7,864.2 L244.1,864.0 L244.5,863.7 L244.9,864.2 L245.3,863.8 L245.6,863.9 L246.0,863.5 L246.4,863.6 L246.8,863.7 L247.2,863.9 L247.5,864.3 L247.9,863.9 L248.3,863.9 L248.7,863.9 L249.1,864.5 L249.4,864.1 L249.8,864.2 L250.2,864.1 L250.6,864.1 L251.0,864.4 L251.3,864.5 L251.7,864.1 L252.1,864.2 L252.5,864.3 L252.8,864.1 L253.2,864.7 L253.6,864.7 L254.0,864.4 L254.4,864.7 L254.7,864.1 L255.1,864.7 L255.5,864.0 L255.9,864.5 L256.3,864.6 L256.6,864.1 L257.0,864.1 L257.4,864.4 L257.8,864.2 L258.2,864.2 L258.5,863.9 L258.9,864.2 L259.3,864.2 L259.7,864.2 L260.1,864.2 L260.4,863.9 L260.8,864.3 L261.2,863.8 L261.6,863.5 L262.0,863.5 L262.3,863.5 L262.7,863.6 L263.1,863.7 L263.5,863.7 L263.9,863.4 L264.2,863.2 L264.6,863.3 L265.0,863.8 L265.4,863.4 L265.8,863.3 L266.1,863.5 L266.5,863.1 L266.9,863.5 L267.3,863.2 L267.7,862.8 L268.0,862.2 L268.4,862.0 L268.8,861.4 L269.2,860.1 L269.5,859.3 L269.9,857.9 L270.3,856.3 L270.7,854.0 L271.1,851.3 L271.4,848.9 L271.8,845.7 L272.2,842.8 L272.6,840.2 L273.0,836.7 L273.3,835.1 L273.7,833.5 L274.1,832.6 L274.5,833.7 L274.9,835.3 L275.2,837.3 L275.6,840.1 L276.0,842.5 L276.4,845.8 L276.8,849.1 L277.1,851.7 L277.5,853.9 L277.9,856.3 L278.3,858.0 L278.7,858.9 L279.0,860.4 L279.4,861.5 L279.8,861.9 L280.2,862.7 L280.6,862.8 L280.9,863.0 L281.3,863.6 L281.7,863.4 L282.1,863.7 L282.5,863.5 L282.8,863.6 L283.2,863.5 L283.6,863.8 L284.0,864.2 L284.4,864.2 L284.7,863.8 L285.1,863.8 L285.5,864.4 L285.9,864.2 L286.3,864.3 L286.6,864.2 L287.0,863.9 L287.4,864.1 L287.8,864.0 L288.1,864.0 L288.5,864.4 L288.9,864.2 L289.3,864.4 L289.7,864.3 L290.0,864.3 L290.4,864.2 L290.8,864.6 L291.2,864.1 L291.6,864.6 L291.9,864.5 L292.3,864.1 L292.7,864.0 L293.1,864.5 L293.5,864.0 L293.8,864.7 L294.2,864.0 L294.6,864.6 L295.0,864.8 L295.4,864.2 L295.7,864.7 L296.1,864.2 L296.5,864.8 L296.9,864.7 L297.3,864.5 L297.6,864.8 L298.0,864.5 L298.4,864.6 L298.8,864.2 L299.2,864.4 L299.5,864.1 L299.9,864.2 L300.3,864.7 L300.7,864.1 L301.1,864.1 L301.4,864.4 L301.8,864.4 L302.2,864.7 L302.6,864.6 L303.0,864.7 L303.3,864.7 L303.7,864.4 L304.1,864.6 L304.5,864.3 L304.9,864.4 L305.2,864.2 L305.6,864.8 L306.0,864.2 L306.4,864.5 L306.7,864.4 L307.1,864.7 L307.5,864.3 L307.9,864.5 L308.3,864.3 L308.6,864.4 L309.0,864.8 L309.4,864.6 L309.8,864.3 L310.2,864.9 L310.5,864.4 L310.9,864.4 L311.3,864.3 L311.7,864.6 L312.1,864.5 L312.4,864.5 L312.8,864.3 L313.2,864.8 L313.6,864.5 L314.0,864.7 L314.3,864.4 L314.7,864.7 L315.1,864.7 L315.5,864.7 L315.9,864.2 L316.2,864.6 L316.6,864.2 L317.0,864.3 L317.4,864.6 L317.8,864.4 L318.1,864.9 L318.5,864.1 L318.9,864.4 L319.3,864.8 L319.7,864.4 L320.0,864.5 L320.4,864.3 L320.8,864.6 L321.2,864.1 L321.6,864.3 L321.9,864.8 L322.3,864.2 L322.7,864.1 L323.1,864.6 L323.5,864.2 L323.8,864.1 L324.2,864.1 L324.6,864.7 L325.0,864.1 L325.3,864.5 L325.7,864.1 L326.1,864.2 L326.5,864.3 L326.9,863.9 L327.2,864.0 L327.6,863.7 L328.0,863.7 L328.4,863.9 L328.8,863.6 L329.1,863.5 L329.5,863.5 L329.9,863.2 L330.3,862.9 L330.7,862.8 L331.0,862.4 L331.4,861.5 L331.8,861.0 L332.2,860.7 L332.6,860.2 L332.9,859.9 L333.3,859.5 L333.7,859.1 L334.1,859.5 L334.5,859.1 L334.8,858.7 L335.2,859.5 L335.6,859.6 L336.0,860.3 L336.4,860.6 L336.7,860.6 L337.1,861.7 L337.5,861.5 L337.9,861.9 L338.3,862.3 L338.6,863.1 L339.0,862.8 L339.4,863.5 L339.8,863.7 L340.2,863.4 L340.5,863.9 L340.9,863.9 L341.3,864.4 L341.7,864.6 L342.0,864.4 L342.4,864.6 L342.8,864.0 L343.2,864.5 L343.6,864.0 L343.9,864.2 L344.3,864.6 L344.7,864.2 L345.1,864.5 L345.5,864.3 L345.8,864.7 L346.2,864.1 L346.6,864.2 L347.0,864.3 L347.4,864.2 L347.7,864.5 L348.1,864.7 L348.5,864.5 L348.9,864.2 L349.3,864.3 L349.6,864.7 L350.0,864.6 L350.4,864.4 L350.8,864.8 L351.2,864.7 L351.5,864.4 L351.9,864.7 L352.3,864.0 L352.7,864.6 L353.1,864.1 L353.4,864.1 L353.8,864.4 L354.2,864.2 L354.6,863.9 L355.0,864.1 L355.3,864.3 L355.7,863.8 L356.1,864.3 L356.5,863.7 L356.9,864.1 L357.2,864.0 L357.6,864.0 L358.0,863.6 L358.4,863.4 L358.8,863.4 L359.1,863.7 L359.5,863.0 L359.9,863.1 L360.3,863.1 L360.6,862.7 L361.0,863.2 L361.4,862.7 L361.8,862.5 L362.2,862.4 L362.5,862.3 L362.9,862.7 L363.3,862.3 L363.7,862.5 L364.1,862.2 L364.4,862.3 L364.8,862.3 L365.2,862.2 L365.6,862.3 L366.0,862.1 L366.3,862.7 L366.7,862.8 L367.1,862.9 L367.5,863.1 L367.9,862.6 L368.2,862.7 L368.6,863.4 L369.0,863.4 L369.4,863.0 L369.8,863.2 L370.1,863.2 L370.5,863.3 L370.9,863.9 L371.3,864.2 L371.7,864.1 L372.0,864.0 L372.4,864.4 L372.8,864.3 L373.2,864.1 L373.6,864.0 L373.9,864.5 L374.3,864.5 L374.7,864.4 L375.1,864.6 L375.5,864.6 L375.8,864.6 L376.2,864.1 L376.6,864.0 L377.0,864.7 L377.4,864.1 L377.7,864.1 L378.1,864.2 L378.5,864.5 L378.9,864.1 L379.2,864.7 L379.6,864.7 L380.0,864.0 L380.4,864.6 L380.8,864.0 L381.1,864.2 L381.5,864.7 L381.9,864.7 L382.3,864.2 L382.7,864.6 L383.0,864.2 L383.4,864.2 L383.8,864.6 L384.2,864.4 L384.6,864.6 L384.9,864.0 L385.3,864.2 L385.7,864.2 L386.1,864.2 L386.5,864.7 L386.8,864.0 L387.2,864.1 L387.6,864.2 L388.0,864.2 L388.4,864.2 L388.7,864.0 L389.1,864.1 L389.5,864.2 L389.9,863.9 L390.3,864.0 L390.6,864.0 L391.0,863.3 L391.4,862.7 L391.8,862.4 L392.2,862.3 L392.5,861.6 L392.9,861.0 L393.3,860.6 L393.7,860.4 L394.1,860.3 L394.4,860.2 L394.8,860.3 L395.2,861.0 L395.6,861.3 L396.0,861.8 L396.3,862.7 L396.7,863.0 L397.1,863.3 L397.5,863.5 L397.8,863.6 L398.2,863.9 L398.6,863.4 L399.0,863.6 L399.4,863.9 L399.7,863.6 L400.1,863.4 L400.5,863.9 L400.9,863.4 L401.3,863.0 L401.6,863.3 L402.0,862.7 L402.4,862.4 L402.8,862.4 L403.2,862.2 L403.5,861.1 L403.9,860.8 L404.3,860.2 L404.7,859.4 L405.1,858.3 L405.4,857.4 L405.8,856.5 L406.2,855.8 L406.6,855.4 L407.0,854.6 L407.3,854.4 L407.7,853.9 L408.1,853.6 L408.5,853.9 L408.9,854.0 L409.2,854.8 L409.6,855.0 L410.0,856.0 L410.4,856.9 L410.8,857.4 L411.1,858.6 L411.5,859.6 L411.9,859.7 L412.3,860.4 L412.7,860.9 L413.0,861.9 L413.4,862.3 L413.8,862.3 L414.2,863.1 L414.5,862.6 L414.9,863.1 L415.3,863.3 L415.7,863.8 L416.1,863.7 L416.4,863.6 L416.8,863.2 L417.2,863.9 L417.6,863.5 L418.0,863.9 L418.3,863.1 L418.7,863.3 L419.1,863.2 L419.5,863.1 L419.9,863.5 L420.2,863.3 L420.6,863.3 L421.0,862.7 L421.4,862.9 L421.8,862.5 L422.1,862.2 L422.5,861.2 L422.9,860.8 L423.3,860.6 L423.7,859.4 L424.0,859.4 L424.4,858.6 L424.8,857.5 L425.2,856.2 L425.6,855.8 L425.9,854.2 L426.3,853.3 L426.7,852.0 L427.1,851.4 L427.5,850.6 L427.8,849.7 L428.2,848.5 L428.6,848.1 L429.0,847.5 L429.4,847.8 L429.7,847.9 L430.1,848.3 L430.5,848.3 L430.9,849.1 L431.3,850.4 L431.6,850.8 L432.0,852.2 L432.4,852.8 L432.8,853.8 L433.1,854.1 L433.5,854.7 L433.9,855.1 L434.3,855.8 L434.7,856.1 L435.0,855.8 L435.4,856.0 L435.8,857.0 L436.2,856.9 L436.6,857.7 L436.9,859.0 L437.3,859.8 L437.7,860.5 L438.1,861.0 L438.5,861.9 L438.8,862.5 L439.2,862.6 L439.6,863.1 L440.0,863.7 L440.4,863.4 L440.7,863.6 L441.1,863.8 L441.5,863.8 L441.9,864.0 L442.3,863.9 L442.6,863.6 L443.0,863.5 L443.4,863.9 L443.8,863.5 L444.2,864.1 L444.5,863.7 L444.9,863.4 L445.3,863.2 L445.7,863.3 L446.1,863.1 L446.4,862.1 L446.8,862.1 L447.2,861.9 L447.6,862.3 L448.0,862.8 L448.3,862.8 L448.7,863.3 L449.1,863.2 L449.5,863.6 L449.9,863.7 L450.2,863.9 L450.6,863.8 L451.0,864.3 L451.4,863.6 L451.7,864.0 L452.1,864.0 L452.5,864.3 L452.9,864.4 L453.3,863.9 L453.6,863.9 L454.0,863.9 L454.4,864.2 L454.8,864.0 L455.2,863.8 L455.5,863.9 L455.9,863.7 L456.3,864.3 L456.7,863.8 L457.1,864.4 L457.4,863.9 L457.8,863.9 L458.2,864.3 L458.6,864.0 L459.0,863.7 L459.3,863.5 L459.7,864.1 L460.1,863.7 L460.5,863.3 L460.9,863.7 L461.2,862.8 L461.6,862.5 L462.0,862.7 L462.4,862.6 L462.8,862.4 L463.1,862.3 L463.5,862.1 L463.9,862.1 L464.3,862.1 L464.7,862.6 L465.0,862.5 L465.4,863.1 L465.8,863.0 L466.2,863.6 L466.6,863.3 L466.9,863.5 L467.3,863.3 L467.7,862.5 L468.1,862.7 L468.4,862.1 L468.8,861.4 L469.2,860.9 L469.6,860.9 L470.0,860.6 L470.3,860.0 L470.7,860.3 L471.1,860.7 L471.5,860.4 L471.9,860.4 L472.2,859.6 L472.6,859.9 L473.0,859.1 L473.4,858.2 L473.8,856.7 L474.1,855.0 L474.5,853.6 L474.9,852.4 L475.3,850.2 L475.7,848.2 L476.0,845.5 L476.4,843.5 L476.8,841.4 L477.2,839.5 L477.6,837.4 L477.9,835.6 L478.3,834.4 L478.7,833.4 L479.1,833.5 L479.5,833.5 L479.8,833.9 L480.2,835.6 L480.6,837.1 L481.0,838.9 L481.4,840.9 L481.7,843.2 L482.1,845.7 L482.5,847.5 L482.9,850.0 L483.3,851.5 L483.6,853.7 L484.0,855.0 L484.4,856.4 L484.8,857.3 L485.2,858.0 L485.5,859.3 L485.9,859.2 L486.3,860.3 L486.7,860.0 L487.0,860.2 L487.4,860.6 L487.8,860.5 L488.2,860.4 L488.6,860.7 L488.9,860.2 L489.3,860.6 L489.7,859.7 L490.1,859.3 L490.5,858.6 L490.8,858.3 L491.2,857.3 L491.6,855.8 L492.0,854.2 L492.4,852.4 L492.7,850.7 L493.1,848.0 L493.5,844.9 L493.9,842.4 L494.3,838.6 L494.6,834.8 L495.0,831.1 L495.4,827.2 L495.8,823.1 L496.2,819.0 L496.5,815.5 L496.9,812.0 L497.3,808.9 L497.7,806.7 L498.1,804.7 L498.4,804.6 L498.8,804.7 L499.2,806.4 L499.6,808.3 L500.0,811.3 L500.3,814.9 L500.7,818.9 L501.1,823.1 L501.5,826.8 L501.9,830.9 L502.2,834.2 L502.6,838.2 L503.0,840.6 L503.4,843.4 L503.8,845.4 L504.1,846.9 L504.5,847.8 L504.9,848.8 L505.3,850.1 L505.6,850.3 L506.0,851.2 L506.4,852.6 L506.8,853.7 L507.2,855.3 L507.5,856.1 L507.9,857.6 L508.3,858.4 L508.7,859.3 L509.1,860.3 L509.4,860.9 L509.8,861.5 L510.2,862.2 L510.6,862.2 L511.0,862.7 L511.3,862.8 L511.7,862.3 L512.1,862.9 L512.5,863.2 L512.9,863.0 L513.2,863.4 L513.6,863.0 L514.0,863.3 L514.4,863.4 L514.8,863.1 L515.1,862.9 L515.5,863.6 L515.9,863.1 L516.3,863.2 L516.7,863.3 L517.0,863.3 L517.4,863.5 L517.8,863.0 L518.2,862.5 L518.6,862.1 L518.9,860.8 L519.3,860.6 L519.7,859.6 L520.1,859.4 L520.5,859.7 L520.8,860.5 L521.2,861.3 L521.6,861.8 L522.0,862.9 L522.4,863.3 L522.7,863.7 L523.1,863.5 L523.5,863.6 L523.9,863.2 L524.2,863.3 L524.6,863.7 L525.0,863.7 L525.4,864.0 L525.8,863.5 L526.1,863.7 L526.5,863.9 L526.9,863.4 L527.3,864.0 L527.7,863.8 L528.0,863.5 L528.4,863.0 L528.8,863.5 L529.2,863.1 L529.6,862.3 L529.9,862.3 L530.3,861.5 L530.7,862.1 L531.1,862.0 L531.5,862.3 L531.8,862.2 L532.2,863.1 L532.6,862.9 L533.0,863.0 L533.4,863.0 L533.7,863.2 L534.1,863.8 L534.5,863.5 L534.9,863.7 L535.3,863.7 L535.6,863.6 L536.0,863.2 L536.4,863.3 L536.8,863.6 L537.2,863.4 L537.5,863.4 L537.9,862.5 L538.3,862.4 L538.7,862.3 L539.1,861.4 L539.4,860.9 L539.8,861.1 L540.2,860.9 L540.6,861.0 L540.9,860.9 L541.3,861.3 L541.7,861.7 L542.1,861.7 L542.5,862.0 L542.8,862.1 L543.2,861.8 L543.6,861.4 L544.0,861.8 L544.4,861.2 L544.7,861.1 L545.1,860.1 L545.5,859.8 L545.9,858.8 L546.3,858.1 L546.6,856.8 L547.0,855.9 L547.4,854.4 L547.8,852.4 L548.2,850.6 L548.5,848.7 L548.9,846.3 L549.3,842.9 L549.7,840.5 L550.1,836.5 L550.4,832.9 L550.8,829.5 L551.2,825.5 L551.6,822.0 L552.0,818.2 L552.3,814.9 L552.7,812.2 L553.1,809.7 L553.5,807.3 L553.9,806.3 L554.2,806.1 L554.6,806.2 L555.0,807.6 L555.4,809.5 L555.8,811.6 L556.1,814.8 L556.5,818.1 L556.9,821.7 L557.3,825.7 L557.7,829.4 L558.0,833.1 L558.4,836.6 L558.8,839.6 L559.2,842.5 L559.5,845.7 L559.9,847.7 L560.3,850.2 L560.7,852.1 L561.1,852.9 L561.4,853.9 L561.8,855.0 L562.2,855.0 L562.6,855.5 L563.0,855.9 L563.3,855.5 L563.7,855.3 L564.1,855.7 L564.5,855.1 L564.9,855.6 L565.2,856.1 L565.6,856.5 L566.0,857.0 L566.4,857.6 L566.8,858.5 L567.1,859.4 L567.5,859.6 L567.9,860.1 L568.3,860.6 L568.7,861.2 L569.0,861.2 L569.4,862.1 L569.8,862.2 L570.2,862.4 L570.6,862.0 L570.9,862.0 L571.3,862.2 L571.7,861.9 L572.1,862.1 L572.5,861.8 L572.8,860.7 L573.2,860.2 L573.6,860.2 L574.0,858.9 L574.4,858.0 L574.7,856.7 L575.1,855.0 L575.5,853.4 L575.9,851.3 L576.3,849.5 L576.6,847.1 L577.0,845.6 L577.4,843.0 L577.8,841.6 L578.1,839.7 L578.5,838.9 L578.9,838.4 L579.3,838.9 L579.7,840.1 L580.0,841.5 L580.4,843.1 L580.8,845.7 L581.2,847.5 L581.6,849.6 L581.9,851.6 L582.3,853.8 L582.7,855.3 L583.1,856.7 L583.5,858.2 L583.8,859.0 L584.2,859.7 L584.6,860.7 L585.0,861.1 L585.4,861.3 L585.7,861.0 L586.1,861.1 L586.5,860.4 L586.9,859.5 L587.3,858.5 L587.6,858.6 L588.0,858.3 L588.4,859.6 L588.8,860.5 L589.2,861.6 L589.5,862.5 L589.9,862.6 L590.3,862.6 L590.7,863.1 L591.1,862.4 L591.4,862.7 L591.8,862.8 L592.2,863.2 L592.6,863.0 L593.0,862.9 L593.3,862.6 L593.7,862.9 L594.1,862.6 L594.5,862.8 L594.9,862.4 L595.2,862.3 L595.6,862.3 L596.0,862.0 L596.4,862.0 L596.7,862.3 L597.1,861.7 L597.5,861.6 L597.9,861.1 L598.3,860.7 L598.6,860.8 L599.0,859.9 L599.4,859.8 L599.8,858.7 L600.2,858.2 L600.5,856.4 L600.9,855.3 L601.3,853.5 L601.7,851.4 L602.1,849.0 L602.4,846.2 L602.8,842.5 L603.2,838.8 L603.6,835.0 L604.0,830.3 L604.3,824.9 L604.7,820.3 L605.1,815.1 L605.5,809.7 L605.9,804.9 L606.2,800.0 L606.6,796.1 L607.0,793.9 L607.4,791.9 L607.8,791.4 L608.1,791.8 L608.5,793.8 L608.9,796.4 L609.3,800.0 L609.7,805.2 L610.0,810.2 L610.4,815.3 L610.8,820.3 L611.2,825.6 L611.6,830.2 L611.9,834.9 L612.3,838.8 L612.7,842.4 L613.1,845.7 L613.4,849.1 L613.8,851.4 L614.2,853.9 L614.6,855.3 L615.0,856.5 L615.3,857.7 L615.7,859.3 L616.1,860.0 L616.5,860.0 L616.9,860.7 L617.2,861.0 L617.6,861.9 L618.0,861.7 L618.4,862.4 L618.8,862.1 L619.1,862.2 L619.5,862.7 L619.9,863.1 L620.3,862.6 L620.7,862.5 L621.0,862.9 L621.4,863.1 L621.8,863.2 L622.2,862.9 L622.6,862.9 L622.9,863.4 L623.3,863.6 L623.7,863.0 L624.1,863.5 L624.5,863.5 L624.8,863.7 L625.2,863.4 L625.6,863.2 L626.0,863.7 L626.4,863.4 L626.7,863.8 L627.1,863.8 L627.5,863.5 L627.9,863.4 L628.3,863.6 L628.6,863.7 L629.0,863.6 L629.4,863.6 L629.8,863.6 L630.2,863.9 L630.5,864.1 L630.9,864.4 L631.3,864.0 L631.7,864.1 L632.0,864.4 L632.4,863.7 L632.8,864.2 L633.2,863.7 L633.6,864.5 L633.9,864.2 L634.3,863.9 L634.7,864.0 L635.1,864.0 L635.5,864.2 L635.8,864.5 L636.2,863.9 L636.6,864.0 L637.0,864.2 L637.4,864.1 L637.7,864.0 L638.1,864.2 L638.5,864.2 L638.9,864.2 L639.3,864.0 L639.6,864.1 L640.0,864.4 L640.4,864.0 L640.8,864.4 L641.2,864.1 L641.5,864.4 L641.9,864.0 L642.3,863.9 L642.7,864.1 L643.1,864.4 L643.4,864.4 L643.8,864.4 L644.2,864.2 L644.6,864.7 L645.0,864.3 L645.3,864.0 L645.7,864.7 L646.1,864.0 L646.5,864.3 L646.9,863.9 L647.2,864.2 L647.6,864.2 L648.0,864.2 L648.4,864.4 L648.8,864.7 L649.1,864.1 L649.5,864.1 L649.9,864.2 L650.3,864.6 L650.6,864.4 L651.0,864.4 L651.4,864.5 L651.8,864.4 L652.2,864.4 L652.5,864.0 L652.9,864.3 L653.3,864.0 L653.7,864.1 L654.1,864.7 L654.4,864.2 L654.8,864.5 L655.2,864.3 L655.6,864.4 L656.0,864.2 L656.3,864.6 L656.7,864.3 L657.1,864.5 L657.5,864.2 L657.9,864.4 L658.2,864.3 L658.6,864.0 L659.0,864.6 L659.4,864.8 L659.8,864.1 L660.1,864.4 L660.5,864.3 L660.9,864.2 L661.3,864.1 L661.7,864.5 L662.0,864.1 L662.4,864.5 L662.8,864.3 L663.2,864.2 L663.6,864.6" fill="none" stroke="#007A12" stroke-width="2.8" stroke-linejoin="round"/>
<path d="M170.1,920.5 L170.5,920.5 L170.9,920.4 L171.2,920.3 L171.6,919.9 L172.0,920.5 L172.4,919.7 L172.8,919.7 L173.1,919.9 L173.5,919.7 L173.9,919.9 L174.3,919.5 L174.7,919.3 L175.0,919.6 L175.4,919.4 L175.8,919.6 L176.2,919.5 L176.6,919.0 L176.9,919.1 L177.3,919.2 L177.7,919.0 L178.1,919.4 L178.5,919.5 L178.8,919.2 L179.2,919.1 L179.6,919.4 L180.0,919.2 L180.3,919.4 L180.7,919.5 L181.1,919.2 L181.5,919.5 L181.9,919.3 L182.2,919.4 L182.6,919.7 L183.0,920.1 L183.4,919.5 L183.8,919.8 L184.1,919.9 L184.5,919.9 L184.9,920.0 L185.3,919.8 L185.7,920.6 L186.0,919.9 L186.4,920.2 L186.8,920.4 L187.2,920.1 L187.6,920.1 L187.9,920.4 L188.3,920.9 L188.7,920.4 L189.1,920.6 L189.5,920.5 L189.8,920.3 L190.2,920.8 L190.6,920.2 L191.0,920.5 L191.4,920.4 L191.7,920.4 L192.1,920.1 L192.5,919.8 L192.9,919.6 L193.3,919.3 L193.6,920.1 L194.0,920.2 L194.4,920.3 L194.8,920.3 L195.2,920.6 L195.5,920.4 L195.9,920.8 L196.3,920.8 L196.7,920.2 L197.1,919.8 L197.4,920.0 L197.8,919.8 L198.2,919.0 L198.6,919.4 L198.9,918.8 L199.3,919.2 L199.7,919.9 L200.1,920.0 L200.5,920.5 L200.8,920.7 L201.2,920.5 L201.6,920.2 L202.0,920.1 L202.4,920.3 L202.7,920.3 L203.1,920.4 L203.5,920.4 L203.9,920.2 L204.3,920.3 L204.6,920.3 L205.0,919.9 L205.4,920.3 L205.8,920.1 L206.2,919.8 L206.5,919.5 L206.9,919.8 L207.3,919.5 L207.7,919.3 L208.1,919.0 L208.4,918.3 L208.8,917.1 L209.2,916.2 L209.6,914.1 L210.0,911.7 L210.3,908.1 L210.7,903.8 L211.1,899.5 L211.5,894.0 L211.9,889.0 L212.2,884.1 L212.6,880.9 L213.0,880.1 L213.4,881.3 L213.8,884.4 L214.1,888.9 L214.5,893.6 L214.9,898.9 L215.3,903.7 L215.6,908.2 L216.0,911.5 L216.4,914.3 L216.8,916.0 L217.2,916.9 L217.5,918.5 L217.9,918.9 L218.3,919.4 L218.7,919.2 L219.1,919.8 L219.4,919.8 L219.8,920.2 L220.2,919.8 L220.6,919.9 L221.0,919.7 L221.3,919.6 L221.7,919.4 L222.1,919.5 L222.5,919.2 L222.9,918.7 L223.2,919.0 L223.6,918.5 L224.0,918.9 L224.4,919.5 L224.8,919.9 L225.1,920.4 L225.5,920.2 L225.9,920.2 L226.3,920.8 L226.7,920.8 L227.0,920.4 L227.4,920.5 L227.8,920.2 L228.2,920.4 L228.6,919.7 L228.9,919.5 L229.3,919.6 L229.7,919.0 L230.1,918.5 L230.5,918.3 L230.8,917.9 L231.2,918.1 L231.6,918.4 L232.0,919.2 L232.4,919.5 L232.7,919.9 L233.1,920.1 L233.5,920.8 L233.9,920.3 L234.2,920.7 L234.6,921.0 L235.0,920.5 L235.4,920.7 L235.8,920.6 L236.1,920.6 L236.5,920.7 L236.9,920.5 L237.3,921.2 L237.7,921.0 L238.0,921.1 L238.4,920.7 L238.8,921.1 L239.2,921.2 L239.6,921.1 L239.9,921.1 L240.3,920.8 L240.7,920.9 L241.1,920.9 L241.5,921.2 L241.8,920.8 L242.2,921.0 L242.6,921.2 L243.0,921.2 L243.4,921.1 L243.7,920.9 L244.1,921.0 L244.5,920.7 L244.9,920.9 L245.3,920.4 L245.6,920.2 L246.0,920.6 L246.4,920.8 L246.8,920.2 L247.2,920.9 L247.5,920.6 L247.9,920.5 L248.3,920.8 L248.7,920.5 L249.1,921.1 L249.4,920.7 L249.8,920.5 L250.2,920.5 L250.6,920.6 L251.0,920.9 L251.3,920.8 L251.7,920.6 L252.1,920.9 L252.5,921.0 L252.8,921.2 L253.2,921.1 L253.6,921.1 L254.0,920.5 L254.4,921.0 L254.7,920.9 L255.1,920.4 L255.5,920.7 L255.9,920.9 L256.3,921.1 L256.6,920.9 L257.0,921.0 L257.4,920.4 L257.8,920.9 L258.2,920.4 L258.5,921.0 L258.9,921.1 L259.3,920.4 L259.7,921.1 L260.1,920.5 L260.4,920.6 L260.8,920.8 L261.2,920.3 L261.6,920.6 L262.0,920.0 L262.3,920.3 L262.7,919.9 L263.1,919.9 L263.5,920.3 L263.9,920.1 L264.2,920.1 L264.6,920.2 L265.0,920.7 L265.4,920.2 L265.8,920.1 L266.1,920.5 L266.5,920.6 L266.9,920.5 L267.3,920.0 L267.7,920.2 L268.0,919.3 L268.4,919.4 L268.8,918.5 L269.2,918.1 L269.5,917.7 L269.9,916.9 L270.3,915.6 L270.7,914.1 L271.1,912.4 L271.4,910.6 L271.8,909.2 L272.2,907.5 L272.6,905.1 L273.0,903.4 L273.3,902.0 L273.7,901.0 L274.1,900.7 L274.5,901.1 L274.9,901.9 L275.2,903.8 L275.6,904.9 L276.0,907.0 L276.4,909.4 L276.8,911.2 L277.1,912.6 L277.5,914.4 L277.9,915.2 L278.3,916.9 L278.7,917.6 L279.0,918.3 L279.4,918.5 L279.8,919.5 L280.2,919.3 L280.6,919.7 L280.9,920.0 L281.3,919.8 L281.7,920.0 L282.1,920.1 L282.5,920.4 L282.8,920.8 L283.2,920.7 L283.6,920.4 L284.0,920.9 L284.4,920.5 L284.7,920.7 L285.1,920.7 L285.5,920.4 L285.9,920.4 L286.3,920.5 L286.6,920.7 L287.0,920.7 L287.4,920.3 L287.8,920.4 L288.1,920.7 L288.5,921.1 L288.9,920.5 L289.3,921.2 L289.7,921.1 L290.0,920.7 L290.4,921.1 L290.8,920.6 L291.2,920.7 L291.6,921.1 L291.9,920.5 L292.3,920.4 L292.7,920.7 L293.1,920.5 L293.5,920.6 L293.8,920.9 L294.2,920.6 L294.6,920.5 L295.0,920.7 L295.4,921.2 L295.7,921.0 L296.1,920.7 L296.5,921.0 L296.9,921.2 L297.3,920.9 L297.6,921.2 L298.0,920.9 L298.4,921.2 L298.8,920.7 L299.2,921.1 L299.5,920.5 L299.9,921.2 L300.3,920.8 L300.7,920.8 L301.1,921.1 L301.4,920.8 L301.8,920.9 L302.2,920.8 L302.6,921.2 L303.0,920.9 L303.3,920.6 L303.7,920.8 L304.1,921.1 L304.5,921.0 L304.9,920.6 L305.2,921.3 L305.6,920.9 L306.0,920.9 L306.4,921.0 L306.7,921.3 L307.1,921.2 L307.5,920.6 L307.9,921.0 L308.3,921.1 L308.6,921.0 L309.0,921.3 L309.4,921.3 L309.8,920.7 L310.2,920.7 L310.5,921.2 L310.9,921.1 L311.3,921.3 L311.7,921.1 L312.1,920.9 L312.4,920.7 L312.8,920.9 L313.2,920.6 L313.6,920.5 L314.0,920.9 L314.3,921.3 L314.7,921.2 L315.1,920.8 L315.5,921.2 L315.9,920.6 L316.2,921.3 L316.6,921.3 L317.0,920.5 L317.4,921.0 L317.8,920.9 L318.1,920.8 L318.5,921.2 L318.9,921.0 L319.3,921.0 L319.7,920.7 L320.0,920.7 L320.4,920.7 L320.8,921.2 L321.2,920.9 L321.6,920.6 L321.9,921.1 L322.3,921.0 L322.7,920.8 L323.1,920.5 L323.5,921.2 L323.8,920.7 L324.2,920.9 L324.6,920.8 L325.0,920.6 L325.3,921.2 L325.7,920.7 L326.1,921.0 L326.5,920.6 L326.9,920.6 L327.2,920.8 L327.6,921.0 L328.0,920.4 L328.4,920.4 L328.8,920.4 L329.1,920.2 L329.5,919.9 L329.9,920.3 L330.3,919.7 L330.7,919.4 L331.0,919.6 L331.4,918.8 L331.8,919.0 L332.2,918.2 L332.6,918.2 L332.9,917.6 L333.3,917.4 L333.7,917.3 L334.1,917.5 L334.5,917.3 L334.8,917.3 L335.2,917.2 L335.6,917.8 L336.0,917.6 L336.4,918.4 L336.7,918.5 L337.1,919.1 L337.5,919.4 L337.9,919.6 L338.3,920.0 L338.6,919.8 L339.0,920.0 L339.4,920.3 L339.8,920.1 L340.2,920.4 L340.5,920.4 L340.9,921.0 L341.3,920.8 L341.7,921.1 L342.0,921.0 L342.4,920.5 L342.8,921.1 L343.2,920.7 L343.6,920.9 L343.9,920.7 L344.3,920.5 L344.7,920.6 L345.1,920.5 L345.5,920.5 L345.8,920.9 L346.2,920.5 L346.6,920.6 L347.0,921.0 L347.4,921.0 L347.7,920.8 L348.1,920.6 L348.5,921.2 L348.9,920.6 L349.3,920.7 L349.6,920.8 L350.0,920.9 L350.4,921.0 L350.8,920.9 L351.2,920.7 L351.5,920.9 L351.9,920.7 L352.3,920.5 L352.7,921.2 L353.1,921.2 L353.4,920.5 L353.8,921.0 L354.2,920.5 L354.6,920.8 L355.0,921.0 L355.3,921.1 L355.7,920.8 L356.1,920.6 L356.5,921.0 L356.9,921.0 L357.2,920.7 L357.6,920.2 L358.0,920.2 L358.4,920.6 L358.8,920.4 L359.1,920.3 L359.5,920.0 L359.9,920.3 L360.3,920.2 L360.6,920.0 L361.0,920.1 L361.4,919.9 L361.8,919.5 L362.2,919.7 L362.5,920.0 L362.9,919.7 L363.3,919.4 L363.7,919.7 L364.1,919.5 L364.4,919.4 L364.8,919.6 L365.2,919.7 L365.6,919.2 L366.0,919.9 L366.3,919.3 L366.7,920.0 L367.1,919.7 L367.5,919.8 L367.9,919.9 L368.2,919.9 L368.6,919.7 L369.0,920.3 L369.4,920.5 L369.8,920.5 L370.1,920.0 L370.5,920.3 L370.9,920.2 L371.3,920.6 L371.7,920.7 L372.0,920.4 L372.4,920.6 L372.8,920.3 L373.2,921.0 L373.6,920.8 L373.9,920.6 L374.3,920.4 L374.7,920.8 L375.1,920.6 L375.5,921.1 L375.8,920.7 L376.2,921.0 L376.6,920.7 L377.0,921.0 L377.4,921.1 L377.7,921.0 L378.1,920.7 L378.5,920.7 L378.9,920.5 L379.2,920.9 L379.6,921.2 L380.0,920.6 L380.4,921.0 L380.8,920.7 L381.1,920.9 L381.5,920.9 L381.9,921.2 L382.3,921.1 L382.7,920.6 L383.0,920.9 L383.4,920.5 L383.8,920.6 L384.2,920.8 L384.6,920.4 L384.9,921.2 L385.3,920.9 L385.7,920.8 L386.1,921.2 L386.5,920.5 L386.8,921.1 L387.2,920.7 L387.6,921.0 L388.0,920.9 L388.4,920.8 L388.7,920.9 L389.1,920.9 L389.5,920.5 L389.9,920.5 L390.3,920.8 L390.6,919.9 L391.0,920.5 L391.4,920.1 L391.8,919.8 L392.2,919.4 L392.5,919.0 L392.9,918.4 L393.3,918.7 L393.7,918.2 L394.1,918.0 L394.4,918.4 L394.8,918.5 L395.2,918.7 L395.6,918.6 L396.0,919.0 L396.3,919.6 L396.7,920.2 L397.1,920.1 L397.5,919.9 L397.8,920.4 L398.2,920.5 L398.6,920.3 L399.0,920.8 L399.4,920.3 L399.7,920.3 L400.1,920.7 L400.5,920.4 L400.9,920.0 L401.3,920.4 L401.6,920.0 L402.0,920.0 L402.4,919.7 L402.8,919.5 L403.2,919.3 L403.5,918.5 L403.9,918.2 L404.3,917.5 L404.7,917.6 L405.1,916.9 L405.4,916.4 L405.8,915.4 L406.2,915.3 L406.6,914.5 L407.0,914.4 L407.3,913.8 L407.7,913.8 L408.1,913.2 L408.5,913.7 L408.9,913.4 L409.2,914.1 L409.6,914.7 L410.0,915.1 L410.4,915.3 L410.8,916.1 L411.1,916.6 L411.5,917.3 L411.9,917.8 L412.3,918.6 L412.7,918.4 L413.0,918.9 L413.4,919.2 L413.8,919.7 L414.2,919.6 L414.5,919.9 L414.9,920.2 L415.3,919.7 L415.7,920.0 L416.1,920.1 L416.4,920.0 L416.8,920.1 L417.2,920.4 L417.6,919.9 L418.0,919.9 L418.3,920.1 L418.7,920.3 L419.1,920.2 L419.5,920.5 L419.9,919.7 L420.2,919.7 L420.6,919.8 L421.0,919.7 L421.4,919.3 L421.8,919.7 L422.1,919.1 L422.5,918.9 L422.9,918.3 L423.3,918.1 L423.7,917.4 L424.0,916.7 L424.4,916.5 L424.8,916.0 L425.2,915.4 L425.6,914.0 L425.9,913.5 L426.3,912.8 L426.7,912.3 L427.1,911.5 L427.5,910.9 L427.8,909.5 L428.2,909.6 L428.6,909.0 L429.0,908.6 L429.4,908.4 L429.7,908.8 L430.1,908.7 L430.5,909.1 L430.9,909.3 L431.3,910.7 L431.6,911.2 L432.0,912.0 L432.4,912.5 L432.8,913.2 L433.1,913.9 L433.5,913.7 L433.9,914.5 L434.3,914.4 L434.7,914.5 L435.0,914.7 L435.4,915.5 L435.8,915.4 L436.2,915.6 L436.6,916.4 L436.9,917.0 L437.3,917.8 L437.7,918.0 L438.1,918.7 L438.5,919.3 L438.8,919.5 L439.2,919.8 L439.6,920.2 L440.0,920.0 L440.4,919.9 L440.7,920.1 L441.1,920.7 L441.5,920.4 L441.9,920.2 L442.3,920.7 L442.6,920.4 L443.0,920.3 L443.4,920.4 L443.8,920.6 L444.2,920.8 L444.5,920.3 L444.9,920.6 L445.3,920.1 L445.7,920.0 L446.1,919.6 L446.4,919.9 L446.8,919.0 L447.2,919.1 L447.6,919.1 L448.0,919.9 L448.3,919.7 L448.7,920.2 L449.1,920.1 L449.5,920.3 L449.9,920.6 L450.2,920.2 L450.6,920.6 L451.0,920.6 L451.4,920.4 L451.7,920.9 L452.1,920.3 L452.5,920.8 L452.9,920.3 L453.3,920.9 L453.6,920.9 L454.0,920.6 L454.4,920.8 L454.8,920.7 L455.2,920.9 L455.5,920.5 L455.9,920.4 L456.3,920.5 L456.7,920.9 L457.1,921.0 L457.4,920.5 L457.8,920.9 L458.2,920.4 L458.6,920.5 L459.0,920.2 L459.3,920.3 L459.7,920.4 L460.1,920.2 L460.5,920.3 L460.9,920.4 L461.2,920.4 L461.6,919.7 L462.0,919.6 L462.4,919.4 L462.8,919.4 L463.1,919.4 L463.5,919.0 L463.9,919.6 L464.3,919.9 L464.7,919.4 L465.0,919.7 L465.4,919.7 L465.8,919.7 L466.2,920.2 L466.6,920.4 L466.9,920.1 L467.3,920.0 L467.7,919.9 L468.1,919.4 L468.4,919.5 L468.8,918.6 L469.2,918.9 L469.6,918.6 L470.0,918.0 L470.3,918.4 L470.7,918.1 L471.1,918.6 L471.5,918.6 L471.9,918.5 L472.2,918.5 L472.6,917.8 L473.0,917.3 L473.4,916.8 L473.8,916.8 L474.1,916.2 L474.5,915.0 L474.9,913.8 L475.3,912.9 L475.7,911.4 L476.0,910.1 L476.4,909.1 L476.8,908.2 L477.2,906.9 L477.6,906.1 L477.9,904.9 L478.3,903.8 L478.7,903.7 L479.1,903.7 L479.5,903.5 L479.8,903.7 L480.2,904.6 L480.6,905.9 L481.0,906.7 L481.4,908.0 L481.7,908.8 L482.1,910.3 L482.5,911.5 L482.9,912.3 L483.3,913.8 L483.6,914.6 L484.0,915.0 L484.4,916.3 L484.8,916.7 L485.2,917.1 L485.5,917.8 L485.9,917.9 L486.3,918.3 L486.7,918.2 L487.0,918.5 L487.4,918.4 L487.8,918.6 L488.2,918.4 L488.6,918.6 L488.9,918.7 L489.3,918.3 L489.7,918.1 L490.1,918.0 L490.5,917.0 L490.8,916.6 L491.2,916.0 L491.6,915.0 L492.0,914.5 L492.4,913.2 L492.7,911.4 L493.1,910.3 L493.5,907.8 L493.9,906.0 L494.3,903.3 L494.6,900.9 L495.0,898.6 L495.4,895.9 L495.8,893.1 L496.2,890.1 L496.5,887.7 L496.9,885.2 L497.3,882.9 L497.7,881.6 L498.1,880.8 L498.4,880.3 L498.8,880.8 L499.2,881.7 L499.6,883.4 L500.0,884.9 L500.3,887.2 L500.7,890.1 L501.1,892.8 L501.5,895.9 L501.9,898.2 L502.2,900.4 L502.6,903.2 L503.0,904.7 L503.4,906.9 L503.8,907.9 L504.1,909.4 L504.5,910.0 L504.9,910.5 L505.3,911.6 L505.6,911.5 L506.0,912.3 L506.4,913.2 L506.8,914.0 L507.2,914.6 L507.5,915.3 L507.9,916.6 L508.3,917.4 L508.7,917.9 L509.1,918.1 L509.4,918.7 L509.8,918.7 L510.2,919.0 L510.6,919.5 L511.0,919.5 L511.3,919.9 L511.7,919.6 L512.1,919.7 L512.5,920.1 L512.9,919.8 L513.2,920.2 L513.6,919.6 L514.0,920.0 L514.4,919.7 L514.8,919.9 L515.1,920.3 L515.5,919.9 L515.9,920.0 L516.3,920.2 L516.7,920.0 L517.0,919.9 L517.4,919.9 L517.8,920.1 L518.2,919.2 L518.6,918.9 L518.9,918.8 L519.3,918.0 L519.7,917.5 L520.1,917.9 L520.5,918.2 L520.8,918.5 L521.2,918.9 L521.6,919.6 L522.0,919.9 L522.4,919.8 L522.7,920.5 L523.1,920.2 L523.5,920.4 L523.9,920.2 L524.2,920.6 L524.6,920.4 L525.0,920.6 L525.4,920.8 L525.8,920.1 L526.1,920.5 L526.5,920.6 L526.9,920.0 L527.3,920.5 L527.7,920.3 L528.0,920.6 L528.4,920.3 L528.8,919.8 L529.2,919.6 L529.6,919.4 L529.9,919.1 L530.3,919.4 L530.7,919.5 L531.1,919.5 L531.5,919.3 L531.8,919.6 L532.2,920.0 L532.6,919.9 L533.0,920.4 L533.4,920.1 L533.7,920.3 L534.1,920.6 L534.5,920.1 L534.9,920.5 L535.3,920.0 L535.6,920.0 L536.0,920.3 L536.4,920.2 L536.8,920.4 L537.2,920.4 L537.5,919.9 L537.9,920.0 L538.3,919.7 L538.7,919.6 L539.1,919.4 L539.4,919.1 L539.8,918.4 L540.2,918.5 L540.6,918.8 L540.9,918.4 L541.3,919.2 L541.7,919.4 L542.1,919.6 L542.5,919.3 L542.8,919.1 L543.2,919.7 L543.6,918.8 L544.0,918.9 L544.4,918.6 L544.7,918.7 L545.1,918.4 L545.5,918.3 L545.9,917.7 L546.3,916.7 L546.6,916.5 L547.0,915.2 L547.4,914.3 L547.8,913.2 L548.2,912.6 L548.5,910.9 L548.9,909.0 L549.3,907.7 L549.7,905.8 L550.1,903.8 L550.4,901.2 L550.8,898.9 L551.2,896.8 L551.6,894.4 L552.0,891.8 L552.3,890.0 L552.7,887.6 L553.1,885.9 L553.5,885.0 L553.9,884.5 L554.2,883.8 L554.6,884.3 L555.0,885.2 L555.4,886.0 L555.8,887.7 L556.1,889.8 L556.5,892.0 L556.9,893.9 L557.3,896.1 L557.7,898.9 L558.0,901.0 L558.4,903.5 L558.8,905.4 L559.2,907.2 L559.5,909.1 L559.9,910.4 L560.3,911.7 L560.7,913.2 L561.1,914.0 L561.4,914.4 L561.8,915.1 L562.2,915.1 L562.6,915.2 L563.0,915.2 L563.3,915.0 L563.7,915.1 L564.1,914.9 L564.5,915.4 L564.9,914.9 L565.2,915.1 L565.6,915.6 L566.0,915.8 L566.4,916.5 L566.8,917.1 L567.1,917.8 L567.5,917.9 L567.9,918.1 L568.3,918.4 L568.7,918.6 L569.0,919.1 L569.4,918.9 L569.8,919.5 L570.2,919.9 L570.6,919.6 L570.9,919.5 L571.3,919.3 L571.7,919.7 L572.1,919.8 L572.5,919.1 L572.8,919.4 L573.2,918.7 L573.6,918.6 L574.0,918.6 L574.4,917.8 L574.7,917.0 L575.1,916.8 L575.5,915.5 L575.9,915.3 L576.3,914.3 L576.6,913.0 L577.0,912.0 L577.4,911.1 L577.8,910.1 L578.1,910.0 L578.5,909.7 L578.9,909.2 L579.3,909.5 L579.7,909.9 L580.0,910.5 L580.4,910.9 L580.8,912.3 L581.2,913.0 L581.6,914.1 L581.9,915.2 L582.3,915.6 L582.7,916.9 L583.1,917.5 L583.5,918.2 L583.8,918.2 L584.2,918.6 L584.6,919.1 L585.0,919.5 L585.4,919.2 L585.7,919.3 L586.1,918.8 L586.5,918.3 L586.9,918.2 L587.3,917.6 L587.6,916.8 L588.0,917.0 L588.4,918.2 L588.8,918.8 L589.2,919.2 L589.5,919.3 L589.9,919.9 L590.3,919.5 L590.7,920.3 L591.1,919.6 L591.4,920.3 L591.8,919.9 L592.2,919.6 L592.6,919.7 L593.0,919.6 L593.3,920.0 L593.7,919.5 L594.1,919.5 L594.5,920.0 L594.9,919.5 L595.2,919.4 L595.6,919.9 L596.0,919.7 L596.4,919.3 L596.7,919.3 L597.1,919.0 L597.5,919.2 L597.9,919.0 L598.3,919.1 L598.6,918.8 L599.0,918.0 L599.4,918.1 L599.8,917.1 L600.2,916.6 L600.5,916.1 L600.9,915.4 L601.3,914.5 L601.7,913.1 L602.1,911.0 L602.4,909.1 L602.8,907.1 L603.2,905.3 L603.6,902.1 L604.0,899.7 L604.3,896.7 L604.7,893.1 L605.1,890.0 L605.5,886.9 L605.9,884.2 L606.2,881.5 L606.6,879.1 L607.0,877.2 L607.4,876.1 L607.8,875.4 L608.1,876.0 L608.5,877.3 L608.9,878.6 L609.3,881.3 L609.7,884.4 L610.0,887.5 L610.4,890.2 L610.8,893.9 L611.2,896.6 L611.6,900.1 L611.9,902.6 L612.3,905.0 L612.7,907.5 L613.1,909.8 L613.4,911.1 L613.8,912.5 L614.2,914.0 L614.6,915.0 L615.0,915.8 L615.3,917.0 L615.7,917.5 L616.1,918.1 L616.5,918.2 L616.9,919.0 L617.2,919.2 L617.6,919.2 L618.0,919.3 L618.4,919.0 L618.8,919.7 L619.1,920.0 L619.5,919.8 L619.9,919.5 L620.3,920.2 L620.7,919.9 L621.0,919.9 L621.4,919.8 L621.8,920.2 L622.2,920.0 L622.6,919.8 L622.9,919.8 L623.3,920.2 L623.7,920.4 L624.1,920.2 L624.5,920.1 L624.8,920.2 L625.2,920.2 L625.6,920.5 L626.0,920.2 L626.4,920.6 L626.7,920.7 L627.1,920.8 L627.5,920.5 L627.9,920.8 L628.3,920.7 L628.6,920.7 L629.0,920.7 L629.4,920.6 L629.8,920.2 L630.2,920.6 L630.5,920.6 L630.9,920.7 L631.3,920.6 L631.7,920.4 L632.0,920.6 L632.4,920.6 L632.8,920.8 L633.2,920.9 L633.6,920.9 L633.9,921.0 L634.3,920.9 L634.7,921.1 L635.1,920.8 L635.5,920.7 L635.8,921.0 L636.2,920.5 L636.6,920.8 L637.0,920.6 L637.4,920.8 L637.7,920.5 L638.1,920.6 L638.5,921.1 L638.9,920.7 L639.3,921.0 L639.6,920.6 L640.0,920.9 L640.4,921.0 L640.8,921.2 L641.2,920.4 L641.5,921.1 L641.9,921.0 L642.3,920.5 L642.7,921.2 L643.1,920.9 L643.4,920.9 L643.8,920.7 L644.2,920.6 L644.6,920.4 L645.0,921.0 L645.3,921.2 L645.7,921.1 L646.1,921.2 L646.5,921.0 L646.9,920.7 L647.2,920.5 L647.6,921.2 L648.0,921.0 L648.4,920.5 L648.8,920.8 L649.1,920.9 L649.5,921.2 L649.9,921.2 L650.3,921.1 L650.6,920.8 L651.0,921.2 L651.4,920.9 L651.8,920.6 L652.2,921.3 L652.5,921.0 L652.9,920.9 L653.3,920.8 L653.7,920.7 L654.1,920.7 L654.4,920.9 L654.8,921.0 L655.2,920.8 L655.6,920.9 L656.0,920.5 L656.3,920.9 L656.7,920.8 L657.1,920.8 L657.5,920.9 L657.9,920.9 L658.2,920.8 L658.6,920.8 L659.0,920.5 L659.4,921.1 L659.8,920.9 L660.1,920.5 L660.5,920.7 L660.9,920.9 L661.3,921.1 L661.7,921.2 L662.0,921.0 L662.4,921.0 L662.8,921.0 L663.2,921.1 L663.6,920.9" fill="none" stroke="#0A84FF" stroke-width="2.8" stroke-linejoin="round"/>
<rect x="170.8" y="523.0" width="493.09999999999997" height="404.79999999999995" fill="none" stroke="#000" stroke-width="2.6"/>
<line x1="163.4" y1="927.6" x2="170.8" y2="927.6" stroke="#000" stroke-width="2.4"/>
<text x="157.0" y="935.6" font-size="25" text-anchor="end" font-family="Liberation Serif" font-weight="bold" >0.0</text>
<line x1="163.4" y1="869.8" x2="170.8" y2="869.8" stroke="#000" stroke-width="2.4"/>
<g transform="translate(157.5,877.8) scale(1.03,1)"><text x="0" y="0" font-size="24" text-anchor="end" font-family="Liberation Serif" font-weight="bold">2.0×10<tspan font-size="16" dy="-9">4</tspan></text></g>
<line x1="163.4" y1="812.0" x2="170.8" y2="812.0" stroke="#000" stroke-width="2.4"/>
<g transform="translate(157.5,820.0) scale(1.03,1)"><text x="0" y="0" font-size="24" text-anchor="end" font-family="Liberation Serif" font-weight="bold">4.0×10<tspan font-size="16" dy="-9">4</tspan></text></g>
<line x1="163.4" y1="754.2" x2="170.8" y2="754.2" stroke="#000" stroke-width="2.4"/>
<g transform="translate(157.5,762.2) scale(1.03,1)"><text x="0" y="0" font-size="24" text-anchor="end" font-family="Liberation Serif" font-weight="bold">6.0×10<tspan font-size="16" dy="-9">4</tspan></text></g>
<line x1="163.4" y1="696.4" x2="170.8" y2="696.4" stroke="#000" stroke-width="2.4"/>
<g transform="translate(157.5,704.4) scale(1.03,1)"><text x="0" y="0" font-size="24" text-anchor="end" font-family="Liberation Serif" font-weight="bold">8.0×10<tspan font-size="16" dy="-9">4</tspan></text></g>
<line x1="163.4" y1="638.6" x2="170.8" y2="638.6" stroke="#000" stroke-width="2.4"/>
<g transform="translate(157.5,646.6) scale(1.03,1)"><text x="0" y="0" font-size="24" text-anchor="end" font-family="Liberation Serif" font-weight="bold">1.0×10<tspan font-size="16" dy="-9">5</tspan></text></g>
<line x1="163.4" y1="580.8" x2="170.8" y2="580.8" stroke="#000" stroke-width="2.4"/>
<g transform="translate(157.5,588.8) scale(1.03,1)"><text x="0" y="0" font-size="24" text-anchor="end" font-family="Liberation Serif" font-weight="bold">1.2×10<tspan font-size="16" dy="-9">5</tspan></text></g>
<line x1="163.4" y1="523.0" x2="170.8" y2="523.0" stroke="#000" stroke-width="2.4"/>
<g transform="translate(157.5,531.0) scale(1.03,1)"><text x="0" y="0" font-size="24" text-anchor="end" font-family="Liberation Serif" font-weight="bold">1.4×10<tspan font-size="16" dy="-9">5</tspan></text></g>
<line x1="208.1" y1="927.8" x2="208.1" y2="935.5" stroke="#000" stroke-width="2.4"/>
<text x="208.1" y="960.3" font-size="24" text-anchor="middle" font-family="Liberation Serif" font-weight="bold" >600</text>
<line x1="284.0" y1="927.8" x2="284.0" y2="935.5" stroke="#000" stroke-width="2.4"/>
<text x="284.0" y="960.3" font-size="24" text-anchor="middle" font-family="Liberation Serif" font-weight="bold" >800</text>
<line x1="359.9" y1="927.8" x2="359.9" y2="935.5" stroke="#000" stroke-width="2.4"/>
<text x="359.9" y="960.3" font-size="24" text-anchor="middle" font-family="Liberation Serif" font-weight="bold" >1000</text>
<line x1="435.8" y1="927.8" x2="435.8" y2="935.5" stroke="#000" stroke-width="2.4"/>
<text x="435.8" y="960.3" font-size="24" text-anchor="middle" font-family="Liberation Serif" font-weight="bold" >1200</text>
<line x1="511.7" y1="927.8" x2="511.7" y2="935.5" stroke="#000" stroke-width="2.4"/>
<text x="511.7" y="960.3" font-size="24" text-anchor="middle" font-family="Liberation Serif" font-weight="bold" >1400</text>
<line x1="587.6" y1="927.8" x2="587.6" y2="935.5" stroke="#000" stroke-width="2.4"/>
<text x="587.6" y="960.3" font-size="24" text-anchor="middle" font-family="Liberation Serif" font-weight="bold" >1600</text>
<line x1="663.6" y1="927.8" x2="663.6" y2="935.5" stroke="#000" stroke-width="2.4"/>
<text x="663.6" y="960.3" font-size="24" text-anchor="middle" font-family="Liberation Serif" font-weight="bold" >1800</text>
<text x="344.0" y="557.4" font-size="24" text-anchor="start" font-family="Liberation Serif" font-weight="bold" >20min</text>
<text x="344.0" y="626.2" font-size="24" text-anchor="start" font-family="Liberation Serif" font-weight="bold" >16min</text>
<text x="344.0" y="728.3" font-size="24" text-anchor="start" font-family="Liberation Serif" font-weight="bold" >12min</text>
<text x="344.0" y="829.2" font-size="24" text-anchor="start" font-family="Liberation Serif" font-weight="bold" >8min</text>
<text x="344.0" y="909.5" font-size="24" text-anchor="start" font-family="Liberation Serif" font-weight="bold" >4min</text>
<g transform="translate(284.02,1014.50) scale(0.3380,0.3370)"><text x="0" y="0" font-size="100" font-family="Liberation Serif" font-weight="bold" >Raman Shift(cm<tspan font-size="64" dy="-40">-1</tspan><tspan dy="40">)</tspan></text></g>
<g transform="translate(69.00,827.83) rotate(-90) scale(0.3433,0.3450)"><text x="0" y="0" font-size="100" font-family="Liberation Serif" font-weight="bold">Intensity(a.u.)</text></g>
<g transform="translate(0.81,543.00) scale(0.4180,0.4190)"><text x="0" y="0" font-size="100" font-family="Liberation Sans" font-weight="bold" >(c)</text></g>
<rect x="832.3" y="514.3" width="491.5" height="415.9000000000001" fill="none" stroke="#000" stroke-width="2"/>
<line x1="825.3" y1="930.2" x2="832.3" y2="930.2" stroke="#000" stroke-width="2"/>
<g transform="translate(818.8,939.7) scale(1.02,1)"><text x="0" y="0" font-size="24" text-anchor="end" font-family="Liberation Serif" font-weight="bold">5.0×10<tspan font-size="16" dy="-9">3</tspan></text></g>
<line x1="825.3" y1="870.8" x2="832.3" y2="870.8" stroke="#000" stroke-width="2"/>
<g transform="translate(818.8,880.3) scale(1.02,1)"><text x="0" y="0" font-size="24" text-anchor="end" font-family="Liberation Serif" font-weight="bold">1.0×10<tspan font-size="16" dy="-9">4</tspan></text></g>
<line x1="825.3" y1="811.4" x2="832.3" y2="811.4" stroke="#000" stroke-width="2"/>
<g transform="translate(818.8,820.9) scale(1.02,1)"><text x="0" y="0" font-size="24" text-anchor="end" font-family="Liberation Serif" font-weight="bold">1.5×10<tspan font-size="16" dy="-9">4</tspan></text></g>
<line x1="825.3" y1="751.9" x2="832.3" y2="751.9" stroke="#000" stroke-width="2"/>
<g transform="translate(818.8,761.4) scale(1.02,1)"><text x="0" y="0" font-size="24" text-anchor="end" font-family="Liberation Serif" font-weight="bold">2.0×10<tspan font-size="16" dy="-9">4</tspan></text></g>
<line x1="825.3" y1="692.5" x2="832.3" y2="692.5" stroke="#000" stroke-width="2"/>
<g transform="translate(818.8,702.0) scale(1.02,1)"><text x="0" y="0" font-size="24" text-anchor="end" font-family="Liberation Serif" font-weight="bold">2.5×10<tspan font-size="16" dy="-9">4</tspan></text></g>
<line x1="825.3" y1="633.1" x2="832.3" y2="633.1" stroke="#000" stroke-width="2"/>
<g transform="translate(818.8,642.6) scale(1.02,1)"><text x="0" y="0" font-size="24" text-anchor="end" font-family="Liberation Serif" font-weight="bold">3.0×10<tspan font-size="16" dy="-9">4</tspan></text></g>
<line x1="825.3" y1="573.7" x2="832.3" y2="573.7" stroke="#000" stroke-width="2"/>
<g transform="translate(818.8,583.2) scale(1.02,1)"><text x="0" y="0" font-size="24" text-anchor="end" font-family="Liberation Serif" font-weight="bold">3.5×10<tspan font-size="16" dy="-9">4</tspan></text></g>
<line x1="825.3" y1="514.3" x2="832.3" y2="514.3" stroke="#000" stroke-width="2"/>
<g transform="translate(818.8,523.8) scale(1.02,1)"><text x="0" y="0" font-size="24" text-anchor="end" font-family="Liberation Serif" font-weight="bold">4.0×10<tspan font-size="16" dy="-9">4</tspan></text></g>
<line x1="860.2" y1="930.2" x2="860.2" y2="938" stroke="#000" stroke-width="2"/>
<text x="860.2" y="964.0" font-size="24" text-anchor="middle" font-family="Liberation Serif" font-weight="bold" >4</text>
<line x1="969.2" y1="930.2" x2="969.2" y2="938" stroke="#000" stroke-width="2"/>
<text x="969.2" y="964.0" font-size="24" text-anchor="middle" font-family="Liberation Serif" font-weight="bold" >8</text>
<line x1="1078.2" y1="930.2" x2="1078.2" y2="938" stroke="#000" stroke-width="2"/>
<text x="1078.2" y="964.0" font-size="24" text-anchor="middle" font-family="Liberation Serif" font-weight="bold" >12</text>
<line x1="1187.3" y1="930.2" x2="1187.3" y2="938" stroke="#000" stroke-width="2"/>
<text x="1187.3" y="964.0" font-size="24" text-anchor="middle" font-family="Liberation Serif" font-weight="bold" >16</text>
<line x1="1296.3" y1="930.2" x2="1296.3" y2="938" stroke="#000" stroke-width="2"/>
<text x="1296.3" y="964.0" font-size="24" text-anchor="middle" font-family="Liberation Serif" font-weight="bold" >20</text>
<g transform="translate(905.06,1013.50) scale(0.3350,0.3450)"><text x="0" y="0" font-size="100" font-family="Liberation Serif" font-weight="bold" >Ag deposition time(min)</text></g>
<g transform="translate(730.50,826.65) rotate(-90) scale(0.3516,0.3380)"><text x="0" y="0" font-size="100" font-family="Liberation Serif" font-weight="bold">Intensity(a.u.)</text></g>
<g transform="translate(674.62,543.00) scale(0.4160,0.4190)"><text x="0" y="0" font-size="100" font-family="Liberation Sans" font-weight="bold" >(d)</text></g>
<path d="M860.2,902.3 L969.2,852.9 L1078.2,803.0 L1187.3,893.0 L1296.3,915.3" fill="none" stroke="#E2005C" stroke-width="2.7"/>
<path d="M860.2,817.4 L969.2,720.4 L1078.2,597.7 L1187.3,745.6 L1296.3,832.6" fill="none" stroke="#0A84FF" stroke-width="2.7"/>
<path d="M860.2,795.2 L969.2,678.3 L1078.2,574.3 L1187.3,710.9 L1296.3,829.5" fill="none" stroke="#FF8300" stroke-width="2.7"/>
<path d="M854.0,898.4 H866.4 M860.2,898.4 V907.0 M854.0,907.0 H866.4" stroke="#E2005C" stroke-width="2.6" stroke-linecap="round" fill="none"/>
<circle cx="860.2" cy="902.3" r="4.5" fill="#E2005C"/>
<path d="M963.0,847.0 H975.4 M969.2,847.0 V860.3 M963.0,860.3 H975.4" stroke="#E2005C" stroke-width="2.6" stroke-linecap="round" fill="none"/>
<circle cx="969.2" cy="852.9" r="4.5" fill="#E2005C"/>
<path d="M1072.0,794.0 H1084.5 M1078.2,794.0 V812.7 M1072.0,812.7 H1084.5" stroke="#E2005C" stroke-width="2.6" stroke-linecap="round" fill="none"/>
<circle cx="1078.2" cy="803.0" r="4.5" fill="#E2005C"/>
<path d="M1181.1,888.0 H1193.5 M1187.3,888.0 V898.0 M1181.1,898.0 H1193.5" stroke="#E2005C" stroke-width="2.6" stroke-linecap="round" fill="none"/>
<circle cx="1187.3" cy="893.0" r="4.5" fill="#E2005C"/>
<path d="M1290.1,910.6 H1302.5 M1296.3,910.6 V919.2 M1290.1,919.2 H1302.5" stroke="#E2005C" stroke-width="2.6" stroke-linecap="round" fill="none"/>
<circle cx="1296.3" cy="915.3" r="4.5" fill="#E2005C"/>
<path d="M854.0,809.6 H866.4 M860.2,809.6 V826.4 M854.0,826.4 H866.4" stroke="#0A84FF" stroke-width="2.6" stroke-linecap="round" fill="none"/>
<rect x="856.2" y="813.2" width="8.0" height="8.4" fill="#0A84FF"/>
<path d="M963.0,707.5 H975.4 M969.2,707.5 V733.6 M963.0,733.6 H975.4" stroke="#0A84FF" stroke-width="2.6" stroke-linecap="round" fill="none"/>
<rect x="965.2" y="716.2" width="8.0" height="8.4" fill="#0A84FF"/>
<path d="M1072.0,577.0 H1084.5 M1078.2,577.0 V616.8 M1072.0,616.8 H1084.5" stroke="#0A84FF" stroke-width="2.6" stroke-linecap="round" fill="none"/>
<rect x="1074.2" y="593.5" width="8.0" height="8.4" fill="#0A84FF"/>
<path d="M1181.1,733.9 H1193.5 M1187.3,733.9 V758.5 M1181.1,758.5 H1193.5" stroke="#0A84FF" stroke-width="2.6" stroke-linecap="round" fill="none"/>
<rect x="1183.3" y="741.4" width="8.0" height="8.4" fill="#0A84FF"/>
<path d="M1290.1,826.7 H1302.5 M1296.3,826.7 V842.3 M1290.1,842.3 H1302.5" stroke="#0A84FF" stroke-width="2.6" stroke-linecap="round" fill="none"/>
<rect x="1292.3" y="828.4" width="8.0" height="8.4" fill="#0A84FF"/>
<path d="M854.0,786.6 H866.4 M860.2,786.6 V806.9 M854.0,806.9 H866.4" stroke="#FF8300" stroke-width="2.6" stroke-linecap="round" fill="none"/>
<path d="M860.2,790.0 L864.8,798.8 L855.6,798.8Z" fill="#FF8300"/>
<path d="M963.0,663.9 H975.4 M969.2,663.9 V693.9 M963.0,693.9 H975.4" stroke="#FF8300" stroke-width="2.6" stroke-linecap="round" fill="none"/>
<path d="M969.2,673.1 L973.8,681.9 L964.6,681.9Z" fill="#FF8300"/>
<path d="M1072.0,553.6 H1084.5 M1078.2,553.6 V596.5 M1072.0,596.5 H1084.5" stroke="#FF8300" stroke-width="2.6" stroke-linecap="round" fill="none"/>
<path d="M1078.2,569.1 L1082.8,577.9 L1073.7,577.9Z" fill="#FF8300"/>
<path d="M1181.1,697.2 H1193.5 M1187.3,697.2 V724.5 M1181.1,724.5 H1193.5" stroke="#FF8300" stroke-width="2.6" stroke-linecap="round" fill="none"/>
<path d="M1187.3,705.7 L1191.9,714.5 L1182.7,714.5Z" fill="#FF8300"/>
<path d="M1290.1,819.7 H1302.5 M1296.3,819.7 V836.5 M1290.1,836.5 H1302.5" stroke="#FF8300" stroke-width="2.6" stroke-linecap="round" fill="none"/>
<path d="M1296.3,824.3 L1300.9,833.1 L1291.7,833.1Z" fill="#FF8300"/>
<line x1="1151.5" y1="554.1" x2="1194.2" y2="554.1" stroke="#0A84FF" stroke-width="3" stroke-linecap="round"/>
<rect x="1168.6" y="549.7" width="8.4" height="8.8" fill="#0A84FF"/>
<text x="1203.5" y="562.1" font-size="24" font-family="Liberation Serif" font-weight="bold">613cm<tspan font-size="16" dy="-10">-1</tspan></text>
<line x1="1151.5" y1="589.2" x2="1194.2" y2="589.2" stroke="#E2005C" stroke-width="3" stroke-linecap="round"/>
<circle cx="1172.8" cy="589.2" r="4.7" fill="#E2005C"/>
<text x="1203.5" y="597.2" font-size="24" font-family="Liberation Serif" font-weight="bold">774cm<tspan font-size="16" dy="-10">-1</tspan></text>
<line x1="1151.5" y1="624.5" x2="1194.2" y2="624.5" stroke="#FF8300" stroke-width="3" stroke-linecap="round"/>
<path d="M1172.8,618.8 L1178.3,627.9 L1167.3,627.9Z" fill="#FF8300"/>
<text x="1203.5" y="632.5" font-size="24" font-family="Liberation Serif" font-weight="bold">1650cm<tspan font-size="16" dy="-10">-1</tspan></text>
<defs>
<linearGradient id="gfront" x1="0" y1="0" x2="0" y2="1"><stop offset="0" stop-color="#F5A020"/><stop offset="0.07" stop-color="#F7B030"/><stop offset="0.18" stop-color="#FAD558"/><stop offset="0.27" stop-color="#FCE96E"/><stop offset="0.36" stop-color="#FBEB80"/><stop offset="0.46" stop-color="#F6DFA6"/><stop offset="0.57" stop-color="#F5DCA8"/><stop offset="0.68" stop-color="#FBEC82"/><stop offset="0.78" stop-color="#FBE470"/><stop offset="0.84" stop-color="#F8C850"/><stop offset="0.92" stop-color="#F5AE32"/><stop offset="1" stop-color="#F39A1E"/></linearGradient>
<linearGradient id="gside" x1="0" y1="0" x2="0" y2="1"><stop offset="0" stop-color="#C3862C"/><stop offset="0.18" stop-color="#BBA055"/><stop offset="0.38" stop-color="#B9AB6E"/><stop offset="0.52" stop-color="#B59E86"/><stop offset="0.64" stop-color="#B8AA70"/><stop offset="0.8" stop-color="#B49A48"/><stop offset="0.9" stop-color="#B07E30"/><stop offset="1" stop-color="#A8701E"/></linearGradient>
</defs>
<polygon points="819.6,41.6 870.0,24.0 877.0,343.5 831.6,404.0" fill="#E3F5FC"/>
<polygon points="870.0,24.0 1224.4,25.0 1221.0,352.0 877.0,343.5" fill="#E3F5FC"/>
<polygon points="877.0,343.5 1221.0,352.0 1219.0,413.0 831.6,404.0" fill="#E3F5FC"/>
<line x1="870.9" y1="65.7" x2="1224.0" y2="66.8" stroke="#CDD2D8" stroke-width="1.1"/>
<line x1="870.9" y1="65.7" x2="821.1" y2="87.5" stroke="#CDD2D8" stroke-width="1.1"/>
<line x1="871.8" y1="107.0" x2="1223.5" y2="108.9" stroke="#CDD2D8" stroke-width="1.1"/>
<line x1="871.8" y1="107.0" x2="822.6" y2="132.9" stroke="#CDD2D8" stroke-width="1.1"/>
<line x1="872.7" y1="148.0" x2="1223.1" y2="150.6" stroke="#CDD2D8" stroke-width="1.1"/>
<line x1="872.7" y1="148.0" x2="824.1" y2="178.0" stroke="#CDD2D8" stroke-width="1.1"/>
<line x1="873.6" y1="189.0" x2="1222.7" y2="191.5" stroke="#CDD2D8" stroke-width="1.1"/>
<line x1="873.6" y1="189.0" x2="825.6" y2="223.1" stroke="#CDD2D8" stroke-width="1.1"/>
<line x1="874.5" y1="230.0" x2="1222.2" y2="232.5" stroke="#CDD2D8" stroke-width="1.1"/>
<line x1="874.5" y1="230.0" x2="827.1" y2="268.3" stroke="#CDD2D8" stroke-width="1.1"/>
<line x1="875.4" y1="271.0" x2="1221.8" y2="273.4" stroke="#CDD2D8" stroke-width="1.1"/>
<line x1="875.4" y1="271.0" x2="828.6" y2="313.4" stroke="#CDD2D8" stroke-width="1.1"/>
<line x1="876.3" y1="311.0" x2="1221.4" y2="312.4" stroke="#CDD2D8" stroke-width="1.1"/>
<line x1="876.3" y1="311.0" x2="830.1" y2="357.4" stroke="#CDD2D8" stroke-width="1.1"/>
<line x1="928.8" y1="24.2" x2="934.1" y2="344.9" stroke="#CDD2D8" stroke-width="1.1"/>
<line x1="1045.2" y1="24.5" x2="1047.1" y2="347.7" stroke="#CDD2D8" stroke-width="1.1"/>
<line x1="1163.8" y1="24.8" x2="1162.2" y2="350.5" stroke="#CDD2D8" stroke-width="1.1"/>
<line x1="847.4" y1="33.0" x2="856.5" y2="373.0" stroke="#CDD2D8" stroke-width="1.1"/>
<line x1="856.0" y1="374.0" x2="1220.0" y2="381.5" stroke="#CDD2D8" stroke-width="1.1"/>
<line x1="934.1" y1="344.9" x2="896.4" y2="405.5" stroke="#CDD2D8" stroke-width="1.1"/>
<line x1="1047.1" y1="347.7" x2="1025.8" y2="408.5" stroke="#CDD2D8" stroke-width="1.1"/>
<line x1="1162.2" y1="350.5" x2="1157.0" y2="411.6" stroke="#CDD2D8" stroke-width="1.1"/>
<polyline points="831.6,404.0 819.6,41.6 870.0,24.0 1224.4,25.0 1221.0,352.0" stroke="#000" stroke-width="2.0" fill="none" stroke-linejoin="round"/>
<polyline points="870.0,24.0 877.0,343.5 1221.0,352.0" stroke="#000" stroke-width="2.0" fill="none" stroke-linejoin="round"/>
<polyline points="877.0,343.5 831.6,404.0 1219.0,413.0 1221.0,352.0" stroke="#000" stroke-width="2.0" fill="none" stroke-linejoin="round"/>
<defs><linearGradient id="gf0" gradientUnits="userSpaceOnUse" x1="0" y1="102.6" x2="0" y2="395.4" href="#gfront"/><linearGradient id="gs0" gradientUnits="userSpaceOnUse" x1="0" y1="86.0" x2="0" y2="395.4" href="#gside"/></defs>
<polygon points="937.0,102.6 960.4,86.0 964.6,354.8 942.4,395.4" fill="url(#gs0)"/>
<polygon points="854.5,102.6 937.0,102.6 942.4,395.4 862.1,392.9" fill="url(#gf0)" fill-opacity="0.96"/>
<polygon points="854.5,102.6 883.6,102.6 883.6,392.9 862.1,392.9" fill="#FFF6B0" fill-opacity="0.10"/>
<polygon points="854.5,102.6 937.0,102.6 960.4,86.0 883.6,86.0" fill="#CF8A2A" fill-opacity="0.95"/>
<polyline points="854.5,102.6 883.6,86.0 960.4,86.0 937.0,102.6" fill="none" stroke="#EC8A10" stroke-width="1.3" stroke-opacity="0.8" stroke-linejoin="round"/>
<defs><linearGradient id="gf1" gradientUnits="userSpaceOnUse" x1="0" y1="169.0" x2="0" y2="398.3" href="#gfront"/><linearGradient id="gs1" gradientUnits="userSpaceOnUse" x1="0" y1="147.4" x2="0" y2="398.3" href="#gside"/></defs>
<polygon points="1068.6,169.5 1079.6,147.4 1080.0,357.6 1067.6,398.3" fill="url(#gs1)"/>
<polygon points="983.7,169.0 1068.6,169.5 1067.6,398.3 986.3,396.0" fill="url(#gf1)" fill-opacity="0.96"/>
<polygon points="983.7,169.0 1003.7,169.0 1003.7,396.0 986.3,396.0" fill="#FFF6B0" fill-opacity="0.10"/>
<polygon points="983.7,169.0 1068.6,169.5 1079.6,147.4 1003.7,146.3" fill="#CF8A2A" fill-opacity="0.95"/>
<polyline points="983.7,169.0 1003.7,146.3 1079.6,147.4 1068.6,169.5" fill="none" stroke="#EC8A10" stroke-width="1.3" stroke-opacity="0.8" stroke-linejoin="round"/>
<defs><linearGradient id="gf2" gradientUnits="userSpaceOnUse" x1="0" y1="245.4" x2="0" y2="402.0" href="#gfront"/><linearGradient id="gs2" gradientUnits="userSpaceOnUse" x1="0" y1="218.7" x2="0" y2="402.0" href="#gside"/></defs>
<polygon points="1199.1,248.0 1199.6,218.7 1199.0,360.0 1195.3,402.0" fill="url(#gs2)"/>
<polygon points="1113.7,245.4 1199.1,248.0 1195.3,402.0 1114.0,399.4" fill="url(#gf2)" fill-opacity="0.96"/>
<polygon points="1113.7,245.4 1122.7,245.4 1122.7,399.4 1114.0,399.4" fill="#FFF6B0" fill-opacity="0.10"/>
<polygon points="1113.7,245.4 1199.1,248.0 1199.6,218.7 1122.7,217.4" fill="#CF8A2A" fill-opacity="0.95"/>
<polyline points="1113.7,245.4 1122.7,217.4 1199.6,218.7 1199.1,248.0" fill="none" stroke="#EC8A10" stroke-width="1.3" stroke-opacity="0.8" stroke-linejoin="round"/>
<path d="M904.1,108.6 H915.1 M909.6,93.6 V108.6" stroke="#8F8A6A" stroke-width="2.4" fill="none"/>
<path d="M903.8,79.6 H915.4 M909.6,79.6 V93.6" stroke="#1E90F0" stroke-width="2.8" fill="none"/>
<path d="M1028.3,168.5 H1039.3 M1033.8,157.4 V168.5" stroke="#8F8A6A" stroke-width="2.4" fill="none"/>
<path d="M1028.0,145.3 H1039.6 M1033.8,145.3 V157.4" stroke="#1E90F0" stroke-width="2.8" fill="none"/>
<path d="M1153.0,239.0 H1164.0 M1158.5,231.0 V239.0" stroke="#8F8A6A" stroke-width="2.4" fill="none"/>
<path d="M1152.7,223.8 H1164.3 M1158.5,223.8 V231.0" stroke="#1E90F0" stroke-width="2.8" fill="none"/>
<g transform="translate(880.12,68.7) scale(0.296,0.285)"><text x="0" y="0" font-size="100" font-family="Liberation Serif" font-weight="bold" stroke="#fff" stroke-width="8" paint-order="stroke" stroke-linejoin="round">33054</text></g>
<g transform="translate(995.62,134.8) scale(0.2955,0.29)"><text x="0" y="0" font-size="100" font-family="Liberation Serif" font-weight="bold" stroke="#fff" stroke-width="8" paint-order="stroke" stroke-linejoin="round">26963</text></g>
<g transform="translate(1118.22,203.2) scale(0.2975,0.29)"><text x="0" y="0" font-size="100" font-family="Liberation Serif" font-weight="bold" stroke="#fff" stroke-width="8" paint-order="stroke" stroke-linejoin="round">17586</text></g>
<g transform="translate(736.62,435.6) scale(0.2955,0.266)"><text x="0" y="0" font-size="100" font-family="Liberation Serif" font-weight="bold">3D ZnO/Ag HS</text></g>
<g transform="translate(945.02,435.6) scale(0.296,0.266)"><text x="0" y="0" font-size="100" font-family="Liberation Serif" font-weight="bold">3D ZnO/Ag SS</text></g>
<g transform="translate(1145.94,435.6) scale(0.293,0.266)"><text x="0" y="0" font-size="100" font-family="Liberation Serif" font-weight="bold">ZnO/Ag</text></g>
<g transform="translate(959.75,489.7) scale(0.41,0.39)"><text x="0" y="0" font-size="100" font-family="Liberation Serif" font-weight="bold">Sample</text></g>
<g transform="translate(773.4,348.55) rotate(-90) scale(0.382,0.40)"><text x="0" y="0" font-size="100" font-family="Liberation Serif" font-weight="bold">Intensity(a.u.)</text></g>
<g transform="translate(674.62,39.7) scale(0.416,0.419)"><text x="0" y="0" font-size="100" font-family="Liberation Sans" font-weight="bold">(b)</text></g>
</svg></body></html>
